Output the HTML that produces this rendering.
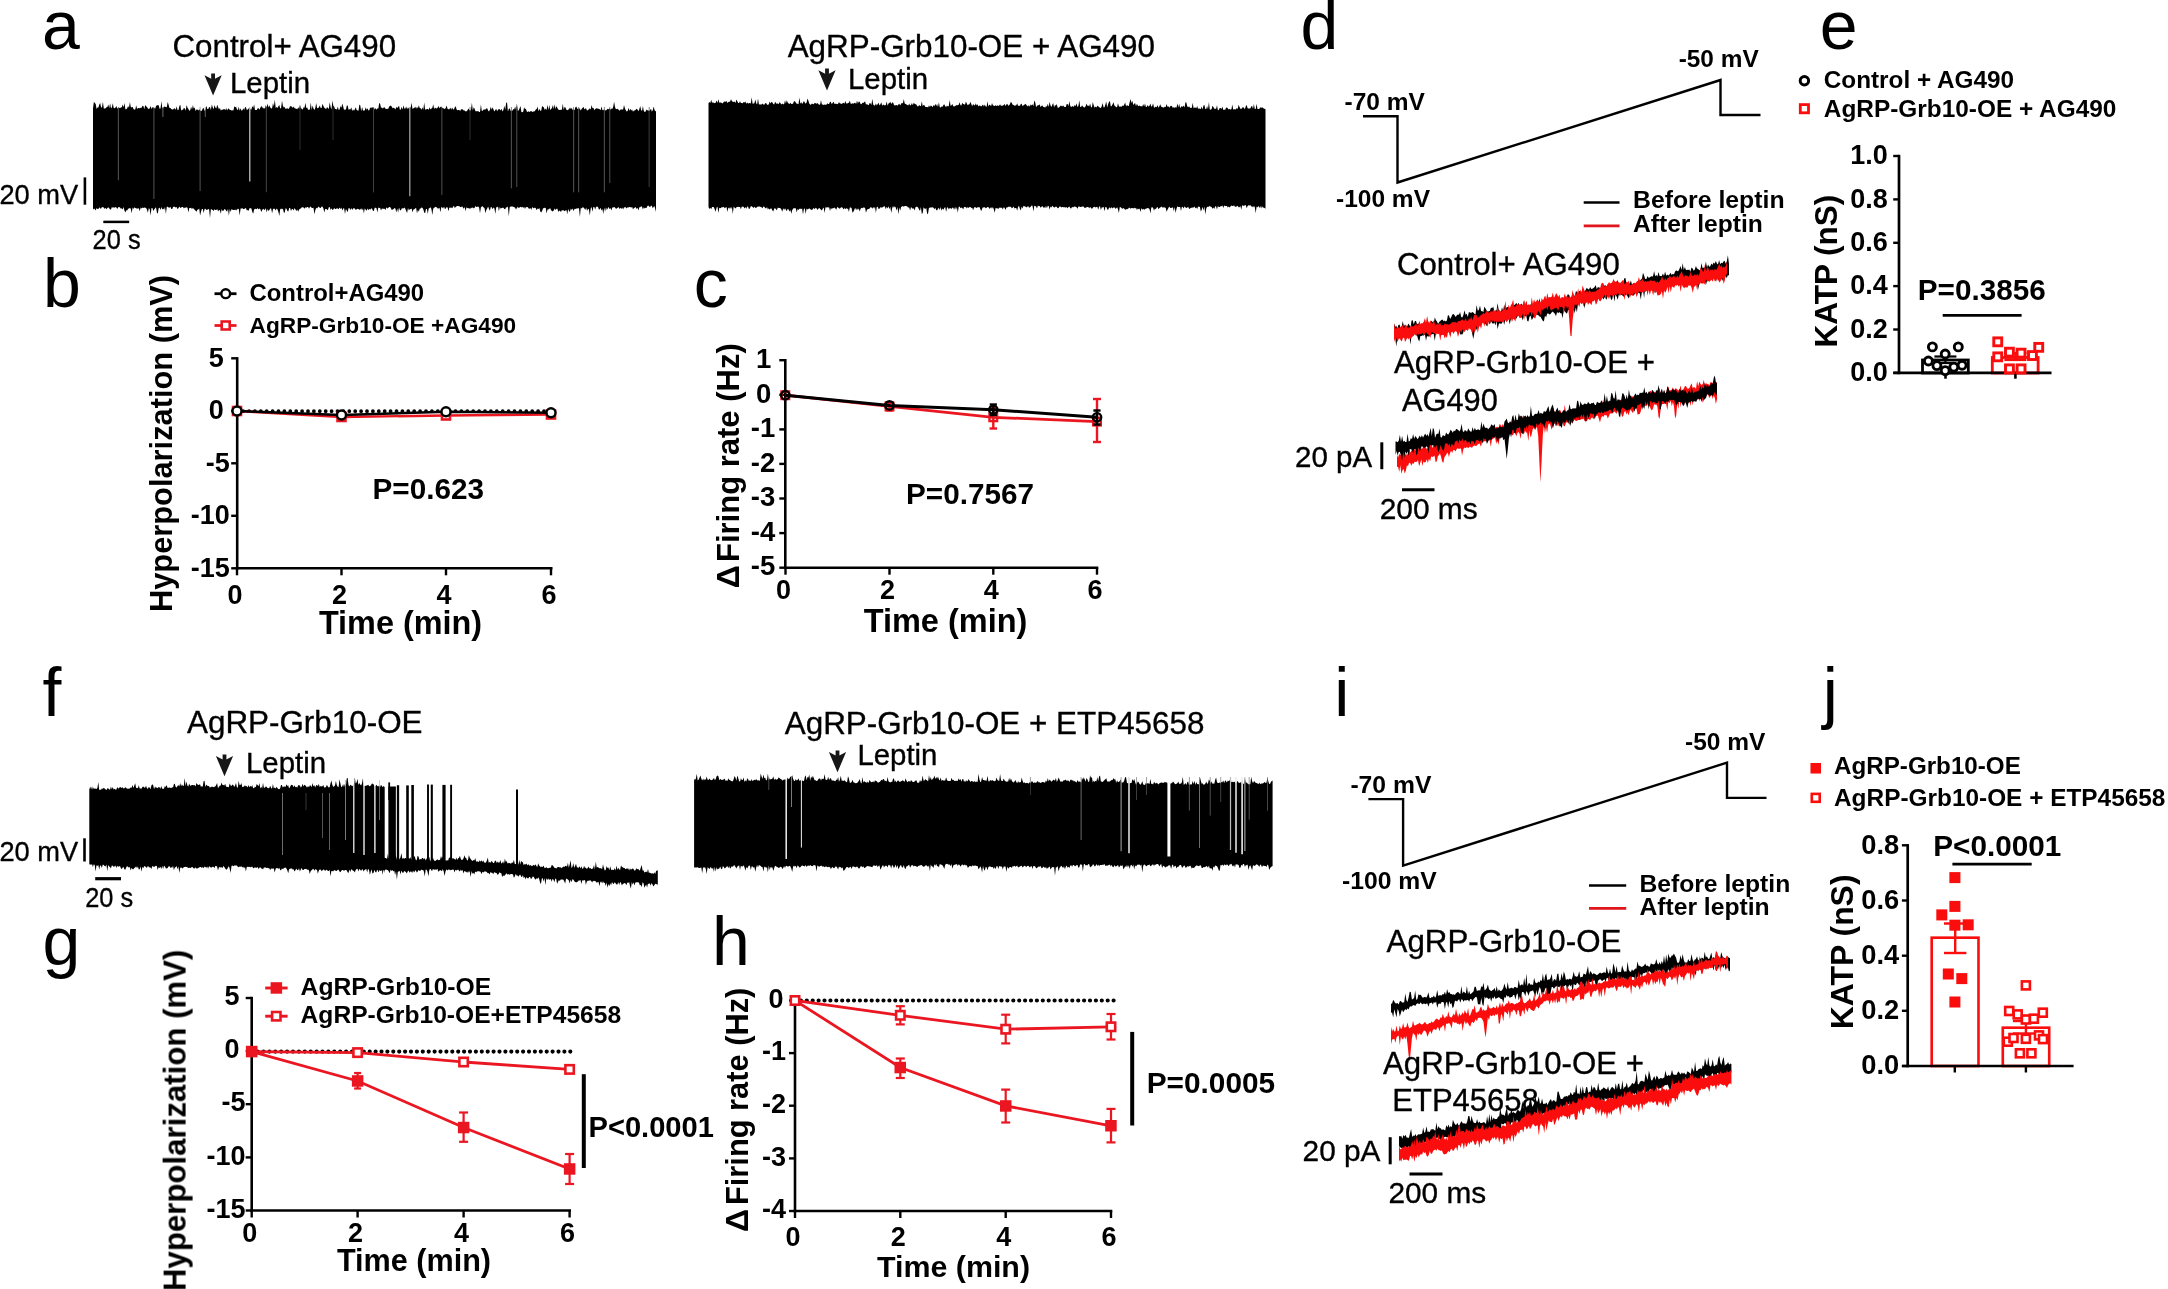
<!DOCTYPE html>
<html lang="en"><head><meta charset="utf-8"><title>Figure</title>
<style>
html,body{margin:0;padding:0;background:#fff;}
body{width:2168px;height:1289px;overflow:hidden;}
svg{display:block;font-family:"Liberation Sans",sans-serif;}
</style></head><body>
<svg width="2168" height="1289" viewBox="0 0 2168 1289">
<rect width="2168" height="1289" fill="#fff"/>
<g filter="url(#soft)">
<text x="42" y="48.7" font-size="68">a</text>
<text x="172.5" y="57" font-size="31.3" stroke="#000" stroke-width="0.35">Control+ AG490</text>
<polygon points="204.5,75.2 211.2,78.8 211.2,73.6 215,73.6 215,78.8 221.7,75.2 213.1,95.4" fill="#151515"/>
<text x="230" y="93" font-size="29.4" stroke="#000" stroke-width="0.35">Leptin</text>
<polygon points="93,108.3 93.9,101.8 94.8,102.9 95.7,104 96.6,109 97.5,107.5 98.4,107.6 99.3,104.5 100.2,103 101.1,107.5 102,107.2 102.9,101.7 103.8,108.6 104.7,108.6 105.6,108.3 106.5,107.3 107.4,106.9 108.3,104.6 109.2,108.2 110.1,103.2 111,108.5 111.9,107.3 112.8,103.3 113.7,107.9 114.6,108.2 115.5,107.6 116.4,105.9 117.3,108.8 118.2,107.6 119.1,107.7 120,107.9 120.9,107.5 121.8,107.3 122.7,104.4 123.6,107.3 124.5,102.9 125.4,109.3 126.3,109.2 127.2,108.3 128.1,105.9 129,107.7 129.9,102.1 130.8,107 131.7,107.6 132.6,106.7 133.5,108.9 134.4,109.7 135.3,109.3 136.2,105.2 137.1,108.9 138,108 138.9,107.9 139.8,108.3 140.7,107.8 141.6,107.7 142.5,105.8 143.4,106 144.3,109.3 145.2,105.1 146.1,106.2 147,107 147.9,108.4 148.8,108.9 149.7,108.3 150.6,106 151.5,108.9 152.4,107.2 153.3,107.5 154.2,108 155.1,108.7 156,106.2 156.9,105.3 157.8,105.3 158.7,105.3 159.6,108.8 160.5,108.4 161.4,101.3 162.3,108.3 163.2,107.7 164.1,106.6 165,106.7 165.9,106.9 166.8,107.3 167.7,101.9 168.6,104.7 169.5,108.1 170.4,108 171.3,109 172.2,109.6 173.1,109.4 174,108.6 174.9,108.4 175.8,109.7 176.7,106.2 177.6,110.3 178.5,110 179.4,106.1 180.3,104.8 181.2,110.8 182.1,109.6 183,110.1 183.9,107.8 184.8,108.5 185.7,110.5 186.6,104.9 187.5,107.7 188.4,109.1 189.3,110.8 190.2,110.3 191.1,106.8 192,109.5 192.9,105.1 193.8,108.4 194.7,107.5 195.6,111.1 196.5,109.6 197.4,109.4 198.3,110.4 199.2,109.2 200.1,110.2 201,111.2 201.9,110.5 202.8,108.6 203.7,107.9 204.6,111 205.5,109.6 206.4,105.8 207.3,109.1 208.2,109.1 209.1,107.2 210,107 210.9,109.9 211.8,104.6 212.7,107.2 213.6,109.3 214.5,104.9 215.4,107.4 216.3,108.5 217.2,104.8 218.1,106.9 219,109.4 219.9,107.8 220.8,110.5 221.7,109.8 222.6,109.8 223.5,109.3 224.4,109 225.3,110.2 226.2,107.9 227.1,110.5 228,108.7 228.9,108.6 229.8,110 230.7,110.1 231.6,110.4 232.5,110.3 233.4,110.6 234.3,106.3 235.2,107.2 236.1,106.7 237,109.6 237.9,109.9 238.8,106.8 239.7,110.8 240.6,108.2 241.5,110.8 242.4,110.2 243.3,108.2 244.2,110 245.1,107.1 246,107.6 246.9,110.3 247.8,109.3 248.7,108.4 249.6,107.2 250.5,109.5 251.4,109.6 252.3,106.1 253.2,108.1 254.1,104.3 255,109.9 255.9,109.9 256.8,110 257.7,108.2 258.6,108.3 259.5,109.7 260.4,107.6 261.3,106.2 262.2,106.7 263.1,108.7 264,107.4 264.9,109 265.8,104.9 266.7,107.5 267.6,103.4 268.5,107.6 269.4,105.3 270.3,107.6 271.2,108.5 272.1,108.3 273,103 273.9,106.6 274.8,99.5 275.7,107.9 276.6,106.9 277.5,107.9 278.4,106.2 279.3,104.9 280.2,108.5 281.1,108.1 282,100.8 282.9,105.7 283.8,107.5 284.7,107.1 285.6,108.9 286.5,108.6 287.4,108.3 288.3,108.9 289.2,108.2 290.1,105.9 291,106.6 291.9,106.5 292.8,108.1 293.7,106.5 294.6,108.2 295.5,108.6 296.4,108.8 297.3,109.3 298.2,107.2 299.1,108.9 300,104.4 300.9,108.7 301.8,108.4 302.7,109.8 303.6,107.2 304.5,107.7 305.4,102.8 306.3,108.1 307.2,107.4 308.1,109.8 309,109.8 309.9,109.4 310.8,102.6 311.7,109.9 312.6,105.4 313.5,108.4 314.4,109.9 315.3,107.9 316.2,102.9 317.1,108.1 318,108.2 318.9,107.2 319.8,105.4 320.7,108.1 321.6,108.1 322.5,103.8 323.4,105.9 324.3,107.8 325.2,108.3 326.1,109.3 327,107.1 327.9,107.9 328.8,109 329.7,102.3 330.6,106.9 331.5,109.6 332.4,100.5 333.3,105.8 334.2,106.7 335.1,109.3 336,108.8 336.9,109.7 337.8,106.4 338.7,109.9 339.6,109.6 340.5,106.1 341.4,107.7 342.3,103.6 343.2,106.6 344.1,110.3 345,108.9 345.9,109.9 346.8,105.4 347.7,105.6 348.6,109.7 349.5,109.3 350.4,109.5 351.3,107.2 352.2,111.1 353.1,109.2 354,110.7 354.9,109.3 355.8,107.2 356.7,110 357.6,110.4 358.5,110.8 359.4,104.4 360.3,105.5 361.2,111.2 362.1,107.1 363,110.3 363.9,110.7 364.8,110.3 365.7,107.3 366.6,109.7 367.5,108.3 368.4,110.6 369.3,110.2 370.2,107.2 371.1,108.5 372,106.7 372.9,107.9 373.8,107.5 374.7,109.6 375.6,108.1 376.5,109.8 377.4,108.3 378.3,108.8 379.2,103.1 380.1,103.7 381,107.7 381.9,107.4 382.8,108.6 383.7,107.6 384.6,107.3 385.5,108.8 386.4,108.9 387.3,108.7 388.2,108.9 389.1,106.6 390,106.1 390.9,105.4 391.8,106.7 392.7,108.3 393.6,107.8 394.5,108.2 395.4,109.4 396.3,107 397.2,107.7 398.1,107.3 399,105.6 399.9,109.7 400.8,109.5 401.7,106.7 402.6,109.5 403.5,105.3 404.4,108.8 405.3,108.5 406.2,106.6 407.1,109.3 408,107.3 408.9,108.7 409.8,107.7 410.7,107.5 411.6,102.8 412.5,109.1 413.4,108.3 414.3,108.1 415.2,106.6 416.1,108.7 417,106.7 417.9,108.5 418.8,105.3 419.7,108 420.6,108.2 421.5,109.8 422.4,107.3 423.3,109.8 424.2,102.6 425.1,109.5 426,109.6 426.9,109 427.8,108.9 428.7,109.7 429.6,107.2 430.5,109.4 431.4,108.4 432.3,108.1 433.2,104.2 434.1,109.1 435,107.6 435.9,108.2 436.8,108.5 437.7,107.4 438.6,106.1 439.5,108.2 440.4,107 441.3,106.5 442.2,108 443.1,108.1 444,108.7 444.9,109.1 445.8,107.7 446.7,105.4 447.6,108.9 448.5,109.2 449.4,109.3 450.3,107.6 451.2,109.7 452.1,107.6 453,109.3 453.9,109.6 454.8,107.2 455.7,106.3 456.6,109.4 457.5,110.3 458.4,110.1 459.3,110 460.2,110.9 461.1,109.2 462,109.2 462.9,109.4 463.8,110.5 464.7,110.5 465.6,111.5 466.5,111.3 467.4,110.6 468.3,108.6 469.2,109.6 470.1,111 471,109.4 471.9,102.8 472.8,110.4 473.7,107.3 474.6,108.7 475.5,111.3 476.4,111.2 477.3,111.3 478.2,110.9 479.1,112 480,111.9 480.9,104.4 481.8,110.9 482.7,110.8 483.6,109.6 484.5,109.6 485.4,109.5 486.3,108.4 487.2,108.3 488.1,110.4 489,111.4 489.9,109.8 490.8,106.8 491.7,109.8 492.6,107.3 493.5,109.6 494.4,111.4 495.3,109.9 496.2,108.8 497.1,111.3 498,109.8 498.9,109.1 499.8,109.3 500.7,110.4 501.6,108.7 502.5,111.4 503.4,110 504.3,105.8 505.2,109.8 506.1,103.2 507,102.1 507.9,111.4 508.8,108.9 509.7,108.2 510.6,110.7 511.5,110.8 512.4,110.8 513.3,109.1 514.2,109.5 515.1,106.6 516,109.7 516.9,103.6 517.8,110.8 518.7,110.4 519.6,108.3 520.5,105.9 521.4,112.1 522.3,112.3 523.2,111.8 524.1,107.3 525,109 525.9,108.8 526.8,111.6 527.7,111.9 528.6,111.3 529.5,111.9 530.4,111.3 531.3,110.9 532.2,112 533.1,111.5 534,111.6 534.9,110.9 535.8,109.5 536.7,108.9 537.6,106.5 538.5,111.2 539.4,108.8 540.3,110.7 541.2,110.7 542.1,106.1 543,106.7 543.9,107.5 544.8,109.9 545.7,108.6 546.6,110 547.5,104.8 548.4,109.9 549.3,104.9 550.2,109.9 551.1,109 552,107.9 552.9,105.1 553.8,109.1 554.7,104.3 555.6,108.9 556.5,106.1 557.4,108 558.3,109.6 559.2,110 560.1,109.8 561,109.9 561.9,109.4 562.8,103.8 563.7,109.7 564.6,107 565.5,107.6 566.4,109.7 567.3,110.2 568.2,109.8 569.1,109.1 570,107.6 570.9,109.1 571.8,107.9 572.7,109.9 573.6,109.4 574.5,110.3 575.4,107.3 576.3,106.6 577.2,108.6 578.1,109.3 579,108 579.9,109.1 580.8,110.5 581.7,108.7 582.6,107.9 583.5,106.7 584.4,109.5 585.3,108.3 586.2,108.8 587.1,110.7 588,109.8 588.9,109.5 589.8,108.2 590.7,109.5 591.6,105 592.5,108.2 593.4,107.8 594.3,110.2 595.2,109.1 596.1,108.6 597,108.3 597.9,108.8 598.8,108.8 599.7,109.2 600.6,110.3 601.5,106.5 602.4,109.9 603.3,110.2 604.2,109.3 605.1,110.3 606,110.5 606.9,109.5 607.8,108.8 608.7,109.2 609.6,108.3 610.5,109.8 611.4,108.4 612.3,109 613.2,106.8 614.1,101.8 615,106.9 615.9,109.2 616.8,109 617.7,108.8 618.6,109.7 619.5,110.7 620.4,109.6 621.3,109.6 622.2,109.4 623.1,109.6 624,105.1 624.9,108.2 625.8,110.3 626.7,111.4 627.6,111.1 628.5,107.8 629.4,110.7 630.3,108.8 631.2,110.5 632.1,109.6 633,111.8 633.9,110.4 634.8,110.4 635.7,109.7 636.6,108.7 637.5,109.4 638.4,111.3 639.3,109.2 640.2,106 641.1,109.9 642,111 642.9,106.1 643.8,111 644.7,111.9 645.6,111.4 646.5,109.5 647.4,110.3 648.3,110.6 649.2,111 650.1,110 651,108.8 651.9,111.7 652.8,110.1 653.7,106.6 654.6,110.3 656,111.4 656,211.9 654.6,206.3 653.7,206.8 652.8,208.2 651.9,205.9 651,205.4 650.1,207.2 649.2,206.6 648.3,205.5 647.4,206 646.5,207.9 645.6,207.8 644.7,208.6 643.8,207.3 642.9,209.5 642,206.8 641.1,206.2 640.2,207.3 639.3,207.2 638.4,210.4 637.5,207.8 636.6,208.9 635.7,207 634.8,207.7 633.9,207.9 633,209.6 632.1,206.7 631.2,207.7 630.3,206.9 629.4,206.9 628.5,207.5 627.6,207.2 626.7,208.6 625.8,207.2 624.9,207.3 624,207.4 623.1,209.6 622.2,207.4 621.3,209 620.4,207.7 619.5,209.1 618.6,207.1 617.7,207.8 616.8,208.5 615.9,208.8 615,207.4 614.1,207.1 613.2,207.5 612.3,207.6 611.4,210.5 610.5,208 609.6,209.2 608.7,206.9 607.8,208.3 606.9,210.1 606,207.3 605.1,211.6 604.2,207.7 603.3,214 602.4,208.9 601.5,210.5 600.6,207.7 599.7,209.4 598.8,209.3 597.9,206.7 597,206.8 596.1,206.7 595.2,209.4 594.3,207 593.4,207 592.5,211.8 591.6,207 590.7,208.6 589.8,215.5 588.9,209.3 588,208.7 587.1,211 586.2,207.6 585.3,209.9 584.4,208.6 583.5,207.4 582.6,207.3 581.7,208.6 580.8,207.8 579.9,216.9 579,208.2 578.1,208.2 577.2,208.6 576.3,208.4 575.4,209 574.5,208.7 573.6,211.3 572.7,208.6 571.8,209.9 570.9,208.5 570,211.5 569.1,211.6 568.2,208.7 567.3,214.2 566.4,210 565.5,210.6 564.6,211.3 563.7,210.2 562.8,210.5 561.9,209.9 561,211.9 560.1,210.9 559.2,210.4 558.3,211.9 557.4,208.7 556.5,208.7 555.6,209.9 554.7,208.4 553.8,210.2 552.9,211.4 552,211 551.1,210.3 550.2,208.3 549.3,208.7 548.4,209.5 547.5,209.6 546.6,213.5 545.7,208.1 544.8,207.8 543.9,207.9 543,208.5 542.1,211 541.2,212.4 540.3,211.5 539.4,208 538.5,209.1 537.6,208.5 536.7,210.3 535.8,208.3 534.9,207.6 534,208.2 533.1,208 532.2,207 531.3,209.9 530.4,208.1 529.5,208.7 528.6,208.4 527.7,207.1 526.8,207.2 525.9,206.9 525,209.1 524.1,206.8 523.2,208 522.3,206.8 521.4,207.5 520.5,206.7 519.6,207.6 518.7,208 517.8,206.7 516.9,208 516,209.6 515.1,207.5 514.2,207.2 513.3,206.8 512.4,206.4 511.5,206.6 510.6,206.5 509.7,207.3 508.8,216.3 507.9,206.4 507,207.4 506.1,207.3 505.2,209.2 504.3,208.9 503.4,207.7 502.5,207.8 501.6,208 500.7,208.7 499.8,206.9 498.9,211.2 498,206.6 497.1,207.3 496.2,207.3 495.3,214 494.4,208.2 493.5,207.5 492.6,209.2 491.7,207.3 490.8,207 489.9,210.7 489,209.1 488.1,206.5 487.2,208.6 486.3,210.1 485.4,213.2 484.5,208.1 483.6,207.4 482.7,206.3 481.8,206.4 480.9,207.4 480,213.2 479.1,207.4 478.2,206.6 477.3,206.7 476.4,206.9 475.5,205.9 474.6,207.8 473.7,208.6 472.8,207.2 471.9,208.2 471,207.6 470.1,209 469.2,208.2 468.3,208.2 467.4,207.9 466.5,207.2 465.6,211.2 464.7,207.1 463.8,208.7 462.9,207.5 462,206.3 461.1,207.2 460.2,206.9 459.3,206.2 458.4,205.9 457.5,206.1 456.6,206.3 455.7,206.9 454.8,207.9 453.9,205.7 453,206.9 452.1,208.2 451.2,207.6 450.3,207.8 449.4,207.5 448.5,211.2 447.6,207.4 446.7,207.1 445.8,208.5 444.9,209.1 444,206.6 443.1,208.6 442.2,207.6 441.3,206.9 440.4,212.3 439.5,207.8 438.6,208.5 437.7,208.4 436.8,207.5 435.9,206.7 435,207.2 434.1,207.8 433.2,208.7 432.3,214.9 431.4,208.9 430.5,207.2 429.6,208.1 428.7,208.4 427.8,213.9 426.9,208.9 426,209.1 425.1,213.2 424.2,212.4 423.3,209.3 422.4,207.7 421.5,207.6 420.6,208.4 419.7,208.7 418.8,211.8 417.9,209.7 417,213.6 416.1,207.7 415.2,208.6 414.3,209.3 413.4,209.6 412.5,212.2 411.6,208.5 410.7,209.3 409.8,209.1 408.9,210.5 408,207.9 407.1,212.9 406.2,211.1 405.3,208.7 404.4,207.6 403.5,208.5 402.6,208.2 401.7,208.6 400.8,210.6 399.9,210 399,207.4 398.1,212.6 397.2,208.4 396.3,212.4 395.4,208.4 394.5,208.1 393.6,209 392.7,209.5 391.8,209.9 390.9,208.2 390,207.1 389.1,207 388.2,208.1 387.3,208.5 386.4,207.2 385.5,210.1 384.6,208.7 383.7,208.7 382.8,208.7 381.9,208.4 381,210.4 380.1,207.7 379.2,207.9 378.3,207.6 377.4,212.4 376.5,208.2 375.6,207.8 374.7,207.8 373.8,211 372.9,210.7 372,208.6 371.1,208.4 370.2,209.7 369.3,208.8 368.4,210.3 367.5,208.6 366.6,210.8 365.7,209.7 364.8,208.2 363.9,213.4 363,208.5 362.1,210.2 361.2,208.2 360.3,209.5 359.4,209.7 358.5,209.1 357.6,208.8 356.7,209.3 355.8,209.9 354.9,208.5 354,208.3 353.1,208.6 352.2,210.1 351.3,208 350.4,210 349.5,208.2 348.6,208 347.7,212.3 346.8,210.4 345.9,208.9 345,213.9 344.1,208.2 343.2,208.4 342.3,210.6 341.4,207.8 340.5,209 339.6,207.4 338.7,209.3 337.8,208.4 336.9,208.2 336,209.1 335.1,209.1 334.2,207.9 333.3,209.6 332.4,210 331.5,208.2 330.6,209.9 329.7,207.1 328.8,207.3 327.9,210.3 327,209.6 326.1,209.1 325.2,209 324.3,212.6 323.4,208.5 322.5,206.8 321.6,206.4 320.7,207.9 319.8,208.1 318.9,206.6 318,207.2 317.1,208.5 316.2,207.8 315.3,210.3 314.4,214.3 313.5,207.7 312.6,208 311.7,207.9 310.8,206.5 309.9,206.9 309,208.8 308.1,207.1 307.2,207 306.3,207.7 305.4,207.3 304.5,208.7 303.6,207.5 302.7,207.3 301.8,207.2 300.9,208.4 300,208.8 299.1,209.6 298.2,211.8 297.3,209.5 296.4,210.9 295.5,209.6 294.6,208.1 293.7,210.4 292.8,209.1 291.9,209 291,211.1 290.1,208.1 289.2,207.9 288.3,211.6 287.4,211.1 286.5,208.7 285.6,208.3 284.7,212.7 283.8,212.6 282.9,208.4 282,209.4 281.1,208.6 280.2,209.3 279.3,216.1 278.4,211.9 277.5,209.4 276.6,208.6 275.7,210.5 274.8,209 273.9,208.4 273,209.3 272.1,213.2 271.2,208.8 270.3,208.3 269.4,209.9 268.5,211 267.6,208.9 266.7,212.6 265.8,208.1 264.9,210.1 264,209.5 263.1,208.8 262.2,210.1 261.3,211.9 260.4,209.3 259.5,208.4 258.6,209.6 257.7,208 256.8,209.3 255.9,208.8 255,209 254.1,209.6 253.2,213.8 252.3,212.1 251.4,208.5 250.5,208.2 249.6,208.1 248.7,210.8 247.8,210 246.9,210.4 246,208.3 245.1,208.2 244.2,208.9 243.3,209.1 242.4,208.3 241.5,208.5 240.6,208.6 239.7,215.6 238.8,208.9 237.9,208.8 237,209.4 236.1,210.6 235.2,209.4 234.3,209.9 233.4,210 232.5,209.7 231.6,209.1 230.7,212.1 229.8,208.9 228.9,215.7 228,208.8 227.1,211.8 226.2,210.8 225.3,209.4 224.4,209 223.5,210.8 222.6,211 221.7,209.1 220.8,213.7 219.9,210.3 219,210 218.1,211.4 217.2,209.1 216.3,209.9 215.4,209.9 214.5,209.3 213.6,211.1 212.7,210 211.8,209.6 210.9,209.1 210,218.1 209.1,208.9 208.2,209.3 207.3,209.7 206.4,210.1 205.5,208.8 204.6,209.1 203.7,213.1 202.8,209 201.9,208.9 201,211.7 200.1,215.6 199.2,208.5 198.3,209.4 197.4,209.8 196.5,211.7 195.6,210.7 194.7,209.7 193.8,209.1 192.9,207.7 192,209.3 191.1,207.7 190.2,207.9 189.3,208.1 188.4,212.5 187.5,207.8 186.6,207.3 185.7,207.8 184.8,207.4 183.9,208.5 183,206.9 182.1,206.9 181.2,207.5 180.3,208 179.4,206.6 178.5,207.9 177.6,209.3 176.7,207.1 175.8,207.5 174.9,207.1 174,206.6 173.1,207 172.2,209.1 171.3,209.1 170.4,206.7 169.5,207.8 168.6,207.6 167.7,206.7 166.8,206.8 165.9,213.9 165,207 164.1,209.7 163.2,208.5 162.3,209.4 161.4,207 160.5,210 159.6,207.7 158.7,208.1 157.8,213.7 156.9,212.4 156,207.3 155.1,208.2 154.2,209.6 153.3,211 152.4,208 151.5,208 150.6,215.6 149.7,209.1 148.8,208.2 147.9,212.8 147,209.7 146.1,207.9 145.2,207.7 144.3,207.5 143.4,207.9 142.5,207.4 141.6,208.6 140.7,207.6 139.8,211.2 138.9,208.6 138,208.3 137.1,208.8 136.2,208.3 135.3,208 134.4,207.3 133.5,208.9 132.6,207.4 131.7,213.3 130.8,208.8 129.9,208 129,208.5 128.1,208.8 127.2,210.4 126.3,210.3 125.4,212.4 124.5,210.8 123.6,207.1 122.7,209.6 121.8,208.2 120.9,208.7 120,207.4 119.1,207 118.2,207.3 117.3,209.1 116.4,207.5 115.5,206.9 114.6,207.7 113.7,207.3 112.8,207.7 111.9,207.1 111,209.6 110.1,209.6 109.2,208.3 108.3,207.2 107.4,207.9 106.5,209.3 105.6,207.8 104.7,209.1 103.8,207.6 102.9,207.2 102,207 101.1,208.5 100.2,208.6 99.3,207.3 98.4,208.9 97.5,209.1 96.6,207.9 95.7,210.4 94.8,208.9 93.9,208.6 93,209.7" fill="#000"/>
<line x1="118.4" y1="107" x2="118.4" y2="180.3" stroke="#777" stroke-width="0.7"/>
<line x1="153.9" y1="107" x2="153.9" y2="199" stroke="#777" stroke-width="0.7"/>
<line x1="162.9" y1="107" x2="162.9" y2="117" stroke="#888" stroke-width="0.8"/>
<line x1="200.1" y1="107" x2="200.1" y2="191" stroke="#777" stroke-width="0.7"/>
<line x1="205.3" y1="107" x2="205.3" y2="117" stroke="#888" stroke-width="0.7"/>
<line x1="249.8" y1="107" x2="249.8" y2="181.6" stroke="#ccc" stroke-width="1.2"/>
<line x1="266.3" y1="107" x2="266.3" y2="192.3" stroke="#666" stroke-width="0.7"/>
<line x1="373.6" y1="107" x2="373.6" y2="192.3" stroke="#666" stroke-width="0.7"/>
<line x1="409.8" y1="107" x2="409.8" y2="196.3" stroke="#aaa" stroke-width="1.2"/>
<line x1="441.9" y1="107" x2="441.9" y2="195" stroke="#666" stroke-width="0.8"/>
<line x1="511.4" y1="107" x2="511.4" y2="188.3" stroke="#666" stroke-width="0.8"/>
<line x1="516.8" y1="107" x2="516.8" y2="187" stroke="#666" stroke-width="0.8"/>
<line x1="573.6" y1="107" x2="573.6" y2="192.3" stroke="#666" stroke-width="0.8"/>
<line x1="578.6" y1="107" x2="578.6" y2="192.3" stroke="#666" stroke-width="0.8"/>
<line x1="604.4" y1="107" x2="604.4" y2="192.3" stroke="#666" stroke-width="0.8"/>
<line x1="609.8" y1="107" x2="609.8" y2="183" stroke="#666" stroke-width="0.8"/>
<line x1="649.2" y1="107" x2="649.2" y2="187" stroke="#555" stroke-width="0.7"/>
<line x1="300" y1="107" x2="300" y2="150" stroke="#444" stroke-width="0.6"/>
<line x1="333" y1="107" x2="333" y2="140" stroke="#444" stroke-width="0.6"/>
<line x1="470" y1="107" x2="470" y2="140" stroke="#444" stroke-width="0.6"/>
<text x="-0.6" y="203.5" font-size="28.3" stroke="#000" stroke-width="0.35" textLength="78.8" lengthAdjust="spacingAndGlyphs">20 mV</text>
<line x1="84.9" y1="177.4" x2="84.9" y2="204.7" stroke="#000" stroke-width="2.6"/>
<line x1="103.3" y1="221.9" x2="129.2" y2="221.9" stroke="#000" stroke-width="2.5"/>
<text x="92.6" y="248.6" font-size="27.6" stroke="#000" stroke-width="0.35" textLength="48" lengthAdjust="spacingAndGlyphs">20 s</text>
<text x="787.7" y="56.8" font-size="31.4" stroke="#000" stroke-width="0.35">AgRP-Grb10-OE + AG490</text>
<polygon points="818.4,70.2 825.1,73.8 825.1,68.6 828.9,68.6 828.9,73.8 835.6,70.2 827,90.4" fill="#151515"/>
<text x="848" y="89.2" font-size="29.4" stroke="#000" stroke-width="0.35">Leptin</text>
<polygon points="708.5,103 709.4,101.9 710.3,103 711.2,99.8 712.1,103 713,102 713.9,103.2 714.8,102.9 715.7,102.8 716.6,100.5 717.5,103.1 718.4,99.2 719.3,102.8 720.2,102.6 721.1,102.4 722,103.3 722.9,103.2 723.8,101.8 724.7,101.4 725.6,101.8 726.5,101.1 727.4,103.1 728.3,102.1 729.2,101.8 730.1,101.5 731,99.3 731.9,101 732.8,101.8 733.7,102.1 734.6,101.4 735.5,103 736.4,99.6 737.3,101.2 738.2,103 739.1,103.1 740,101.2 740.9,103.1 741.8,103 742.7,103.3 743.6,102.1 744.5,102.6 745.4,101.6 746.3,103.7 747.2,102.6 748.1,103.6 749,103.2 749.9,102.9 750.8,103.5 751.7,97.3 752.6,103.8 753.5,103.5 754.4,103.3 755.3,99.4 756.2,103.2 757.1,104.5 758,98.6 758.9,104.3 759.8,104.4 760.7,104.5 761.6,104.4 762.5,103.6 763.4,104.5 764.3,104.8 765.2,103.3 766.1,103 767,104.6 767.9,105 768.8,104.3 769.7,101.4 770.6,103.5 771.5,101.8 772.4,102.5 773.3,104.1 774.2,104.6 775.1,101.7 776,103.1 776.9,104.1 777.8,103.2 778.7,104.3 779.6,102 780.5,103.3 781.4,104.5 782.3,103.6 783.2,104.3 784.1,104.2 785,100.2 785.9,103.6 786.8,100.3 787.7,102.4 788.6,103.6 789.5,103.9 790.4,102.7 791.3,103.9 792.2,104.1 793.1,103.5 794,101.3 794.9,101.3 795.8,102.6 796.7,103.8 797.6,103.8 798.5,104.2 799.4,97.6 800.3,103.8 801.2,102.1 802.1,104.1 803,102.7 803.9,101 804.8,102.4 805.7,103.7 806.6,102.5 807.5,98.5 808.4,100.8 809.3,103.4 810.2,104.8 811.1,104.6 812,103.4 812.9,103.9 813.8,104.3 814.7,102.8 815.6,103.3 816.5,103.7 817.4,103.1 818.3,104.1 819.2,104.8 820.1,104.5 821,100.3 821.9,104.5 822.8,104.6 823.7,104.9 824.6,104.5 825.5,104.7 826.4,104.7 827.3,103.3 828.2,104 829.1,104 830,101.8 830.9,101.9 831.8,104.2 832.7,102.8 833.6,101.8 834.5,104.1 835.4,103.7 836.3,103.8 837.2,104.3 838.1,103.8 839,102.1 839.9,103.6 840.8,103.4 841.7,104 842.6,103.3 843.5,102.8 844.4,103.8 845.3,101 846.2,103.2 847.1,103.7 848,102.7 848.9,103 849.8,100.4 850.7,103.8 851.6,103.7 852.5,103.3 853.4,103.8 854.3,103 855.2,102.7 856.1,104 857,100.4 857.9,103.4 858.8,101.4 859.7,101.7 860.6,104.1 861.5,104.3 862.4,102.8 863.3,103.1 864.2,102.3 865.1,101.3 866,104.7 866.9,103.9 867.8,104.7 868.7,105.2 869.6,103.1 870.5,103.2 871.4,105.1 872.3,98.8 873.2,104.6 874.1,105.5 875,105.5 875.9,103.5 876.8,105.6 877.7,103.9 878.6,102.8 879.5,105.4 880.4,104.2 881.3,102.2 882.2,105.7 883.1,104.6 884,105.1 884.9,105.6 885.8,105.1 886.7,101.4 887.6,105.8 888.5,103.4 889.4,103.1 890.3,101.8 891.2,104 892.1,102.8 893,102.2 893.9,104.7 894.8,105.4 895.7,105.2 896.6,104.9 897.5,105.7 898.4,104.5 899.3,103.7 900.2,105.4 901.1,103.7 902,102.8 902.9,103.5 903.8,99.1 904.7,103.6 905.6,104 906.5,104.5 907.4,104.9 908.3,105.5 909.2,103.4 910.1,105.4 911,105.1 911.9,103.1 912.8,105.2 913.7,102.8 914.6,103.7 915.5,104.3 916.4,104.6 917.3,106.2 918.2,106.4 919.1,104.9 920,105.7 920.9,106.3 921.8,101.2 922.7,106.2 923.6,105.1 924.5,105.2 925.4,107 926.3,107.1 927.2,107.1 928.1,107.4 929,105.2 929.9,107.1 930.8,105.5 931.7,106.1 932.6,107.2 933.5,105 934.4,106.2 935.3,103.8 936.2,106 937.1,104.1 938,107 938.9,102.3 939.8,107.2 940.7,107.4 941.6,106.5 942.5,106.7 943.4,105.1 944.3,104.2 945.2,106.2 946.1,107.1 947,105.6 947.9,106.4 948.8,106 949.7,99.9 950.6,106.1 951.5,105.3 952.4,104 953.3,106.2 954.2,106.5 955.1,106.1 956,105.6 956.9,104.9 957.8,105.3 958.7,104.8 959.6,102.2 960.5,105.3 961.4,105.6 962.3,102.7 963.2,104 964.1,104.2 965,104.8 965.9,101.4 966.8,103.5 967.7,105.2 968.6,104.6 969.5,104.2 970.4,101.7 971.3,104 972.2,106.2 973.1,104 974,104.9 974.9,105.4 975.8,103.3 976.7,105.4 977.6,104.2 978.5,106.6 979.4,105.4 980.3,105.7 981.2,106.6 982.1,105.6 983,104.5 983.9,106.4 984.8,104.5 985.7,106.5 986.6,106.7 987.5,101.3 988.4,106.6 989.3,104.7 990.2,105 991.1,106.2 992,102.9 992.9,105.3 993.8,105.7 994.7,106.1 995.6,105.3 996.5,106 997.4,105.2 998.3,106.1 999.2,105.6 1000.1,104.3 1001,105.9 1001.9,105.5 1002.8,105.7 1003.7,105 1004.6,104.1 1005.5,106.1 1006.4,104.5 1007.3,103.7 1008.2,105.7 1009.1,105.2 1010,103.9 1010.9,101.7 1011.8,103 1012.7,104.8 1013.6,105 1014.5,105.8 1015.4,105.4 1016.3,105.3 1017.2,103.3 1018.1,105.9 1019,105.5 1019.9,106 1020.8,103.9 1021.7,103.7 1022.6,106.3 1023.5,105.3 1024.4,104.7 1025.3,103.7 1026.2,104.8 1027.1,105.7 1028,106.6 1028.9,105.1 1029.8,106.8 1030.7,104.2 1031.6,105.6 1032.5,104.3 1033.4,106.2 1034.3,100.5 1035.2,102.2 1036.1,107.2 1037,105.7 1037.9,105.2 1038.8,105.3 1039.7,104.2 1040.6,107.3 1041.5,105.7 1042.4,105.5 1043.3,106.9 1044.2,107.1 1045.1,107.8 1046,106.1 1046.9,106.7 1047.8,103.8 1048.7,107.1 1049.6,101.8 1050.5,105.6 1051.4,107.1 1052.3,104.8 1053.2,102.9 1054.1,107.5 1055,104.8 1055.9,105.7 1056.8,104 1057.7,107.7 1058.6,107.8 1059.5,106.9 1060.4,105.7 1061.3,105.8 1062.2,106.4 1063.1,105.2 1064,106.7 1064.9,106.9 1065.8,107.1 1066.7,104.1 1067.6,104.1 1068.5,106 1069.4,101.3 1070.3,106.1 1071.2,107.2 1072.1,106.1 1073,106.6 1073.9,106.7 1074.8,104.7 1075.7,106.3 1076.6,103.3 1077.5,106.9 1078.4,105.9 1079.3,100.2 1080.2,107 1081.1,107.1 1082,105.3 1082.9,106.5 1083.8,107.3 1084.7,107.4 1085.6,106.2 1086.5,103.4 1087.4,105.7 1088.3,105.6 1089.2,106.4 1090.1,103.6 1091,106.9 1091.9,107.6 1092.8,102.1 1093.7,105.3 1094.6,107.7 1095.5,106.5 1096.4,107.5 1097.3,105.8 1098.2,106.3 1099.1,107.1 1100,107.8 1100.9,108 1101.8,105.9 1102.7,102.9 1103.6,107.4 1104.5,107.3 1105.4,104.6 1106.3,101.5 1107.2,107.6 1108.1,104.2 1109,102.1 1109.9,100.9 1110.8,106.4 1111.7,105.9 1112.6,104.2 1113.5,102.2 1114.4,105.4 1115.3,106.3 1116.2,107.2 1117.1,107.1 1118,103.2 1118.9,106.3 1119.8,106.8 1120.7,106.5 1121.6,106.7 1122.5,105.5 1123.4,105.9 1124.3,104.6 1125.2,102.6 1126.1,106.6 1127,104.8 1127.9,106.1 1128.8,106 1129.7,102 1130.6,98.9 1131.5,103 1132.4,100.8 1133.3,104.9 1134.2,103.8 1135.1,102.9 1136,106.3 1136.9,103.8 1137.8,105.4 1138.7,106.3 1139.6,105.4 1140.5,106.2 1141.4,106.2 1142.3,106.6 1143.2,104.1 1144.1,106.6 1145,103.5 1145.9,106.9 1146.8,106.7 1147.7,104.9 1148.6,106.8 1149.5,105.8 1150.4,103.4 1151.3,106.8 1152.2,106.1 1153.1,103.2 1154,107.5 1154.9,107.5 1155.8,106.4 1156.7,107.3 1157.6,105 1158.5,107.8 1159.4,106.2 1160.3,104.3 1161.2,106.8 1162.1,107.1 1163,107.5 1163.9,107.6 1164.8,106.8 1165.7,107.1 1166.6,104.1 1167.5,106.7 1168.4,106.2 1169.3,107.7 1170.2,106.2 1171.1,105.8 1172,106.3 1172.9,108.1 1173.8,106.9 1174.7,107.9 1175.6,106.9 1176.5,107.8 1177.4,103.2 1178.3,107.6 1179.2,103.8 1180.1,108.1 1181,106.9 1181.9,105.9 1182.8,107 1183.7,105.4 1184.6,107.6 1185.5,101.9 1186.4,102.8 1187.3,106.6 1188.2,107.2 1189.1,106.2 1190,107.8 1190.9,107.9 1191.8,107.8 1192.7,102.8 1193.6,108.3 1194.5,107.5 1195.4,107.5 1196.3,108.3 1197.2,106.1 1198.1,108.9 1199,108.3 1199.9,108.7 1200.8,109.1 1201.7,106.5 1202.6,109.4 1203.5,105.5 1204.4,105.1 1205.3,108.9 1206.2,108.9 1207.1,106 1208,109.2 1208.9,102 1209.8,109.4 1210.7,109.8 1211.6,108.9 1212.5,105.8 1213.4,106.9 1214.3,108.8 1215.2,108.7 1216.1,108.7 1217,105.3 1217.9,110.2 1218.8,109.9 1219.7,108 1220.6,108 1221.5,109.1 1222.4,106.5 1223.3,109.9 1224.2,109.4 1225.1,110.1 1226,107.8 1226.9,107.6 1227.8,108.3 1228.7,109.6 1229.6,109.1 1230.5,109.6 1231.4,109.3 1232.3,104.4 1233.2,109.6 1234.1,109.2 1235,109.3 1235.9,109.4 1236.8,108 1237.7,108.9 1238.6,104.8 1239.5,106.9 1240.4,108.8 1241.3,109.1 1242.2,107.7 1243.1,107.1 1244,108.3 1244.9,109.1 1245.8,106.3 1246.7,104.9 1247.6,108.2 1248.5,108.5 1249.4,108.5 1250.3,108.4 1251.2,106.4 1252.1,106 1253,108.8 1253.9,104 1254.8,109 1255.7,109.1 1256.6,103.8 1257.5,109.1 1258.4,108.9 1259.3,108.9 1260.2,106.9 1261.1,108.3 1262,107.1 1262.9,108.1 1263.8,108.5 1265.5,109.2 1265.5,208.8 1263.8,207.6 1262.9,207.8 1262,206.1 1261.1,208.4 1260.2,206 1259.3,207.9 1258.4,205.8 1257.5,207.6 1256.6,206.5 1255.7,213.3 1254.8,206.9 1253.9,206 1253,207.5 1252.1,206.3 1251.2,206.4 1250.3,205 1249.4,205.4 1248.5,205.3 1247.6,205.9 1246.7,208.2 1245.8,205 1244.9,205.4 1244,205.6 1243.1,206.1 1242.2,204.9 1241.3,209.7 1240.4,206.1 1239.5,207.3 1238.6,207.3 1237.7,205.8 1236.8,206.5 1235.9,206.4 1235,207 1234.1,205.2 1233.2,206 1232.3,206.1 1231.4,205.5 1230.5,206.4 1229.6,207.6 1228.7,206.4 1227.8,207.4 1226.9,205.9 1226,206 1225.1,206 1224.2,205.4 1223.3,208 1222.4,205.6 1221.5,206.2 1220.6,206.2 1219.7,207 1218.8,207.1 1217.9,206 1217,209.5 1216.1,206.4 1215.2,206.2 1214.3,208.9 1213.4,207.6 1212.5,208.7 1211.6,207.1 1210.7,206.7 1209.8,206.1 1208.9,206.6 1208,206.9 1207.1,206.7 1206.2,208.8 1205.3,214.4 1204.4,206.4 1203.5,210.5 1202.6,206.7 1201.7,209.7 1200.8,211.4 1199.9,206.8 1199,207 1198.1,206.3 1197.2,208.9 1196.3,207.5 1195.4,208.3 1194.5,206.5 1193.6,207.6 1192.7,207.5 1191.8,207.8 1190.9,207.7 1190,208.6 1189.1,209.1 1188.2,206.8 1187.3,207.6 1186.4,208 1185.5,207.5 1184.6,206.3 1183.7,208.4 1182.8,207.1 1181.9,206.7 1181,211 1180.1,206.7 1179.2,207 1178.3,206.9 1177.4,206.3 1176.5,208.7 1175.6,213 1174.7,206.9 1173.8,211.2 1172.9,206.9 1172,208.1 1171.1,207.8 1170.2,208 1169.3,206.6 1168.4,208 1167.5,209.7 1166.6,211.7 1165.7,207.7 1164.8,207.7 1163.9,206.7 1163,208.2 1162.1,206.7 1161.2,206.7 1160.3,207.6 1159.4,207.9 1158.5,209.3 1157.6,207 1156.7,207.4 1155.8,209.2 1154.9,208.5 1154,210.8 1153.1,207.7 1152.2,207.3 1151.3,207.6 1150.4,213.4 1149.5,208.9 1148.6,208.3 1147.7,207.9 1146.8,208.4 1145.9,208.5 1145,209.2 1144.1,209.8 1143.2,208.7 1142.3,209.7 1141.4,208.1 1140.5,212 1139.6,208.5 1138.7,209.2 1137.8,208.5 1136.9,209.9 1136,207.8 1135.1,208.5 1134.2,207.8 1133.3,208.6 1132.4,207.9 1131.5,208.1 1130.6,208.8 1129.7,207.8 1128.8,207.7 1127.9,209.3 1127,208.7 1126.1,209.6 1125.2,209.8 1124.3,208.7 1123.4,208 1122.5,208.7 1121.6,208.2 1120.7,207.2 1119.8,207.1 1118.9,213 1118,209.3 1117.1,207.3 1116.2,208.3 1115.3,208.8 1114.4,207.2 1113.5,207.6 1112.6,208.6 1111.7,206.9 1110.8,208.8 1109.9,207.6 1109,207.7 1108.1,210 1107.2,209.2 1106.3,207.1 1105.4,207 1104.5,211.2 1103.6,206.7 1102.7,207.6 1101.8,207.2 1100.9,210.1 1100,206.6 1099.1,206.4 1098.2,209.7 1097.3,206.7 1096.4,207.1 1095.5,207.4 1094.6,206.8 1093.7,207.1 1092.8,207.8 1091.9,208.9 1091,207.8 1090.1,207.1 1089.2,208.2 1088.3,207.1 1087.4,207 1086.5,207.2 1085.6,207.8 1084.7,208.1 1083.8,206.8 1082.9,206.5 1082,206.4 1081.1,206.9 1080.2,207.1 1079.3,206.6 1078.4,206.5 1077.5,208.7 1076.6,207.2 1075.7,206.8 1074.8,206.5 1073.9,206.7 1073,207.4 1072.1,206.8 1071.2,208.6 1070.3,208.3 1069.4,206.5 1068.5,207 1067.6,208.3 1066.7,206.9 1065.8,207.8 1064.9,207 1064,207.6 1063.1,207 1062.2,207.1 1061.3,207.4 1060.4,206.5 1059.5,206.5 1058.6,207.9 1057.7,208.3 1056.8,207.1 1055.9,206.6 1055,207.2 1054.1,207.5 1053.2,206.8 1052.3,205.8 1051.4,207.4 1050.5,206.6 1049.6,209.4 1048.7,205.9 1047.8,205.7 1046.9,208.3 1046,205.8 1045.1,208.2 1044.2,207 1043.3,207.7 1042.4,206 1041.5,206.8 1040.6,207.8 1039.7,206 1038.8,206.2 1037.9,205.6 1037,208.4 1036.1,206.5 1035.2,206.1 1034.3,205.7 1033.4,211.6 1032.5,205.7 1031.6,205.4 1030.7,206.7 1029.8,207.6 1028.9,207.5 1028,205.7 1027.1,207.3 1026.2,207.2 1025.3,206.4 1024.4,206.3 1023.5,205.8 1022.6,208.6 1021.7,206.4 1020.8,210.6 1019.9,208.7 1019,206.1 1018.1,206.7 1017.2,210.7 1016.3,208.1 1015.4,208 1014.5,208.4 1013.6,206.4 1012.7,207.7 1011.8,208.3 1010.9,206.7 1010,206.7 1009.1,206.8 1008.2,206.7 1007.3,207.5 1006.4,207.6 1005.5,210 1004.6,207.7 1003.7,207.2 1002.8,209.6 1001.9,207.6 1001,207.9 1000.1,207.6 999.2,207.7 998.3,209 997.4,208.2 996.5,208.2 995.6,207.9 994.7,212.8 993.8,209.2 992.9,207 992,208.8 991.1,207.1 990.2,208.3 989.3,208.7 988.4,207 987.5,207 986.6,207.8 985.7,208.2 984.8,207.1 983.9,207.7 983,206.9 982.1,208.7 981.2,211.3 980.3,209 979.4,207 978.5,207.3 977.6,207.3 976.7,208.1 975.8,207.5 974.9,206.9 974,207.8 973.1,210.2 972.2,207.8 971.3,207.9 970.4,207 969.5,206.9 968.6,208 967.7,207.1 966.8,208.6 965.9,206.9 965,207.3 964.1,206.8 963.2,209.4 962.3,208.1 961.4,207.4 960.5,208.2 959.6,206.6 958.7,207 957.8,212.7 956.9,207.2 956,209.7 955.1,206.8 954.2,209.8 953.3,208.1 952.4,207.5 951.5,209.1 950.6,208.3 949.7,208.1 948.8,209.5 947.9,207.3 947,207.8 946.1,211.9 945.2,206.9 944.3,208 943.4,209.7 942.5,208.6 941.6,210.7 940.7,207 939.8,209.9 938.9,208.1 938,208.6 937.1,210.6 936.2,209.9 935.3,207.7 934.4,209.2 933.5,207.7 932.6,207.2 931.7,207.4 930.8,207.3 929.9,208 929,207.6 928.1,213.2 927.2,214.2 926.3,208.1 925.4,208.9 924.5,208.5 923.6,207.2 922.7,212.9 921.8,214 920.9,207 920,211.1 919.1,209.5 918.2,207.8 917.3,206.8 916.4,206.8 915.5,207.3 914.6,210.4 913.7,208.2 912.8,208.7 911.9,208.1 911,206.9 910.1,210.4 909.2,207.4 908.3,207.5 907.4,206.7 906.5,206 905.6,206 904.7,206 903.8,206.8 902.9,206 902,206.5 901.1,207 900.2,210.7 899.3,207.4 898.4,214.4 897.5,206.9 896.6,210.5 895.7,207.4 894.8,206.2 893.9,207.8 893,206 892.1,208.4 891.2,212.9 890.3,206.8 889.4,209.2 888.5,206.3 887.6,208.6 886.7,206.8 885.8,209.3 884.9,206.4 884,206.2 883.1,207.1 882.2,207.4 881.3,207.6 880.4,207.3 879.5,208.7 878.6,208.9 877.7,206.8 876.8,207.1 875.9,213 875,206.8 874.1,208.5 873.2,207 872.3,208.8 871.4,207.2 870.5,207.3 869.6,208.5 868.7,208.9 867.8,209 866.9,209.9 866,212.7 865.1,208 864.2,207.4 863.3,207.6 862.4,208.2 861.5,207.8 860.6,208.8 859.7,211.6 858.8,208.4 857.9,210 857,208.2 856.1,210.2 855.2,207.7 854.3,209.8 853.4,211.8 852.5,212.8 851.6,208.1 850.7,207.6 849.8,207.6 848.9,212 848,208.5 847.1,208.9 846.2,208.1 845.3,209.2 844.4,207.9 843.5,209.5 842.6,207.8 841.7,207.2 840.8,207.6 839.9,208.8 839,208.3 838.1,207.4 837.2,207.1 836.3,209.7 835.4,208.6 834.5,207.4 833.6,208.2 832.7,208 831.8,209.3 830.9,207.7 830,211.1 829.1,207.3 828.2,207.4 827.3,207.3 826.4,207.4 825.5,207.3 824.6,213 823.7,207.5 822.8,208.4 821.9,210.4 821,209.8 820.1,208.7 819.2,208 818.3,208.7 817.4,209.9 816.5,208.2 815.6,207.8 814.7,209.3 813.8,208.1 812.9,208.8 812,210.3 811.1,209.5 810.2,209.2 809.3,208.2 808.4,208.9 807.5,209.5 806.6,208.6 805.7,214.1 804.8,208.6 803.9,208.7 803,214.5 802.1,208.4 801.2,209 800.3,208.8 799.4,208.8 798.5,209.9 797.6,208.9 796.7,212.6 795.8,208.3 794.9,208.3 794,208.3 793.1,208.5 792.2,210.3 791.3,213.7 790.4,209.9 789.5,211.4 788.6,209.4 787.7,208.8 786.8,211.3 785.9,209.8 785,208.2 784.1,209.9 783.2,208.2 782.3,211.8 781.4,209.5 780.5,208.3 779.6,207.9 778.7,208 777.8,207.5 776.9,210.3 776,209.2 775.1,208.3 774.2,208.6 773.3,211.6 772.4,210.5 771.5,208.6 770.6,208.6 769.7,209.8 768.8,208.3 767.9,209.6 767,207 766.1,208.4 765.2,207.9 764.3,206.8 763.4,206.6 762.5,208.2 761.6,207.3 760.7,207.1 759.8,206.6 758.9,206.6 758,206.7 757.1,206.8 756.2,208.1 755.3,207.8 754.4,206.7 753.5,208 752.6,207 751.7,206.3 750.8,206.3 749.9,208.2 749,209.2 748.1,206.8 747.2,206.5 746.3,208.8 745.4,206.9 744.5,208.4 743.6,206.7 742.7,206.7 741.8,206.5 740.9,209.3 740,206.9 739.1,207 738.2,206.7 737.3,207.1 736.4,207.3 735.5,208.6 734.6,207.8 733.7,206.6 732.8,214 731.9,206.9 731,209 730.1,207 729.2,208.7 728.3,207.5 727.4,211.9 726.5,207 725.6,207.4 724.7,208.2 723.8,206.7 722.9,207.4 722,206.9 721.1,207.7 720.2,208.2 719.3,207.7 718.4,212.9 717.5,206.7 716.6,207.6 715.7,211.8 714.8,209.6 713.9,207.2 713,207 712.1,206.9 711.2,209.3 710.3,207.8 709.4,209 708.5,207" fill="#000"/>
<text x="42.9" y="306.8" font-size="68">b</text>
<text x="171.8" y="612" font-size="30.8" font-weight="bold" transform="rotate(-90 171.8 612)">Hyperpolarization (mV)</text>
<line x1="214.5" y1="293.7" x2="236.5" y2="293.7" stroke="#000" stroke-width="2.8"/>
<circle cx="225.7" cy="293.7" r="4.4" fill="#fff" stroke="#000" stroke-width="2.4"/>
<text x="249.5" y="301.3" font-size="23.9" font-weight="bold">Control+AG490</text>
<line x1="214.5" y1="325.5" x2="236.5" y2="325.5" stroke="#ea1620" stroke-width="2.8"/>
<rect x="221.7" y="321.5" width="8" height="8" fill="#fff" stroke="#ea1620" stroke-width="2.6"/>
<text x="249.5" y="333.3" font-size="22.7" font-weight="bold">AgRP-Grb10-OE +AG490</text>
<line x1="237.2" y1="357.1" x2="237.2" y2="569.5" stroke="#000" stroke-width="2.6"/>
<line x1="235.9" y1="568.3" x2="552.5" y2="568.3" stroke="#000" stroke-width="2.6"/>
<line x1="231.2" y1="358.3" x2="237.2" y2="358.3" stroke="#000" stroke-width="2.4"/>
<text x="223.7" y="366.6" font-size="27" font-weight="bold" text-anchor="end">5</text>
<line x1="231.2" y1="410.8" x2="237.2" y2="410.8" stroke="#000" stroke-width="2.4"/>
<text x="223.7" y="419.1" font-size="27" font-weight="bold" text-anchor="end">0</text>
<line x1="231.2" y1="463.3" x2="237.2" y2="463.3" stroke="#000" stroke-width="2.4"/>
<text x="229.7" y="471.6" font-size="27" font-weight="bold" text-anchor="end">-5</text>
<line x1="231.2" y1="515.8" x2="237.2" y2="515.8" stroke="#000" stroke-width="2.4"/>
<text x="229.7" y="524.1" font-size="27" font-weight="bold" text-anchor="end">-10</text>
<line x1="231.2" y1="568.3" x2="237.2" y2="568.3" stroke="#000" stroke-width="2.4"/>
<text x="229.7" y="576.6" font-size="27" font-weight="bold" text-anchor="end">-15</text>
<line x1="237" y1="568.3" x2="237" y2="575.3" stroke="#000" stroke-width="2.4"/>
<text x="235" y="603.5" font-size="27" font-weight="bold" text-anchor="middle">0</text>
<line x1="341.5" y1="568.3" x2="341.5" y2="575.3" stroke="#000" stroke-width="2.4"/>
<text x="339.5" y="603.5" font-size="27" font-weight="bold" text-anchor="middle">2</text>
<line x1="446" y1="568.3" x2="446" y2="575.3" stroke="#000" stroke-width="2.4"/>
<text x="444" y="603.5" font-size="27" font-weight="bold" text-anchor="middle">4</text>
<line x1="551" y1="568.3" x2="551" y2="575.3" stroke="#000" stroke-width="2.4"/>
<text x="549" y="603.5" font-size="27" font-weight="bold" text-anchor="middle">6</text>
<text x="400.5" y="634" font-size="32.4" font-weight="bold" text-anchor="middle">Time (min)</text>
<line x1="237.2" y1="411.2" x2="552" y2="411.2" stroke="#000" stroke-width="3.8" stroke-linecap="round" stroke-dasharray="0 5.9"/>
<polyline points="237,411 341.5,417 446,415.5 551,414.5" fill="none" stroke="#ea1620" stroke-width="2.4" stroke-linejoin="miter"/>
<rect x="233" y="407" width="8" height="8" fill="#fff" stroke="#ea1620" stroke-width="2.6"/>
<rect x="337.5" y="413" width="8" height="8" fill="#fff" stroke="#ea1620" stroke-width="2.6"/>
<rect x="442" y="411.5" width="8" height="8" fill="#fff" stroke="#ea1620" stroke-width="2.6"/>
<rect x="547" y="410.5" width="8" height="8" fill="#fff" stroke="#ea1620" stroke-width="2.6"/>
<polyline points="237,411 341.5,415 446,411.8 551,412.8" fill="none" stroke="#000" stroke-width="2.6" stroke-linejoin="miter"/>
<circle cx="237" cy="411" r="4.5" fill="#fff" stroke="#000" stroke-width="2.4"/>
<circle cx="341.5" cy="415" r="4.5" fill="#fff" stroke="#000" stroke-width="2.4"/>
<circle cx="446" cy="411.8" r="4.5" fill="#fff" stroke="#000" stroke-width="2.4"/>
<circle cx="551" cy="412.8" r="4.5" fill="#fff" stroke="#000" stroke-width="2.4"/>
<text x="372.5" y="499" font-size="29.7" font-weight="bold">P=0.623</text>
<text x="693.7" y="306.9" font-size="68">c</text>
<text x="738.7" y="588.3" font-size="32" font-weight="bold" transform="rotate(-90 738.7 588.3)">Δ</text>
<text x="738.7" y="562" font-size="31" font-weight="bold" transform="rotate(-90 738.7 562)">Firing rate (Hz)</text>
<line x1="785.3" y1="359" x2="785.3" y2="568.9" stroke="#000" stroke-width="2.6"/>
<line x1="784" y1="567.7" x2="1098.3" y2="567.7" stroke="#000" stroke-width="2.6"/>
<line x1="779.3" y1="360.2" x2="785.3" y2="360.2" stroke="#000" stroke-width="2.4"/>
<text x="771.3" y="367.9" font-size="27.5" font-weight="bold" text-anchor="end">1</text>
<line x1="779.3" y1="394.8" x2="785.3" y2="394.8" stroke="#000" stroke-width="2.4"/>
<text x="771.3" y="402.5" font-size="27.5" font-weight="bold" text-anchor="end">0</text>
<line x1="779.3" y1="429.4" x2="785.3" y2="429.4" stroke="#000" stroke-width="2.4"/>
<text x="775.3" y="437.1" font-size="27.5" font-weight="bold" text-anchor="end">-1</text>
<line x1="779.3" y1="463.9" x2="785.3" y2="463.9" stroke="#000" stroke-width="2.4"/>
<text x="775.3" y="471.6" font-size="27.5" font-weight="bold" text-anchor="end">-2</text>
<line x1="779.3" y1="498.5" x2="785.3" y2="498.5" stroke="#000" stroke-width="2.4"/>
<text x="775.3" y="506.2" font-size="27.5" font-weight="bold" text-anchor="end">-3</text>
<line x1="779.3" y1="533.1" x2="785.3" y2="533.1" stroke="#000" stroke-width="2.4"/>
<text x="775.3" y="540.8" font-size="27.5" font-weight="bold" text-anchor="end">-4</text>
<line x1="779.3" y1="567.7" x2="785.3" y2="567.7" stroke="#000" stroke-width="2.4"/>
<text x="775.3" y="575.4" font-size="27.5" font-weight="bold" text-anchor="end">-5</text>
<line x1="785.5" y1="567.7" x2="785.5" y2="574.7" stroke="#000" stroke-width="2.4"/>
<text x="783.5" y="599" font-size="27" font-weight="bold" text-anchor="middle">0</text>
<line x1="889.5" y1="567.7" x2="889.5" y2="574.7" stroke="#000" stroke-width="2.4"/>
<text x="887.5" y="599" font-size="27" font-weight="bold" text-anchor="middle">2</text>
<line x1="993.3" y1="567.7" x2="993.3" y2="574.7" stroke="#000" stroke-width="2.4"/>
<text x="991.3" y="599" font-size="27" font-weight="bold" text-anchor="middle">4</text>
<line x1="1097" y1="567.7" x2="1097" y2="574.7" stroke="#000" stroke-width="2.4"/>
<text x="1095" y="599" font-size="27" font-weight="bold" text-anchor="middle">6</text>
<text x="945.5" y="632.3" font-size="32.5" font-weight="bold" text-anchor="middle">Time (min)</text>
<line x1="889.5" y1="402.5" x2="889.5" y2="410.5" stroke="#ea1620" stroke-width="2.4"/>
<line x1="885.7" y1="402.5" x2="893.3" y2="402.5" stroke="#ea1620" stroke-width="2.4"/>
<line x1="885.7" y1="410.5" x2="893.3" y2="410.5" stroke="#ea1620" stroke-width="2.4"/>
<line x1="993.3" y1="407.8" x2="993.3" y2="428.5" stroke="#ea1620" stroke-width="2.4"/>
<line x1="989.5" y1="407.8" x2="997.1" y2="407.8" stroke="#ea1620" stroke-width="2.4"/>
<line x1="989.5" y1="428.5" x2="997.1" y2="428.5" stroke="#ea1620" stroke-width="2.4"/>
<line x1="1097" y1="399" x2="1097" y2="442" stroke="#ea1620" stroke-width="2.4"/>
<line x1="1093" y1="399" x2="1101" y2="399" stroke="#ea1620" stroke-width="2.4"/>
<line x1="1093" y1="442" x2="1101" y2="442" stroke="#ea1620" stroke-width="2.4"/>
<polyline points="785.3,395.2 889.5,406.4 993.3,417.3 1097,421.6" fill="none" stroke="#ea1620" stroke-width="2.8" stroke-linejoin="miter"/>
<rect x="781.5" y="391.4" width="7.6" height="7.6" fill="none" stroke="#ea1620" stroke-width="2.4"/>
<rect x="885.7" y="402.6" width="7.6" height="7.6" fill="none" stroke="#ea1620" stroke-width="2.4"/>
<rect x="989.5" y="413.5" width="7.6" height="7.6" fill="none" stroke="#ea1620" stroke-width="2.4"/>
<rect x="1093.2" y="417.8" width="7.6" height="7.6" fill="none" stroke="#ea1620" stroke-width="2.4"/>
<line x1="993.3" y1="404.5" x2="993.3" y2="415" stroke="#000" stroke-width="2.4"/>
<line x1="989.7" y1="404.5" x2="996.9" y2="404.5" stroke="#000" stroke-width="2.4"/>
<line x1="989.7" y1="415" x2="996.9" y2="415" stroke="#000" stroke-width="2.4"/>
<line x1="1097" y1="410.5" x2="1097" y2="424.5" stroke="#000" stroke-width="2.4"/>
<line x1="1093.4" y1="410.5" x2="1100.6" y2="410.5" stroke="#000" stroke-width="2.4"/>
<line x1="1093.4" y1="424.5" x2="1100.6" y2="424.5" stroke="#000" stroke-width="2.4"/>
<polyline points="785.3,395.2 889.5,405.4 993.3,409.8 1097,417.3" fill="none" stroke="#000" stroke-width="3" stroke-linejoin="miter"/>
<circle cx="785.3" cy="395.2" r="4.2" fill="none" stroke="#000" stroke-width="2.4"/>
<circle cx="889.5" cy="405.4" r="4.2" fill="none" stroke="#000" stroke-width="2.4"/>
<circle cx="993.3" cy="409.8" r="4.2" fill="none" stroke="#000" stroke-width="2.4"/>
<circle cx="1097" cy="417.3" r="4.2" fill="none" stroke="#000" stroke-width="2.4"/>
<text x="906" y="504" font-size="29.7" font-weight="bold">P=0.7567</text>
<text x="1300.4" y="48.7" font-size="68">d</text>
<polyline points="1363,116.2 1397.5,116.2 1397.5,182.5 1720.5,80 1720.5,115 1760.5,115" fill="none" stroke="#000" stroke-width="2.4" stroke-linejoin="miter"/>
<text x="1344.5" y="110" font-size="24.5" font-weight="bold">-70 mV</text>
<text x="1678.7" y="67" font-size="24.4" font-weight="bold">-50 mV</text>
<text x="1336" y="207" font-size="24.5" font-weight="bold">-100 mV</text>
<line x1="1583.7" y1="202.5" x2="1619.5" y2="202.5" stroke="#000" stroke-width="2.7"/>
<text x="1633" y="208.3" font-size="24.8" font-weight="bold">Before leptin</text>
<line x1="1583.7" y1="225.8" x2="1619.5" y2="225.8" stroke="#e0151d" stroke-width="2.7"/>
<text x="1633" y="232" font-size="24.6" font-weight="bold">After leptin</text>
<text x="1397" y="274.5" font-size="31.2" stroke="#000" stroke-width="0.35">Control+ AG490</text>
<polygon points="1394,323.2 1395.1,327 1396.2,325.6 1397.3,328.8 1398.4,325.1 1399.5,324.4 1400.6,328.2 1401.7,326.6 1402.8,320.9 1403.9,326.5 1405,324.2 1406.1,326.4 1407.2,326.5 1408.3,323.6 1409.4,325 1410.5,327.4 1411.6,320.5 1412.7,320.2 1413.8,324.4 1414.9,321 1416,321.1 1417.1,324.4 1418.2,323.2 1419.3,324.5 1420.4,324.8 1421.5,324.3 1422.7,324.5 1423.8,324.6 1424.9,325.4 1426,323.4 1427.1,324.7 1428.2,323.9 1429.3,323.8 1430.4,322.9 1431.5,320.7 1432.6,322.1 1433.7,323.7 1434.8,317.2 1435.9,320.2 1437,321.4 1438.1,324 1439.2,322 1440.3,320.9 1441.4,319.9 1442.5,319.5 1443.6,321.3 1444.7,320.4 1445.8,321.4 1446.9,320.4 1448,314.7 1449.1,316.1 1450.2,318.9 1451.3,317 1452.4,314.4 1453.5,313.9 1454.6,315.2 1455.7,317 1456.8,315.2 1457.9,314.5 1459,314.7 1460.1,311.9 1461.2,317 1462.3,317.6 1463.4,315 1464.5,310.2 1465.6,314.7 1466.7,313.7 1467.8,316.9 1468.9,311.9 1470,312.5 1471.1,313 1472.2,311.9 1473.3,312.4 1474.4,313.8 1475.5,314.5 1476.6,304.9 1477.8,310.7 1478.9,309.7 1480,305.5 1481.1,311.2 1482.2,311 1483.3,312.2 1484.4,306.6 1485.5,308.5 1486.6,310.4 1487.7,311.7 1488.8,311.2 1489.9,310.8 1491,307.6 1492.1,308.3 1493.2,306.5 1494.3,311 1495.4,310.8 1496.5,310.4 1497.6,302.9 1498.7,309.9 1499.8,310.7 1500.9,312.3 1502,307.2 1503.1,311 1504.2,304.5 1505.3,309.8 1506.4,307.6 1507.5,306.8 1508.6,308.1 1509.7,309.6 1510.8,307.7 1511.9,307.3 1513,305 1514.1,305 1515.2,304.5 1516.3,302.7 1517.4,304.9 1518.5,302.7 1519.6,304.9 1520.7,304.7 1521.8,303.6 1522.9,306.4 1524,300.2 1525.1,306.2 1526.2,301 1527.3,305.8 1528.4,304.7 1529.5,305.1 1530.6,304.6 1531.7,304.9 1532.8,305.2 1534,304.4 1535.1,307 1536.2,302.4 1537.3,305 1538.4,305.4 1539.5,298.1 1540.6,303.8 1541.7,303.7 1542.8,304.3 1543.9,304.5 1545,295.6 1546.1,303.8 1547.2,296 1548.3,298.7 1549.4,303.3 1550.5,302 1551.6,298.3 1552.7,301.7 1553.8,300.7 1554.9,302.1 1556,301.7 1557.1,295 1558.2,301.1 1559.3,300.8 1560.4,300.5 1561.5,297.6 1562.6,299.4 1563.7,300.9 1564.8,294.9 1565.9,298.5 1567,296.1 1568.1,293.8 1569.2,295.9 1570.3,297.9 1571.4,297.6 1572.5,292.2 1573.6,295 1574.7,296.1 1575.8,292.4 1576.9,290.9 1578,294.4 1579.1,291 1580.2,291.3 1581.3,293.3 1582.4,289.3 1583.5,288.9 1584.6,291.8 1585.7,289.7 1586.8,287.7 1587.9,289.1 1589,289.4 1590.2,286.9 1591.3,288.9 1592.4,288.8 1593.5,288.1 1594.6,287.1 1595.7,284.9 1596.8,289.2 1597.9,287 1599,287.6 1600.1,287.7 1601.2,288.1 1602.3,288.5 1603.4,287 1604.5,285.5 1605.6,285.2 1606.7,287.4 1607.8,284.1 1608.9,285.6 1610,284.7 1611.1,284.7 1612.2,283.8 1613.3,282.8 1614.4,283.3 1615.5,285.6 1616.6,283.8 1617.7,279.8 1618.8,284.5 1619.9,282.4 1621,282.9 1622.1,281.6 1623.2,282.7 1624.3,278.3 1625.4,278.1 1626.5,283.6 1627.6,283.5 1628.7,283.6 1629.8,283.7 1630.9,280.5 1632,284.8 1633.1,283.2 1634.2,283.5 1635.3,283.6 1636.4,283.8 1637.5,281.1 1638.6,282 1639.7,281.5 1640.8,279.5 1641.9,278.7 1643,272.7 1644.1,275.5 1645.2,279.1 1646.4,279.1 1647.5,275.9 1648.6,277.8 1649.7,277.6 1650.8,276.5 1651.9,276.2 1653,276.6 1654.1,271 1655.2,276.3 1656.3,275 1657.4,276.4 1658.5,271.9 1659.6,276 1660.7,276 1661.8,276 1662.9,273.5 1664,276.1 1665.1,271.5 1666.2,275.8 1667.3,274.5 1668.4,275.6 1669.5,274.6 1670.6,272.8 1671.7,275.1 1672.8,273.8 1673.9,274.4 1675,271.8 1676.1,270.2 1677.2,271.1 1678.3,271.2 1679.4,269 1680.5,266.1 1681.6,269.9 1682.7,263 1683.8,270 1684.9,267 1686,270.2 1687.1,269.8 1688.2,270 1689.3,269.4 1690.4,271.8 1691.5,267.4 1692.6,268.5 1693.7,270.7 1694.8,269.4 1695.9,266.1 1697,268.5 1698.1,269 1699.2,269.9 1700.3,270.6 1701.5,263 1702.6,268.3 1703.7,267.5 1704.8,267.7 1705.9,261.5 1707,267.5 1708.1,264.4 1709.2,266.7 1710.3,266.2 1711.4,263.6 1712.5,265 1713.6,262.6 1714.7,263.8 1715.8,260.9 1716.9,263.4 1718,264.5 1719.1,260 1720.2,264.2 1721.3,262.7 1722.4,263.3 1723.5,261.5 1724.6,260.8 1725.7,263.8 1726.8,261.6 1727.9,255.2 1729,263.9 1729,275.4 1727.9,274.9 1726.8,278 1725.7,276.5 1724.6,274.9 1723.5,281 1722.4,280.2 1721.3,274 1720.2,273.3 1719.1,275.3 1718,276.7 1716.9,281.7 1715.8,273.6 1714.7,275.6 1713.6,277.5 1712.5,273.5 1711.4,274.6 1710.3,277.6 1709.2,282.4 1708.1,277.9 1707,280.8 1705.9,285.3 1704.8,280.2 1703.7,276.5 1702.6,280.5 1701.5,284 1700.3,279.3 1699.2,283.9 1698.1,289.5 1697,278.5 1695.9,285.4 1694.8,282 1693.7,279.8 1692.6,282.6 1691.5,285.6 1690.4,284 1689.3,279.8 1688.2,281.6 1687.1,281.5 1686,281.2 1684.9,288.8 1683.8,281.4 1682.7,280.9 1681.6,281.9 1680.5,284.9 1679.4,281.1 1678.3,286.9 1677.2,281 1676.1,283.8 1675,283.5 1673.9,285.5 1672.8,284.8 1671.7,284.3 1670.6,285.2 1669.5,284.2 1668.4,284.5 1667.3,285.7 1666.2,285.9 1665.1,293 1664,286.2 1662.9,285.6 1661.8,287.2 1660.7,288.7 1659.6,288.7 1658.5,287 1657.4,294.4 1656.3,287.4 1655.2,288 1654.1,293.7 1653,287.8 1651.9,289 1650.8,290.3 1649.7,287.3 1648.6,287.8 1647.5,288.8 1646.4,291.2 1645.2,287.9 1644.1,298.2 1643,290.1 1641.9,291.9 1640.8,299.7 1639.7,293.2 1638.6,292.5 1637.5,293.9 1636.4,294.3 1635.3,292.9 1634.2,295.1 1633.1,295.7 1632,294.8 1630.9,295.3 1629.8,295.1 1628.7,298.6 1627.6,296.4 1626.5,293.7 1625.4,295.2 1624.3,296.2 1623.2,296.6 1622.1,294.9 1621,294.9 1619.9,293.8 1618.8,294.8 1617.7,299.8 1616.6,296.4 1615.5,294.5 1614.4,301.5 1613.3,294.2 1612.2,299.2 1611.1,299.9 1610,295.5 1608.9,295.9 1607.8,295.4 1606.7,299.9 1605.6,297.3 1604.5,297.6 1603.4,299.5 1602.3,296.8 1601.2,297.2 1600.1,300.4 1599,299.2 1597.9,298 1596.8,303.4 1595.7,297.4 1594.6,298.9 1593.5,300 1592.4,300.2 1591.3,301.3 1590.2,300.2 1589,299.7 1587.9,301.5 1586.8,302.4 1585.7,301.5 1584.6,308.4 1583.5,302.3 1582.4,302.3 1581.3,303 1580.2,301.5 1579.1,305.4 1578,303.1 1576.9,312.6 1575.8,307.2 1574.7,313.4 1573.6,308 1572.5,314 1571.4,307.1 1570.3,308.3 1569.2,309.9 1568.1,309.9 1567,313.8 1565.9,312.7 1564.8,311.6 1563.7,309.7 1562.6,318.4 1561.5,313.2 1560.4,313.3 1559.3,312 1558.2,313.2 1557.1,312.1 1556,316.2 1554.9,313.8 1553.8,312.8 1552.7,311.4 1551.6,312.5 1550.5,314.1 1549.4,314.4 1548.3,313.5 1547.2,313.6 1546.1,317.6 1545,315.5 1543.9,321.6 1542.8,320.8 1541.7,319.1 1540.6,316.7 1539.5,316.6 1538.4,315.2 1537.3,314.8 1536.2,314.4 1535.1,316.7 1534,316.6 1532.8,318.5 1531.7,319.9 1530.6,315.5 1529.5,316.8 1528.4,321.6 1527.3,321.1 1526.2,315.5 1525.1,316.7 1524,314.7 1522.9,320.4 1521.8,317.5 1520.7,317.1 1519.6,317.7 1518.5,315.4 1517.4,316.6 1516.3,318.7 1515.2,317.3 1514.1,319 1513,317.8 1511.9,318.2 1510.8,319.6 1509.7,324.4 1508.6,318.6 1507.5,318.7 1506.4,320.9 1505.3,319.7 1504.2,325.1 1503.1,320.1 1502,323.3 1500.9,324.1 1499.8,323 1498.7,324.6 1497.6,329.2 1496.5,321.1 1495.4,325.6 1494.3,322.2 1493.2,324 1492.1,322.9 1491,321.1 1489.9,324.6 1488.8,322.6 1487.7,321.1 1486.6,326.3 1485.5,323.8 1484.4,323.7 1483.3,321.6 1482.2,323.1 1481.1,324.6 1480,324.4 1478.9,324.6 1477.8,322.7 1476.6,330.6 1475.5,326.4 1474.4,332.7 1473.3,338.9 1472.2,333.7 1471.1,328 1470,327.2 1468.9,326.2 1467.8,325.7 1466.7,325.5 1465.6,327 1464.5,326.6 1463.4,332.3 1462.3,334.5 1461.2,334.2 1460.1,334.4 1459,329 1457.9,327.1 1456.8,327.9 1455.7,327 1454.6,326.9 1453.5,333.5 1452.4,326.7 1451.3,328.5 1450.2,336.3 1449.1,330.8 1448,329.6 1446.9,330.9 1445.8,329.8 1444.7,329.5 1443.6,332.2 1442.5,333.2 1441.4,335.3 1440.3,334.7 1439.2,333.2 1438.1,334 1437,332.7 1435.9,333.1 1434.8,341 1433.7,334 1432.6,334.1 1431.5,334.5 1430.4,334.9 1429.3,334.9 1428.2,336.9 1427.1,335.8 1426,340.8 1424.9,334.2 1423.8,335.6 1422.7,335.3 1421.5,335.9 1420.4,335.9 1419.3,341.6 1418.2,339.6 1417.1,335.8 1416,335 1414.9,333.7 1413.8,335 1412.7,336.4 1411.6,334.7 1410.5,344.8 1409.4,335.9 1408.3,337.3 1407.2,337.4 1406.1,339.1 1405,338 1403.9,337.5 1402.8,337.5 1401.7,338.1 1400.6,337.4 1399.5,338.7 1398.4,336.9 1397.3,338.4 1396.2,346.7 1395.1,336 1394,338.3" fill="#000"/>
<polygon points="1394,323 1395.1,328.3 1396.2,328.5 1397.3,327.8 1398.4,327.3 1399.5,327.9 1400.6,326.7 1401.7,326.1 1402.8,325.1 1403.9,328.8 1405,325.6 1406.1,324.7 1407.2,327.6 1408.3,327.6 1409.4,327.5 1410.5,326.4 1411.6,325.2 1412.7,326.7 1413.8,326 1415,325 1416.1,323.3 1417.2,326 1418.3,325 1419.4,320.7 1420.5,324.2 1421.6,323.1 1422.7,323.2 1423.8,321.5 1424.9,318.3 1426,322.6 1427.1,316 1428.2,321.3 1429.3,323 1430.4,320.3 1431.5,322.9 1432.6,323.5 1433.7,320.3 1434.8,323 1435.9,325.4 1437,323.5 1438.1,324.7 1439.2,323.4 1440.3,322.9 1441.4,325.7 1442.5,324.9 1443.6,325.6 1444.7,323.4 1445.8,324.4 1446.9,323.9 1448,324.5 1449.1,324.6 1450.2,323.9 1451.3,323.1 1452.4,322.2 1453.5,322.1 1454.6,322.4 1455.7,321.7 1456.9,322.9 1458,321.2 1459.1,321.1 1460.2,320.9 1461.3,320 1462.4,319.3 1463.5,320.7 1464.6,320.5 1465.7,317.9 1466.8,321 1467.9,321 1469,318 1470.1,319.8 1471.2,316.2 1472.3,320.4 1473.4,316.9 1474.5,314.6 1475.6,314.7 1476.7,315.2 1477.8,318.1 1478.9,317 1480,316 1481.1,314.5 1482.2,314.6 1483.3,312.7 1484.4,314.1 1485.5,312.6 1486.6,311 1487.7,311.6 1488.8,312.8 1489.9,312.5 1491,310.2 1492.1,312.2 1493.2,309.5 1494.3,311.1 1495.4,310.3 1496.5,311.9 1497.6,306.7 1498.8,310.9 1499.9,310.6 1501,311.9 1502.1,311 1503.2,308.8 1504.3,309.8 1505.4,300.7 1506.5,310.6 1507.6,309.1 1508.7,304.8 1509.8,308.2 1510.9,304.9 1512,303.6 1513.1,299.4 1514.2,306.5 1515.3,306.8 1516.4,304.4 1517.5,305.8 1518.6,304 1519.7,305.3 1520.8,304.1 1521.9,305.6 1523,304.6 1524.1,300.1 1525.2,305.6 1526.3,300.8 1527.4,305.3 1528.5,304.4 1529.6,304.8 1530.7,305.6 1531.8,297.2 1532.9,304.1 1534,299.5 1535.1,301.9 1536.2,301.4 1537.3,299.2 1538.4,301 1539.5,301.6 1540.7,302.6 1541.8,298.1 1542.9,300.4 1544,298.4 1545.1,295.6 1546.2,299.4 1547.3,293 1548.4,297.8 1549.5,297.1 1550.6,297.2 1551.7,296.8 1552.8,292.6 1553.9,297.8 1555,296.1 1556.1,293.1 1557.2,294.8 1558.3,296.9 1559.4,294.5 1560.5,298.8 1561.6,297.6 1562.7,296.9 1563.8,297.8 1564.9,293.3 1566,297.9 1567.1,295.3 1568.2,297.9 1569.3,294.7 1570.4,297.2 1571.5,298.3 1572.6,290 1573.7,295 1574.8,296.6 1575.9,291 1577,295.3 1578.1,288.3 1579.2,294.8 1580.3,289.4 1581.5,292.9 1582.6,285.5 1583.7,288.5 1584.8,291.5 1585.9,292.4 1587,289.8 1588.1,292.7 1589.2,290.1 1590.3,291.3 1591.4,292.6 1592.5,291.7 1593.6,291.7 1594.7,291.5 1595.8,291.5 1596.9,290 1598,289.8 1599.1,288.5 1600.2,287.9 1601.3,283.7 1602.4,282.8 1603.5,283.4 1604.6,286.8 1605.7,285.8 1606.8,285.9 1607.9,284.1 1609,282 1610.1,283.5 1611.2,282.9 1612.3,282.3 1613.4,279.1 1614.5,281 1615.6,282 1616.7,280.9 1617.8,282.7 1618.9,282 1620,283.5 1621.1,282.5 1622.2,280.4 1623.4,280.2 1624.5,284.1 1625.6,283.4 1626.7,281.5 1627.8,282.5 1628.9,280.5 1630,285.3 1631.1,285 1632.2,284 1633.3,284 1634.4,282.4 1635.5,283.4 1636.6,281.6 1637.7,282.1 1638.8,276.9 1639.9,280.4 1641,281.6 1642.1,278.2 1643.2,280.6 1644.3,281.7 1645.4,280.8 1646.5,282 1647.6,280.9 1648.7,281.6 1649.8,280.6 1650.9,280.2 1652,280.7 1653.1,281.1 1654.2,280.3 1655.3,281.8 1656.4,282.4 1657.5,281.2 1658.6,282.7 1659.7,281 1660.8,279.8 1661.9,275.8 1663,278.9 1664.1,280.4 1665.3,278.1 1666.4,280.3 1667.5,277.8 1668.6,278 1669.7,275.5 1670.8,277.2 1671.9,277.8 1673,276.6 1674.1,275.6 1675.2,277.7 1676.3,277.4 1677.4,275.3 1678.5,277.7 1679.6,274.5 1680.7,273.3 1681.8,271 1682.9,275.1 1684,277.3 1685.1,274.9 1686.2,275.8 1687.3,275.6 1688.4,276.7 1689.5,275.4 1690.6,271.8 1691.7,275.3 1692.8,276 1693.9,275.2 1695,273.9 1696.1,275.8 1697.2,273.4 1698.3,275.8 1699.4,273.9 1700.5,267.8 1701.6,269 1702.7,271.3 1703.8,271.9 1704.9,264.5 1706,271.6 1707.2,267.3 1708.3,268.1 1709.4,271.6 1710.5,269.5 1711.6,270 1712.7,269.4 1713.8,270.9 1714.9,268.6 1716,269.9 1717.1,268.4 1718.2,265.9 1719.3,263.5 1720.4,267.1 1721.5,264.7 1722.6,267.9 1723.7,266.4 1724.8,267.4 1725.9,265.2 1727,261.8 1727,274.7 1725.9,274.5 1724.8,280.5 1723.7,283.9 1722.6,277.8 1721.5,279.6 1720.4,281.2 1719.3,282.6 1718.2,280.1 1717.1,278.6 1716,280.7 1714.9,281.5 1713.8,278.6 1712.7,281.8 1711.6,279.8 1710.5,280.7 1709.4,280.9 1708.3,281.3 1707.2,281.6 1706,279.2 1704.9,284.5 1703.8,283.1 1702.7,283.9 1701.6,282.3 1700.5,283 1699.4,284.8 1698.3,284.4 1697.2,290.4 1696.1,284.9 1695,286 1693.9,287.2 1692.8,293.1 1691.7,288.1 1690.6,285.4 1689.5,285.4 1688.4,285.6 1687.3,287.8 1686.2,287.3 1685.1,287.2 1684,287.8 1682.9,287 1681.8,284.6 1680.7,292 1679.6,285.6 1678.5,286 1677.4,284.8 1676.3,285.7 1675.2,285.2 1674.1,288 1673,286.7 1671.9,286.7 1670.8,292.6 1669.7,286.2 1668.6,293.4 1667.5,286.8 1666.4,290.6 1665.3,292.4 1664.1,290.6 1663,298.9 1661.9,291.3 1660.8,293.9 1659.7,295 1658.6,295.3 1657.5,295.4 1656.4,291.4 1655.3,293.2 1654.2,290 1653.1,295.8 1652,290.6 1650.9,290.7 1649.8,294.9 1648.7,289.9 1647.6,295.6 1646.5,289.9 1645.4,292 1644.3,291.3 1643.2,292.9 1642.1,292.1 1641,292.2 1639.9,291.8 1638.8,291.5 1637.7,294 1636.6,297.3 1635.5,292.8 1634.4,293.4 1633.3,294 1632.2,296.2 1631.1,293.7 1630,297.9 1628.9,294.7 1627.8,293.3 1626.7,295.8 1625.6,292.6 1624.5,300.2 1623.4,293.9 1622.2,294.8 1621.1,293.6 1620,296.3 1618.9,294.4 1617.8,292.9 1616.7,295 1615.6,294 1614.5,295.5 1613.4,294.2 1612.3,296.8 1611.2,294.7 1610.1,296.1 1609,299.2 1607.9,296.5 1606.8,294.7 1605.7,299.4 1604.6,294.8 1603.5,297.1 1602.4,298 1601.3,300 1600.2,301.4 1599.1,300.2 1598,298 1596.9,303.1 1595.8,304.7 1594.7,299.8 1593.6,301.4 1592.5,301 1591.4,305.3 1590.3,303.4 1589.2,302.7 1588.1,305.1 1587,301.7 1585.9,303.4 1584.8,302.8 1583.7,306.4 1582.6,303.1 1581.5,304.3 1580.3,302.4 1579.2,307.2 1578.1,304 1577,304.4 1575.9,305.4 1574.8,304.1 1573.7,311.2 1572.6,320.2 1571.5,336.2 1570.4,335.8 1569.3,320.4 1568.2,305.9 1567.1,309.1 1566,305.7 1564.9,306.4 1563.8,314.3 1562.7,307.5 1561.6,306.9 1560.5,307.1 1559.4,306.5 1558.3,310.7 1557.2,309.1 1556.1,307.4 1555,307.9 1553.9,308.8 1552.8,309.3 1551.7,310.6 1550.6,309.9 1549.5,305.8 1548.4,306.5 1547.3,309.9 1546.2,307 1545.1,309.1 1544,308.2 1542.9,310.7 1541.8,309 1540.7,315.4 1539.5,312.5 1538.4,310.9 1537.3,313.5 1536.2,315.5 1535.1,318.8 1534,317.5 1532.9,311.8 1531.8,316.8 1530.7,312.3 1529.6,312.2 1528.5,314.9 1527.4,313.9 1526.3,316.4 1525.2,313.8 1524.1,320.1 1523,313.6 1521.9,316.2 1520.8,317.9 1519.7,317.8 1518.6,315.7 1517.5,315.7 1516.4,316.7 1515.3,321.6 1514.2,319.6 1513.1,318.7 1512,322 1510.9,317.9 1509.8,320.9 1508.7,319.3 1507.6,321 1506.5,322.3 1505.4,320.1 1504.3,320.5 1503.2,321.5 1502.1,322.3 1501,321.4 1499.9,321.5 1498.8,321.9 1497.6,321.2 1496.5,322.6 1495.4,321 1494.3,321.9 1493.2,320.3 1492.1,321.9 1491,319.7 1489.9,324 1488.8,320.9 1487.7,326.7 1486.6,324.4 1485.5,321.1 1484.4,326.7 1483.3,323.1 1482.2,323.3 1481.1,329.1 1480,325.4 1478.9,327.5 1477.8,332.9 1476.7,325.7 1475.6,330.4 1474.5,332.1 1473.4,329.3 1472.3,334.1 1471.2,328.8 1470.1,329.8 1469,328 1467.9,330.9 1466.8,330 1465.7,329.8 1464.6,332.2 1463.5,330 1462.4,329.6 1461.3,332.9 1460.2,330.2 1459.1,333.2 1458,336.9 1456.9,332.2 1455.7,331.1 1454.6,331.8 1453.5,333.9 1452.4,331.7 1451.3,332.2 1450.2,337.8 1449.1,332.6 1448,332.3 1446.9,337.9 1445.8,335.9 1444.7,338.4 1443.6,334.9 1442.5,335 1441.4,333.6 1440.3,340.7 1439.2,334.2 1438.1,333.9 1437,332.9 1435.9,335.5 1434.8,333.2 1433.7,333.8 1432.6,332.6 1431.5,331.8 1430.4,337.8 1429.3,336.3 1428.2,334.3 1427.1,333.4 1426,332.3 1424.9,333.4 1423.8,335.9 1422.7,332.7 1421.6,333.9 1420.5,333.9 1419.4,333.8 1418.3,334.7 1417.2,333.3 1416.1,336.3 1415,333.8 1413.8,335.5 1412.7,336.5 1411.6,337.3 1410.5,339.1 1409.4,337.8 1408.3,339.4 1407.2,337.6 1406.1,340.3 1405,342 1403.9,336.5 1402.8,338.6 1401.7,341.5 1400.6,340.2 1399.5,337.3 1398.4,339.7 1397.3,341.9 1396.2,337.7 1395.1,338.6 1394,342.3" fill="#fb0a0a"/>
<text x="1394" y="373" font-size="31.2" stroke="#000" stroke-width="0.35">AgRP-Grb10-OE +</text>
<text x="1402" y="410.5" font-size="30.8" stroke="#000" stroke-width="0.35">AG490</text>
<polygon points="1397,454.9 1398.1,457.5 1399.2,453.8 1400.3,455.3 1401.4,453.8 1402.5,450 1403.6,449.3 1404.7,455.9 1405.8,453 1406.9,455.4 1408,452.8 1409.1,449.4 1410.2,452.5 1411.3,451.1 1412.4,448 1413.6,451.5 1414.7,448.8 1415.8,451.1 1416.9,452.1 1418,445.3 1419.1,450.2 1420.2,448.5 1421.3,448.6 1422.4,448.4 1423.5,445.4 1424.6,445.4 1425.7,447.8 1426.8,449.1 1427.9,448.1 1429,445.3 1430.1,442.3 1431.2,443.3 1432.3,448.2 1433.4,444.8 1434.5,445 1435.6,445.1 1436.7,444.8 1437.8,446.1 1438.9,440.5 1440,446.3 1441.1,445 1442.2,443.9 1443.3,442 1444.4,440.8 1445.6,443.5 1446.7,441.3 1447.8,440.7 1448.9,438.5 1450,439.7 1451.1,437.5 1452.2,440.8 1453.3,438 1454.4,438.9 1455.5,436.2 1456.6,440.3 1457.7,439.2 1458.8,438 1459.9,436.6 1461,438.5 1462.1,437.7 1463.2,438.5 1464.3,432 1465.4,435.6 1466.5,438.2 1467.6,437.3 1468.7,438.3 1469.8,434.9 1470.9,436.2 1472,433.8 1473.1,435.2 1474.2,435.3 1475.3,435.6 1476.4,434.9 1477.6,429.8 1478.7,434 1479.8,434.5 1480.9,431.9 1482,427.9 1483.1,430.9 1484.2,432.3 1485.3,430.6 1486.4,431 1487.5,427.6 1488.6,429.9 1489.7,430.3 1490.8,426.5 1491.9,426.6 1493,426.5 1494.1,424.4 1495.2,428 1496.3,426.9 1497.4,426.7 1498.5,428 1499.6,424.1 1500.7,425.1 1501.8,426.6 1502.9,423.7 1504,427.2 1505.1,426.4 1506.2,425 1507.3,423.8 1508.4,426.6 1509.6,423 1510.7,421.2 1511.8,423.1 1512.9,424.5 1514,422.8 1515.1,419.9 1516.2,423 1517.3,419.8 1518.4,420.6 1519.5,421.7 1520.6,422 1521.7,422.6 1522.8,415.9 1523.9,415.6 1525,420.1 1526.1,420 1527.2,419 1528.3,419.4 1529.4,417.2 1530.5,419.2 1531.6,420.6 1532.7,418.4 1533.8,417.9 1534.9,417.3 1536,417.8 1537.1,417.4 1538.2,413.8 1539.3,417.1 1540.4,413.7 1541.6,416.9 1542.7,418.2 1543.8,410.8 1544.9,414.7 1546,414.5 1547.1,415 1548.2,410.5 1549.3,415.6 1550.4,414 1551.5,415.5 1552.6,408.3 1553.7,407.9 1554.8,413.9 1555.9,413.5 1557,412.7 1558.1,412.7 1559.2,410 1560.3,410.3 1561.4,412.6 1562.5,412.7 1563.6,413.4 1564.7,405 1565.8,411.6 1566.9,413.4 1568,409.2 1569.1,412.1 1570.2,408.9 1571.3,412.6 1572.4,410.6 1573.6,411.9 1574.7,409.2 1575.8,410.1 1576.9,409 1578,409.7 1579.1,409.3 1580.2,410.6 1581.3,409.5 1582.4,409.3 1583.5,406.4 1584.6,408.8 1585.7,405.8 1586.8,408.7 1587.9,409.8 1589,408.4 1590.1,405.8 1591.2,408.2 1592.3,407.4 1593.4,409.5 1594.5,404 1595.6,407.2 1596.7,406.7 1597.8,406.8 1598.9,406.9 1600,407.3 1601.1,403.3 1602.2,400.5 1603.3,406.3 1604.4,403.5 1605.6,404.1 1606.7,405 1607.8,402.9 1608.9,403.3 1610,401.9 1611.1,404.2 1612.2,403 1613.3,400.8 1614.4,399.8 1615.5,400.7 1616.6,403.7 1617.7,398.5 1618.8,401.3 1619.9,399.4 1621,400.2 1622.1,399.2 1623.2,401.1 1624.3,401.1 1625.4,400.8 1626.5,397.6 1627.6,402.2 1628.7,398.4 1629.8,401 1630.9,401.7 1632,396.8 1633.1,396.2 1634.2,398.8 1635.3,397.5 1636.4,400.3 1637.6,397.3 1638.7,397 1639.8,396.6 1640.9,397.3 1642,394.7 1643.1,394.6 1644.2,395.6 1645.3,393.6 1646.4,396.5 1647.5,394.2 1648.6,394.5 1649.7,390.9 1650.8,391 1651.9,394.6 1653,393.8 1654.1,392.6 1655.2,391.4 1656.3,393.9 1657.4,393.5 1658.5,390.7 1659.6,387.8 1660.7,394.2 1661.8,393.5 1662.9,393.4 1664,389.5 1665.1,393.4 1666.2,393.4 1667.3,387.3 1668.4,386.7 1669.6,391 1670.7,389.9 1671.8,389.7 1672.9,387.2 1674,391.1 1675.1,388.4 1676.2,388.5 1677.3,389.5 1678.4,390.5 1679.5,389.5 1680.6,385.6 1681.7,391.1 1682.8,390.1 1683.9,388.3 1685,386 1686.1,386.3 1687.2,388.6 1688.3,388.7 1689.4,388 1690.5,385.4 1691.6,383.2 1692.7,388.2 1693.8,387.1 1694.9,387.4 1696,389 1697.1,381.1 1698.2,386.6 1699.3,381.5 1700.4,383.8 1701.6,384.9 1702.7,384 1703.8,380 1704.9,385.2 1706,382.8 1707.1,384.5 1708.2,383.8 1709.3,385.7 1710.4,381.5 1711.5,385.1 1712.6,382.2 1713.7,385.2 1714.8,386.7 1715.9,382.9 1717,381.8 1717,398.9 1715.9,403.9 1714.8,397.7 1713.7,395.5 1712.6,399 1711.5,393.8 1710.4,396.5 1709.3,398 1708.2,395.3 1707.1,393.9 1706,396.7 1704.9,395.2 1703.8,400.3 1702.7,402.7 1701.6,395.6 1700.4,396.1 1699.3,401.4 1698.2,397.7 1697.1,396 1696,399.2 1694.9,396.4 1693.8,399.2 1692.7,405.2 1691.6,399.2 1690.5,405.9 1689.4,400.9 1688.3,401.3 1687.2,402.1 1686.1,398.1 1685,400.6 1683.9,406.3 1682.8,399.2 1681.7,401.1 1680.6,407.2 1679.5,399 1678.4,408.9 1677.3,403.4 1676.2,415.6 1675.1,418.4 1674,406.4 1672.9,402.1 1671.8,406.3 1670.7,400.6 1669.6,403.2 1668.4,401.8 1667.3,410.2 1666.2,404.1 1665.1,403.2 1664,404.1 1662.9,404.1 1661.8,404.3 1660.7,408.4 1659.6,419.1 1658.5,416.8 1657.4,406.5 1656.3,404.4 1655.2,404.8 1654.1,404.3 1653,408.6 1651.9,410.5 1650.8,408.9 1649.7,406.6 1648.6,405.6 1647.5,404.4 1646.4,406.2 1645.3,405.5 1644.2,406.3 1643.1,408.4 1642,405.7 1640.9,410.7 1639.8,414 1638.7,414.2 1637.6,414.6 1636.4,408.2 1635.3,409.3 1634.2,409.5 1633.1,412.7 1632,412.2 1630.9,409.6 1629.8,410.9 1628.7,415.5 1627.6,412.3 1626.5,414.5 1625.4,411 1624.3,412.1 1623.2,416 1622.1,417 1621,412.7 1619.9,412.3 1618.8,411.5 1617.7,411.3 1616.6,413.8 1615.5,412.4 1614.4,411.5 1613.3,412.7 1612.2,413.4 1611.1,413.5 1610,413.6 1608.9,416.3 1607.8,418.4 1606.7,415.3 1605.6,415.3 1604.4,415.1 1603.3,417 1602.2,415.9 1601.1,417.8 1600,422.5 1598.9,419 1597.8,415.2 1596.7,416 1595.6,416.2 1594.5,418 1593.4,419 1592.3,417.5 1591.2,418.1 1590.1,420.2 1589,419.1 1587.9,419.3 1586.8,421.2 1585.7,420.5 1584.6,421 1583.5,418.4 1582.4,419.2 1581.3,419.1 1580.2,420.1 1579.1,420.1 1578,420 1576.9,420.8 1575.8,421 1574.7,419.8 1573.6,420.7 1572.4,423.5 1571.3,422.1 1570.2,424.1 1569.1,424.7 1568,421.1 1566.9,421.9 1565.8,423.2 1564.7,426.5 1563.6,425.7 1562.5,423.1 1561.4,423.4 1560.3,423.7 1559.2,422.9 1558.1,426.4 1557,424.1 1555.9,426.6 1554.8,423.2 1553.7,424.6 1552.6,426.4 1551.5,429.8 1550.4,424.9 1549.3,423.2 1548.2,424.7 1547.1,432.9 1546,427.3 1544.9,433.2 1543.8,424.5 1542.7,436.5 1541.6,460.7 1540.4,482.6 1539.3,459.3 1538.2,435.9 1537.1,428 1536,427 1534.9,429.6 1533.8,427.8 1532.7,429.2 1531.6,434.7 1530.5,437.6 1529.4,430.6 1528.3,441 1527.2,432.8 1526.1,432.6 1525,430.7 1523.9,434.2 1522.8,432.6 1521.7,430.6 1520.6,438.9 1519.5,433.6 1518.4,432.1 1517.3,433.2 1516.2,436.5 1515.1,432.8 1514,432.9 1512.9,435.3 1511.8,434.9 1510.7,432.5 1509.6,433.9 1508.4,435.6 1507.3,437.1 1506.2,443.2 1505.1,434.6 1504,440.2 1502.9,435.1 1501.8,438.1 1500.7,437.9 1499.6,438.5 1498.5,445 1497.4,439.2 1496.3,444.1 1495.2,437.9 1494.1,437.8 1493,439 1491.9,439.4 1490.8,446.7 1489.7,440.4 1488.6,440 1487.5,441.9 1486.4,441.2 1485.3,441.2 1484.2,441.2 1483.1,442.3 1482,442.6 1480.9,446.7 1479.8,443.7 1478.7,443.7 1477.6,444.4 1476.4,446 1475.3,445.7 1474.2,445.6 1473.1,446.3 1472,447.8 1470.9,447.3 1469.8,446.4 1468.7,448 1467.6,447.5 1466.5,447.2 1465.4,448.2 1464.3,447.5 1463.2,449.7 1462.1,455.5 1461,448.6 1459.9,448.4 1458.8,449.1 1457.7,448 1456.6,449.3 1455.5,451.6 1454.4,450 1453.3,450 1452.2,452.9 1451.1,450.7 1450,453 1448.9,456.9 1447.8,452.4 1446.7,453.7 1445.6,455.6 1444.4,457.2 1443.3,463.1 1442.2,461.4 1441.1,456.9 1440,453.6 1438.9,455.1 1437.8,456.6 1436.7,461.4 1435.6,462.1 1434.5,455.6 1433.4,456.5 1432.3,457.1 1431.2,456.3 1430.1,461.3 1429,458.4 1427.9,463.1 1426.8,459.2 1425.7,462 1424.6,462.4 1423.5,461.2 1422.4,466 1421.3,459.3 1420.2,462.9 1419.1,466.2 1418,460.1 1416.9,461.8 1415.8,462.1 1414.7,461.8 1413.6,463.7 1412.4,463.3 1411.3,465.7 1410.2,462.9 1409.1,462.7 1408,465.9 1406.9,465.6 1405.8,470.8 1404.7,473.5 1403.6,468.8 1402.5,470.3 1401.4,473.8 1400.3,465.3 1399.2,472 1398.1,466.8 1397,467.1" fill="#fb0a0a"/>
<polygon points="1395.5,441.5 1396.6,441.6 1397.7,442.3 1398.8,440.6 1399.9,434.7 1401,441.9 1402.1,435.9 1403.2,441.8 1404.3,440.8 1405.4,442.1 1406.5,441.9 1407.6,433.4 1408.7,441.4 1409.8,441 1410.9,438.1 1412,439.3 1413.1,433.9 1414.2,438.7 1415.3,435.9 1416.4,437.3 1417.5,439.3 1418.6,437.7 1419.7,435.6 1420.8,437.7 1421.9,434.9 1423,437.7 1424.1,435.6 1425.2,433.5 1426.3,436.1 1427.4,434.1 1428.5,436.7 1429.6,432.4 1430.7,427.8 1431.8,436.3 1432.9,427.7 1434,429.5 1435.1,437.9 1436.2,434.5 1437.3,433.4 1438.4,433.9 1439.5,428.4 1440.6,437.3 1441.7,437.4 1442.8,435.2 1443.9,435.4 1445,436.3 1446.1,432.5 1447.2,434 1448.3,434.6 1449.5,432.4 1450.6,429.8 1451.7,431.1 1452.8,432.7 1453.9,430.5 1455,431.2 1456.1,428.9 1457.2,429.3 1458.3,430 1459.4,431.4 1460.5,429.5 1461.6,423.8 1462.7,430.9 1463.8,432.2 1464.9,430 1466,430.8 1467.1,431.7 1468.2,428.3 1469.3,430.2 1470.4,431.4 1471.5,431.8 1472.6,427.1 1473.7,430.9 1474.8,427.7 1475.9,429.9 1477,430 1478.1,429.1 1479.2,430.2 1480.3,429.6 1481.4,421.4 1482.5,428 1483.6,423.6 1484.7,427.2 1485.8,427.9 1486.9,427.8 1488,429.8 1489.1,428 1490.2,427.3 1491.3,424.3 1492.4,425.2 1493.5,426.1 1494.6,424 1495.7,429.5 1496.8,427.9 1497.9,428.3 1499,426.9 1500.1,426.6 1501.2,427.6 1502.3,427.1 1503.4,427.6 1504.5,421.6 1505.6,420.3 1506.7,418.5 1507.8,422.5 1508.9,423.2 1510,421.2 1511.1,423 1512.2,416.8 1513.3,414.9 1514.4,421.2 1515.5,414.4 1516.6,420.1 1517.7,420.1 1518.8,413.2 1519.9,416.7 1521,415.5 1522.1,416.8 1523.2,418.4 1524.3,416.3 1525.4,415.6 1526.5,417.2 1527.6,415.1 1528.7,417.1 1529.8,416.3 1530.9,406 1532,415.6 1533.1,416.3 1534.2,414.8 1535.3,413.8 1536.4,414 1537.5,413.6 1538.6,409.9 1539.7,414.1 1540.8,412.7 1541.9,413.5 1543,413.8 1544.1,411.1 1545.2,411.9 1546.3,410.9 1547.4,408.3 1548.5,405.9 1549.6,412.3 1550.7,409 1551.8,406 1552.9,404.6 1554,410.8 1555.1,412.3 1556.2,410.1 1557.4,407.4 1558.5,410.7 1559.6,411.8 1560.7,412.7 1561.8,413.2 1562.9,410.8 1564,409.9 1565.1,410.9 1566.2,411.7 1567.3,410.4 1568.4,410.3 1569.5,403.9 1570.6,409.1 1571.7,409.3 1572.8,408.2 1573.9,408.4 1575,408.3 1576.1,408.4 1577.2,400.6 1578.3,401.2 1579.4,407.4 1580.5,401.2 1581.6,404.3 1582.7,405.1 1583.8,404.3 1584.9,403.3 1586,404.3 1587.1,403.9 1588.2,401.8 1589.3,403.6 1590.4,404.3 1591.5,403.1 1592.6,403.3 1593.7,402.5 1594.8,405.1 1595.9,404.9 1597,401.7 1598.1,402.5 1599.2,403 1600.3,402.7 1601.4,400.2 1602.5,403 1603.6,401.5 1604.7,392.9 1605.8,402.3 1606.9,395.7 1608,401.9 1609.1,400.6 1610.2,401.2 1611.3,392.8 1612.4,393.7 1613.5,398.3 1614.6,398.4 1615.7,390.3 1616.8,400.9 1617.9,400.1 1619,399.2 1620.1,400.7 1621.2,400.1 1622.3,393.3 1623.4,393.5 1624.5,395.7 1625.6,399.5 1626.7,394.5 1627.8,399.3 1628.9,389.4 1630,395.8 1631.1,395.5 1632.2,398.6 1633.3,397.1 1634.4,395.3 1635.5,393.3 1636.6,395.5 1637.7,394.5 1638.8,395.3 1639.9,392.6 1641,393.3 1642.1,392.6 1643.2,392.7 1644.3,387.3 1645.4,393.3 1646.5,391.7 1647.6,394.1 1648.7,391.4 1649.8,392 1650.9,393.4 1652,389.9 1653.1,390.5 1654.2,392.6 1655.3,393.3 1656.4,390 1657.5,390.7 1658.6,384.7 1659.7,393.5 1660.8,391.5 1661.9,388.5 1663,393.2 1664.2,390.3 1665.3,393.4 1666.4,391.7 1667.5,386.1 1668.6,389 1669.7,391.4 1670.8,391.7 1671.9,390.5 1673,388.5 1674.1,390.8 1675.2,389.3 1676.3,391 1677.4,392.8 1678.5,392.8 1679.6,389.1 1680.7,390.4 1681.8,390.8 1682.9,389.6 1684,391.7 1685.1,389.6 1686.2,392.2 1687.3,394.1 1688.4,392 1689.5,389.6 1690.6,393.4 1691.7,386.8 1692.8,392 1693.9,393.3 1695,391.4 1696.1,391.9 1697.2,391.1 1698.3,391.2 1699.4,389.1 1700.5,386 1701.6,389.9 1702.7,386.7 1703.8,388.7 1704.9,382.7 1706,387.5 1707.1,384.5 1708.2,386.6 1709.3,385.9 1710.4,384.9 1711.5,381.9 1712.6,384.6 1713.7,377.9 1714.8,375.4 1715.9,382.3 1717,383.4 1717,394.3 1715.9,395.1 1714.8,392 1713.7,393.9 1712.6,395.9 1711.5,395.3 1710.4,395.7 1709.3,395.4 1708.2,394.2 1707.1,394.2 1706,397.9 1704.9,398.9 1703.8,400.2 1702.7,396.5 1701.6,401.9 1700.5,398.8 1699.4,399.6 1698.3,398.6 1697.2,399.8 1696.1,402.1 1695,401.2 1693.9,401.2 1692.8,402 1691.7,401 1690.6,401.9 1689.5,402.3 1688.4,402.9 1687.3,408 1686.2,404.2 1685.1,402 1684,405.6 1682.9,405.8 1681.8,403 1680.7,402.1 1679.6,402.1 1678.5,401.7 1677.4,403.5 1676.3,405.6 1675.2,403 1674.1,399.7 1673,400 1671.9,400.3 1670.8,399.7 1669.7,399.9 1668.6,401.2 1667.5,402 1666.4,401.3 1665.3,404.3 1664.2,402.2 1663,400.9 1661.9,400.9 1660.8,409.3 1659.7,409.3 1658.6,400.6 1657.5,403.4 1656.4,402.9 1655.3,403.3 1654.2,401.8 1653.1,402.1 1652,403.1 1650.9,400.5 1649.8,402.5 1648.7,409.5 1647.6,401.4 1646.5,405 1645.4,400.8 1644.3,409.3 1643.2,405.1 1642.1,409.9 1641,403.3 1639.9,404.1 1638.8,405 1637.7,404.4 1636.6,408.4 1635.5,407.7 1634.4,412 1633.3,407.2 1632.2,406.4 1631.1,408 1630,409.4 1628.9,409.2 1627.8,410.6 1626.7,410.3 1625.6,409.4 1624.5,408.7 1623.4,408 1622.3,407.6 1621.2,409.6 1620.1,417.4 1619,416.1 1617.9,409.5 1616.8,411 1615.7,409.8 1614.6,407.4 1613.5,408.8 1612.4,413.2 1611.3,411 1610.2,409.4 1609.1,410 1608,411.3 1606.9,411.1 1605.8,412.6 1604.7,411.3 1603.6,413 1602.5,412.9 1601.4,411.4 1600.3,413.5 1599.2,412 1598.1,412.7 1597,414.1 1595.9,414.6 1594.8,419.8 1593.7,413.3 1592.6,414.2 1591.5,414.1 1590.4,412.9 1589.3,416.6 1588.2,417.7 1587.1,413.8 1586,422.4 1584.9,419.4 1583.8,413.7 1582.7,417.5 1581.6,414.5 1580.5,416 1579.4,420 1578.3,416.2 1577.2,418.2 1576.1,416.7 1575,419.2 1573.9,417.3 1572.8,423.8 1571.7,419.7 1570.6,426.6 1569.5,419.3 1568.4,423.4 1567.3,421.9 1566.2,419.4 1565.1,422.7 1564,422.5 1562.9,421.2 1561.8,428.2 1560.7,425.9 1559.6,426.4 1558.5,422.5 1557.4,420.9 1556.2,426.2 1555.1,420.7 1554,424.4 1552.9,428.5 1551.8,422.4 1550.7,421.5 1549.6,423 1548.5,420.3 1547.4,421.7 1546.3,420.9 1545.2,423.9 1544.1,428.3 1543,423.5 1541.9,424.9 1540.8,422.3 1539.7,424.1 1538.6,424.7 1537.5,426.1 1536.4,423.1 1535.3,430.2 1534.2,426.4 1533.1,426.2 1532,424.9 1530.9,426.1 1529.8,424.6 1528.7,424.8 1527.6,429.1 1526.5,425.4 1525.4,429.5 1524.3,426.9 1523.2,434.4 1522.1,433.3 1521,432.4 1519.9,426.5 1518.8,428 1517.7,428 1516.6,428.4 1515.5,433.4 1514.4,432.9 1513.3,429.3 1512.2,430.5 1511.1,437.4 1510,433.4 1508.9,438.3 1507.8,449.5 1506.7,458.9 1505.6,448.8 1504.5,438.8 1503.4,440.2 1502.3,437.1 1501.2,436.8 1500.1,438.8 1499,437.4 1497.9,442.6 1496.8,439.6 1495.7,436.1 1494.6,437.2 1493.5,437.4 1492.4,437.3 1491.3,439.9 1490.2,439.5 1489.1,439.5 1488,441.8 1486.9,444.1 1485.8,439.1 1484.7,439.5 1483.6,438.1 1482.5,443.8 1481.4,439.5 1480.3,441.3 1479.2,441.6 1478.1,439.8 1477,440.2 1475.9,440.2 1474.8,444.3 1473.7,441.6 1472.6,441.3 1471.5,440.8 1470.4,444.4 1469.3,441.1 1468.2,442.6 1467.1,442.3 1466,440.3 1464.9,439.9 1463.8,442.1 1462.7,438.8 1461.6,440.4 1460.5,440.9 1459.4,439.5 1458.3,443.7 1457.2,439.7 1456.1,441.5 1455,441.2 1453.9,446.3 1452.8,444.9 1451.7,443.5 1450.6,447.5 1449.5,443.4 1448.3,445.4 1447.2,443 1446.1,443.4 1445,443.8 1443.9,450.8 1442.8,450.2 1441.7,448.2 1440.6,445.2 1439.5,449.3 1438.4,452.6 1437.3,447.9 1436.2,444.8 1435.1,448 1434,445.4 1432.9,445.1 1431.8,445.8 1430.7,444.7 1429.6,445.5 1428.5,453.6 1427.4,447.1 1426.3,446.2 1425.2,447.7 1424.1,447.4 1423,447.2 1421.9,446.1 1420.8,448.5 1419.7,451.7 1418.6,447.2 1417.5,453.2 1416.4,455.4 1415.3,448.8 1414.2,449.2 1413.1,453.6 1412,449.8 1410.9,449.2 1409.8,449.1 1408.7,455.7 1407.6,451.6 1406.5,454.1 1405.4,451.4 1404.3,457.8 1403.2,451.5 1402.1,460.5 1401,455.8 1399.9,451.9 1398.8,451.7 1397.7,455.4 1396.6,451.1 1395.5,455.1" fill="#000"/>
<text x="1295" y="466.6" font-size="29.5" stroke="#000" stroke-width="0.35">20 pA</text>
<line x1="1381.8" y1="442.3" x2="1381.8" y2="469.2" stroke="#000" stroke-width="3"/>
<line x1="1402" y1="489.8" x2="1434.5" y2="489.8" stroke="#000" stroke-width="3"/>
<text x="1379.7" y="519.3" font-size="29.9" stroke="#000" stroke-width="0.35">200 ms</text>
<text x="1819.7" y="48.7" font-size="68">e</text>
<circle cx="1804.4" cy="80.7" r="4.2" fill="#fff" stroke="#000" stroke-width="3"/>
<text x="1823.8" y="88" font-size="24.3" font-weight="bold">Control + AG490</text>
<rect x="1800.3" y="104.6" width="8.2" height="8.2" fill="#fff" stroke="#fa0a0a" stroke-width="2.8"/>
<text x="1823.8" y="116.6" font-size="24.4" font-weight="bold">AgRP-Grb10-OE + AG490</text>
<text x="1837.3" y="347.5" font-size="31.5" font-weight="bold" transform="rotate(-90 1837.3 347.5)">KATP (nS)</text>
<rect x="1922.5" y="360" width="45.8" height="13" fill="#fff" stroke="#000" stroke-width="2.8"/>
<rect x="1992.3" y="357.5" width="45.8" height="15.5" fill="#fff" stroke="#fa0a0a" stroke-width="2.8"/>
<line x1="1899" y1="154.8" x2="1899" y2="374.2" stroke="#000" stroke-width="2.7"/>
<line x1="1893.3" y1="372.9" x2="2051.5" y2="372.9" stroke="#000" stroke-width="2.7"/>
<line x1="1893.2" y1="156" x2="1899" y2="156" stroke="#000" stroke-width="2.4"/>
<text x="1887.7" y="164.2" font-size="27" font-weight="bold" text-anchor="end">1.0</text>
<line x1="1893.2" y1="199.4" x2="1899" y2="199.4" stroke="#000" stroke-width="2.4"/>
<text x="1887.7" y="207.6" font-size="27" font-weight="bold" text-anchor="end">0.8</text>
<line x1="1893.2" y1="242.8" x2="1899" y2="242.8" stroke="#000" stroke-width="2.4"/>
<text x="1887.7" y="251" font-size="27" font-weight="bold" text-anchor="end">0.6</text>
<line x1="1893.2" y1="286.1" x2="1899" y2="286.1" stroke="#000" stroke-width="2.4"/>
<text x="1887.7" y="294.3" font-size="27" font-weight="bold" text-anchor="end">0.4</text>
<line x1="1893.2" y1="329.5" x2="1899" y2="329.5" stroke="#000" stroke-width="2.4"/>
<text x="1887.7" y="337.7" font-size="27" font-weight="bold" text-anchor="end">0.2</text>
<line x1="1893.2" y1="372.9" x2="1899" y2="372.9" stroke="#000" stroke-width="2.4"/>
<text x="1887.7" y="381.1" font-size="27" font-weight="bold" text-anchor="end">0.0</text>
<line x1="1945.5" y1="372.9" x2="1945.5" y2="378.7" stroke="#000" stroke-width="2.6"/>
<line x1="2015.4" y1="372.9" x2="2015.4" y2="378.7" stroke="#000" stroke-width="2.6"/>
<text x="1917.8" y="299.5" font-size="29.7" font-weight="bold">P=0.3856</text>
<line x1="1942.7" y1="315.4" x2="2021.6" y2="315.4" stroke="#000" stroke-width="2.9"/>
<line x1="1945.4" y1="356.5" x2="1945.4" y2="363" stroke="#000" stroke-width="2.2"/>
<line x1="1934.4" y1="356.5" x2="1956.4" y2="356.5" stroke="#000" stroke-width="2.2"/>
<line x1="1934.4" y1="363" x2="1956.4" y2="363" stroke="#000" stroke-width="2.2"/>
<circle cx="1932.4" cy="346.9" r="4" fill="#fff" stroke="#000" stroke-width="2.9"/>
<circle cx="1958.3" cy="346.9" r="4" fill="#fff" stroke="#000" stroke-width="2.9"/>
<circle cx="1945.2" cy="354" r="4" fill="#fff" stroke="#000" stroke-width="2.9"/>
<circle cx="1928.4" cy="361" r="4" fill="#fff" stroke="#000" stroke-width="2.9"/>
<circle cx="1936.9" cy="365.6" r="4" fill="#fff" stroke="#000" stroke-width="2.9"/>
<circle cx="1953.8" cy="367.1" r="4" fill="#fff" stroke="#000" stroke-width="2.9"/>
<circle cx="1962.1" cy="365.2" r="4" fill="#fff" stroke="#000" stroke-width="2.9"/>
<circle cx="1945.2" cy="370.6" r="4" fill="#fff" stroke="#000" stroke-width="2.9"/>
<line x1="2015.4" y1="353" x2="2015.4" y2="360" stroke="#fa0a0a" stroke-width="2.2"/>
<line x1="2004.4" y1="353" x2="2026.4" y2="353" stroke="#fa0a0a" stroke-width="2.2"/>
<line x1="2004.4" y1="360" x2="2026.4" y2="360" stroke="#fa0a0a" stroke-width="2.2"/>
<rect x="1993.8" y="337.9" width="7.9" height="7.9" fill="#fff" stroke="#fa0a0a" stroke-width="2.9"/>
<rect x="2034.8" y="343.4" width="7.9" height="7.9" fill="#fff" stroke="#fa0a0a" stroke-width="2.9"/>
<rect x="2005.5" y="348.2" width="7.9" height="7.9" fill="#fff" stroke="#fa0a0a" stroke-width="2.9"/>
<rect x="2017.1" y="349.2" width="7.9" height="7.9" fill="#fff" stroke="#fa0a0a" stroke-width="2.9"/>
<rect x="2028.5" y="351.6" width="7.9" height="7.9" fill="#fff" stroke="#fa0a0a" stroke-width="2.9"/>
<rect x="1993.8" y="352.9" width="7.9" height="7.9" fill="#fff" stroke="#fa0a0a" stroke-width="2.9"/>
<rect x="2005.5" y="364.9" width="7.9" height="7.9" fill="#fff" stroke="#fa0a0a" stroke-width="2.9"/>
<rect x="2017.1" y="364.9" width="7.9" height="7.9" fill="#fff" stroke="#fa0a0a" stroke-width="2.9"/>
<text x="42.5" y="716.4" font-size="68">f</text>
<text x="187" y="732.5" font-size="31.4" stroke="#000" stroke-width="0.35">AgRP-Grb10-OE</text>
<polygon points="215.9,756 222.6,759.6 222.6,754.4 226.4,754.4 226.4,759.6 233.1,756 224.5,776.2" fill="#151515"/>
<text x="246" y="772.5" font-size="29.4" stroke="#000" stroke-width="0.35">Leptin</text>
<polygon points="360,856.5 360.9,855.8 361.8,855.8 362.7,854.9 363.6,854.5 364.5,856.5 365.4,856.4 366.3,855.9 367.2,857 368.1,857.1 369,857.8 369.9,858.4 370.8,858 371.7,856.9 372.6,858.5 373.5,857.3 374.4,854 375.3,857.6 376.2,858 377.1,857.7 378,859 378.9,858 379.8,857.5 380.7,858.4 381.6,857.1 382.5,859.3 383.4,856.6 384.3,857.7 385.2,857.9 386.1,858 387,858.9 387.9,853.8 388.8,858.9 389.7,853.7 390.6,856.6 391.5,859.3 392.4,858.1 393.3,858.8 394.2,859.5 395.1,855.3 396,856.3 396.9,859.5 397.8,859.3 398.7,857.1 399.6,859.4 400.5,857.2 401.4,852.9 402.3,859 403.2,857.7 404.1,858.9 405,858.1 405.9,858.1 406.8,858.4 407.7,858.6 408.6,858.1 409.5,858.7 410.4,857 411.3,860 412.2,858.6 413.1,857.7 414,855.8 414.9,857.1 415.8,860 416.7,860.3 417.6,855.7 418.5,856.6 419.4,859.7 420.3,859.1 421.2,859.5 422.1,857.9 423,857.9 423.9,859.5 424.8,858.1 425.7,860.6 426.6,858.8 427.5,856.3 428.4,860.4 429.3,856.8 430.2,861.4 431.1,859.3 432,859.4 432.9,857.6 433.8,860.1 434.7,860.9 435.6,860.8 436.5,860 437.4,859.2 438.3,860.3 439.2,860.1 440.1,859.8 441,856.1 441.9,858.6 442.8,856.2 443.7,860.6 444.6,859 445.5,860.7 446.4,860.5 447.3,860.3 448.2,860.6 449.1,857.2 450,858.3 450.9,856.3 451.8,859.5 452.7,858 453.6,858.6 454.5,859 455.4,860 456.3,857.4 457.2,860 458.1,858.3 459,858 459.9,855.8 460.8,859.1 461.7,860 462.6,859.8 463.5,858.5 464.4,855.2 465.3,857.7 466.2,857.9 467.1,860.5 468,860 468.9,855.1 469.8,857.8 470.7,858.9 471.6,860.3 472.5,861 473.4,860.1 474.3,860.5 475.2,858 476.1,861.4 477,861.5 477.9,861.4 478.8,862 479.7,860.3 480.6,861.7 481.5,860.3 482.4,862 483.3,860.4 484.2,862.6 485.1,862.8 486,862.5 486.9,860.5 487.8,857.6 488.7,862.7 489.6,862 490.5,862.8 491.4,860.9 492.3,861.7 493.2,862.9 494.1,863 495,860.4 495.9,860.9 496.8,862.9 497.7,861.6 498.6,862.7 499.5,862.5 500.4,859.9 501.3,863.6 502.2,863.1 503.1,861.2 504,863.8 504.9,858.6 505.8,862.1 506.7,861 507.6,863.6 508.5,863.1 509.4,862.9 510.3,863.6 511.2,863.6 512.1,862.3 513,862.9 513.9,859.8 514.8,864 515.7,864.1 516.6,864.2 517.5,863.9 518.4,864.4 519.3,859.8 520.2,864.6 521.1,861 522,861.8 522.9,862.6 523.8,865.2 524.7,864.1 525.6,864.6 526.5,863.6 527.4,865.6 528.3,864 529.2,865.8 530.1,865 531,865.5 531.9,866.3 532.8,865.6 533.7,864.8 534.6,865.8 535.5,864.2 536.4,866.1 537.3,867.1 538.2,863.3 539.1,865.5 540,866.2 540.9,867.3 541.8,866.5 542.7,866.9 543.6,865.5 544.5,867.9 545.4,868 546.3,867 547.2,868.3 548.1,867.9 549,868.2 549.9,867.5 550.8,867.8 551.7,865 552.6,865.3 553.5,866.4 554.4,867.8 555.3,868 556.2,868.5 557.1,867.6 558,867 558.9,867.1 559.8,867.5 560.7,867.2 561.6,868.3 562.5,867.3 563.4,866.5 564.3,867 565.2,866.1 566.1,865.8 567,866.7 567.9,862.8 568.8,867.8 569.7,864.6 570.6,860.2 571.5,868.1 572.4,866.9 573.3,863.1 574.2,867.7 575.1,866 576,863.7 576.9,867.2 577.8,867.5 578.7,867.8 579.6,866.3 580.5,868.4 581.4,866.2 582.3,868.7 583.2,868.6 584.1,865.7 585,868 585.9,867.6 586.8,869 587.7,867.9 588.6,866.4 589.5,868.6 590.4,868 591.3,868.9 592.2,869 593.1,867.9 594,865.1 594.9,869.6 595.8,861.4 596.7,867.6 597.6,867.1 598.5,867.6 599.4,868.2 600.3,868.2 601.2,868.2 602.1,869.3 603,864.3 603.9,868.1 604.8,870.5 605.7,870.1 606.6,866.1 607.5,867.9 608.4,867.5 609.3,870.2 610.2,866.2 611.1,869.5 612,870.2 612.9,869.6 613.8,870.3 614.7,868.1 615.6,870.4 616.5,865.6 617.4,869.7 618.3,867.7 619.2,869.2 620.1,869.9 621,865.2 621.9,867.1 622.8,867.2 623.7,868 624.6,868.1 625.5,869.2 626.4,868.6 627.3,868.8 628.2,868.3 629.1,870.6 630,868.2 630.9,869.7 631.8,869.1 632.7,868.6 633.6,868.9 634.5,870.8 635.4,870.2 636.3,868.3 637.2,869.2 638.1,868.8 639,870.1 639.9,870.5 640.8,867.4 641.7,865.1 642.6,870.4 643.5,870.2 644.4,872.4 645.3,872.1 646.2,871.4 647.1,872.5 648,869.1 648.9,872.9 649.8,872.4 650.7,873.3 651.6,873.5 652.5,873.3 653.4,873.9 654.3,872.3 655.2,874 656.1,870.9 657.8,870.2 657.8,884.7 656.1,884 655.2,883.7 654.3,885.3 653.4,886.6 652.5,884.5 651.6,883 650.7,885.7 649.8,883.2 648.9,884.1 648,883.5 647.1,887.4 646.2,884.6 645.3,886.1 644.4,887.7 643.5,883.3 642.6,882.2 641.7,887.2 640.8,884.8 639.9,885.5 639,882.8 638.1,882.2 637.2,882.2 636.3,882.2 635.4,882.4 634.5,885.5 633.6,882.3 632.7,884.7 631.8,882 630.9,888.7 630,885.7 629.1,882.1 628.2,883.1 627.3,882.4 626.4,885.3 625.5,883.6 624.6,882.9 623.7,883.5 622.8,884.1 621.9,885.6 621,882.8 620.1,882 619.2,885.1 618.3,882 617.4,884.5 616.5,884.6 615.6,883.2 614.7,882.3 613.8,883.9 612.9,883.4 612,882.1 611.1,885.3 610.2,883.3 609.3,886.3 608.4,884 607.5,887.8 606.6,882.4 605.7,886.1 604.8,882.7 603.9,883.1 603,881.3 602.1,883.4 601.2,881.4 600.3,882 599.4,886.3 598.5,881.8 597.6,882.3 596.7,882.8 595.8,881.4 594.9,880.7 594,881.3 593.1,880.8 592.2,882.6 591.3,881.2 590.4,880.2 589.5,880.5 588.6,880.7 587.7,880.7 586.8,881.6 585.9,884.9 585,880 584.1,880.3 583.2,880.4 582.3,880.3 581.4,884.1 580.5,880.1 579.6,880.4 578.7,880.5 577.8,881.4 576.9,882.2 576,882.2 575.1,882 574.2,881.1 573.3,879.5 572.4,879.2 571.5,882.2 570.6,879.6 569.7,883.4 568.8,880.5 567.9,879.4 567,879 566.1,878.6 565.2,883.6 564.3,881.4 563.4,879.8 562.5,879.4 561.6,879.5 560.7,879.6 559.8,881 558.9,879.9 558,881.9 557.1,883.8 556.2,878.9 555.3,878.6 554.4,882.3 553.5,879.8 552.6,878.7 551.7,881.8 550.8,878.9 549.9,879.4 549,879.7 548.1,878.2 547.2,880.2 546.3,878.1 545.4,885.3 544.5,878 543.6,881.5 542.7,877.9 541.8,878.8 540.9,884.3 540,882.2 539.1,878.7 538.2,877.2 537.3,878.9 536.4,878.2 535.5,879.7 534.6,878.4 533.7,876.7 532.8,876.4 531.9,877.9 531,879.3 530.1,876.9 529.2,876.9 528.3,878.4 527.4,878.3 526.5,877.1 525.6,879.5 524.7,876.7 523.8,878.2 522.9,875 522,877.2 521.1,876.5 520.2,874.5 519.3,875.3 518.4,876.7 517.5,875.4 516.6,875.5 515.7,873.8 514.8,876.5 513.9,877.8 513,874.4 512.1,874 511.2,874 510.3,874.2 509.4,874.8 508.5,874 507.6,874.8 506.7,873.2 505.8,874.1 504.9,875.5 504,875.8 503.1,875.6 502.2,877 501.3,873.2 500.4,873 499.5,872.2 498.6,873.9 497.7,875.1 496.8,873.2 495.9,872.9 495,872.4 494.1,872.2 493.2,874.3 492.3,872.8 491.4,872.8 490.5,871.9 489.6,874.4 488.7,873 487.8,873.3 486.9,872.2 486,871.6 485.1,871.4 484.2,871.5 483.3,872.5 482.4,871.8 481.5,874.2 480.6,871.7 479.7,871.4 478.8,871.2 477.9,871.3 477,871.6 476.1,872.2 475.2,871.6 474.3,874.4 473.4,872.8 472.5,873.8 471.6,870.9 470.7,877.1 469.8,872.1 468.9,870.9 468,873 467.1,871.5 466.2,872.4 465.3,871.2 464.4,871 463.5,873.5 462.6,870 461.7,871.1 460.8,869.5 459.9,871.5 459,870.7 458.1,869.4 457.2,870 456.3,870.5 455.4,869.7 454.5,872.4 453.6,869.5 452.7,869.6 451.8,870 450.9,869.7 450,870.5 449.1,869.2 448.2,869.7 447.3,870.4 446.4,869.2 445.5,871.5 444.6,876 443.7,871.4 442.8,868.9 441.9,871.2 441,870.6 440.1,870 439.2,871.1 438.3,871.8 437.4,868.8 436.5,869.8 435.6,869.4 434.7,869.7 433.8,869.4 432.9,869 432,871.2 431.1,869.8 430.2,868.8 429.3,870 428.4,876.4 427.5,871.5 426.6,869.7 425.7,869.5 424.8,876.5 423.9,871.5 423,869.8 422.1,870.3 421.2,869.6 420.3,870.9 419.4,870.8 418.5,869.9 417.6,871.8 416.7,872.6 415.8,869.9 414.9,871.2 414,872.4 413.1,870.5 412.2,872.9 411.3,871.6 410.4,871.5 409.5,872.7 408.6,870.5 407.7,871.4 406.8,873.6 405.9,872.1 405,871.6 404.1,871.1 403.2,873 402.3,872.4 401.4,870.4 400.5,874.4 399.6,870.7 398.7,871.6 397.8,871.7 396.9,879.7 396,871.2 395.1,875.1 394.2,870.6 393.3,871.6 392.4,870.1 391.5,871.1 390.6,869.6 389.7,873.2 388.8,871.5 387.9,870 387,870.2 386.1,869.3 385.2,869.9 384.3,870.2 383.4,870.3 382.5,869.7 381.6,870.6 380.7,871.1 379.8,870.5 378.9,869.3 378,869.9 377.1,869.9 376.2,872.5 375.3,871.9 374.4,869.8 373.5,872.9 372.6,873.1 371.7,869.5 370.8,871.6 369.9,875.1 369,869.8 368.1,868.6 367.2,872.6 366.3,869 365.4,869.2 364.5,869.9 363.6,871.5 362.7,869.3 361.8,869.2 360.9,870.1 360,868.4" fill="#000"/>
<polygon points="89.3,789.4 90.2,786.5 91.1,789.6 92,786.3 92.9,789.5 93.8,787.6 94.7,788.9 95.6,788.6 96.5,788.9 97.4,788.1 98.3,782.1 99.2,790.1 100.1,789.5 101,790.1 101.9,788.3 102.8,789.1 103.7,787.8 104.6,788.4 105.5,789.2 106.4,790.2 107.3,788.3 108.2,788.6 109.1,788.9 110,790.1 110.9,786.6 111.8,789.2 112.7,787.1 113.6,789.5 114.5,788.8 115.4,789.4 116.3,789.7 117.2,787.1 118.1,788.4 119,788.2 119.9,786.9 120.8,787.2 121.7,788 122.6,787.2 123.5,788.6 124.4,788.2 125.3,787.3 126.2,787.8 127.1,789.1 128,788.2 128.9,789 129.8,788.3 130.7,787.5 131.6,787.8 132.5,785.1 133.4,787.9 134.3,785.5 135.2,783.3 136.1,788.1 137,787.7 137.9,788.3 138.8,785.3 139.7,788.4 140.6,788.5 141.5,788.7 142.4,787.1 143.3,786.4 144.2,787.6 145.1,787.7 146,785.7 146.9,788 147.8,789.1 148.7,786.9 149.6,787.5 150.5,789.2 151.4,785.5 152.3,784.3 153.2,785.3 154.1,789.3 155,786.5 155.9,787.8 156.8,787.5 157.7,788.3 158.6,787 159.5,787.3 160.4,788.8 161.3,786.1 162.2,788.7 163.1,788.8 164,788.8 164.9,786.1 165.8,786.9 166.7,785.1 167.6,788.1 168.5,787.7 169.4,787.6 170.3,787.7 171.2,788.3 172.1,787.1 173,787.7 173.9,784 174.8,783.8 175.7,787 176.6,787.5 177.5,786 178.4,784.9 179.3,786.5 180.2,783.1 181.1,786.2 182,784.2 182.9,785.9 183.8,785.8 184.7,777.9 185.6,786 186.5,781.5 187.4,785.6 188.3,786.6 189.2,783.4 190.1,785.8 191,785.5 191.9,785.1 192.8,785 193.7,785.3 194.6,784.9 195.5,786.5 196.4,782.9 197.3,784.2 198.2,785.1 199.1,784.7 200,784.2 200.9,786.8 201.8,786.3 202.7,786.8 203.6,781.2 204.5,780.7 205.4,787 206.3,784.5 207.2,785.7 208.1,786.1 209,786.1 209.9,787.7 210.8,787.1 211.7,786.7 212.6,786.7 213.5,787.3 214.4,786.8 215.3,786.5 216.2,784.9 217.1,782.9 218,788.2 218.9,786.7 219.8,785.7 220.7,785.6 221.6,782.5 222.5,785.1 223.4,785.1 224.3,785.6 225.2,783.7 226.1,786.7 227,786.7 227.9,786.9 228.8,787.2 229.7,783.3 230.6,785.6 231.5,785.9 232.4,784.5 233.3,785.1 234.2,787 235.1,785.6 236,783.1 236.9,787.3 237.8,787.8 238.7,780.8 239.6,785.3 240.5,785.1 241.4,782.9 242.3,786.9 243.2,787 244.1,786.3 245,785.3 245.9,786.6 246.8,786.1 247.7,787.6 248.6,785 249.5,787.3 250.4,785.8 251.3,786.9 252.2,785.1 253.1,787.9 254,788.2 254.9,786.7 255.8,787.2 256.7,784.1 257.6,785.1 258.5,786.3 259.4,783.1 260.3,788.4 261.2,786.6 262.1,788.4 263,782.7 263.9,787.7 264.8,787.8 265.7,786.6 266.6,786.8 267.5,787.9 268.4,788.2 269.3,787.9 270.2,785.8 271.1,788 272,788.8 272.9,784 273.8,788.2 274.7,787.4 275.6,788.6 276.5,786.8 277.4,788 278.3,789.1 279.2,789.2 280.1,788.6 281,785.1 281.9,785 282.8,787.4 283.7,786.5 284.6,786.6 285.5,787 286.4,784.2 287.3,785.9 288.2,785.2 289.1,788.5 290,787 290.9,785.3 291.8,784.8 292.7,785.3 293.6,787.3 294.5,785.2 295.4,787.2 296.3,786.8 297.2,787.7 298.1,785.3 299,785.2 299.9,785.6 300.8,787.6 301.7,786.4 302.6,783.8 303.5,786.4 304.4,784.7 305.3,785.3 306.2,786.4 307.1,787.5 308,786 308.9,787.3 309.8,785.4 310.7,785.6 311.6,787.3 312.5,783 313.4,786.2 314.3,785.3 315.2,787.6 316.1,785.3 317,784.9 317.9,786.2 318.8,783.8 319.7,787.1 320.6,786.1 321.5,786.6 322.4,786.2 323.3,784.9 324.2,787.4 325.1,787.4 326,786.9 326.9,784.8 327.8,786.4 328.7,787.4 329.6,787.2 330.5,783.6 331.4,780.6 332.3,784.7 333.2,787 334.1,786.3 335,785.5 335.9,781.1 336.8,785 337.7,786.7 338.6,786.9 339.5,779.3 340.4,783.4 341.3,787.2 342.2,786.4 343.1,784 344,787 344.9,783.7 345.8,786.5 346.7,778.5 347.6,777.8 348.5,785.1 349.4,786.4 350.3,784.7 351.2,785.3 352.1,786.2 353,785.6 353.9,783.9 354.8,777.6 355.7,783.5 356.6,782.4 357.5,778.7 358.4,784.9 359.3,783.1 360.2,784.6 361.1,785.5 362,783.2 362.9,778.2 363.8,786.4 364.7,785.5 365.6,786 366.5,785.6 367.4,785.2 368.3,784.8 369.2,786.2 370.1,786.1 371,785.3 371.9,783.6 372.8,783.8 373.7,784.4 374.6,786.5 375.5,785.8 376.4,784.8 377.3,785.9 378.2,786.4 379.1,785.6 380,787.3 380.9,785.1 381.8,785.8 382.7,787.3 383.6,785.9 384.7,787.2 384.7,872.9 383.6,868.2 382.7,875 381.8,868.5 380.9,868.9 380,868.5 379.1,871.2 378.2,872.2 377.3,868.5 376.4,868.8 375.5,871.2 374.6,868.8 373.7,868.4 372.8,874.4 371.9,868.5 371,868.2 370.1,868.4 369.2,869.9 368.3,868.7 367.4,868.2 366.5,868.5 365.6,868.9 364.7,869.8 363.8,869.1 362.9,869 362,869.2 361.1,870.9 360.2,869.5 359.3,869 358.4,871.6 357.5,868.8 356.6,869.1 355.7,870.1 354.8,872.4 353.9,871 353,870.8 352.1,869.7 351.2,869.3 350.3,872.1 349.4,869.5 348.5,873 347.6,872.2 346.7,870.2 345.8,869.9 344.9,870 344,871.1 343.1,870 342.2,869.9 341.3,870.8 340.4,872.3 339.5,871.4 338.6,869.7 337.7,869.8 336.8,871.1 335.9,870.7 335,870.4 334.1,870.1 333.2,871.5 332.3,871.1 331.4,871 330.5,876.3 329.6,869.8 328.7,870.9 327.8,870.9 326.9,869.8 326,870 325.1,870.9 324.2,869.8 323.3,869.5 322.4,870.5 321.5,871.1 320.6,869.4 319.7,869.6 318.8,870.6 317.9,873.7 317,870.1 316.1,869.5 315.2,869.3 314.3,870.7 313.4,868.7 312.5,869.3 311.6,870.2 310.7,870.9 309.8,874 308.9,870.2 308,869.4 307.1,869.8 306.2,868.8 305.3,869 304.4,869 303.5,870.1 302.6,870.1 301.7,868 300.8,869.4 299.9,871.6 299,868.2 298.1,870.3 297.2,870 296.3,868.5 295.4,870.3 294.5,871.4 293.6,869.2 292.7,869.6 291.8,868.5 290.9,868.4 290,868.8 289.1,869.2 288.2,873.3 287.3,870.3 286.4,868.4 285.5,867.6 284.6,867.7 283.7,868.5 282.8,869.1 281.9,868.4 281,870.4 280.1,869.7 279.2,867.8 278.3,868.9 277.4,867.9 276.5,867.9 275.6,869.1 274.7,872.4 273.8,868.5 272.9,868.3 272,869.2 271.1,868 270.2,870.3 269.3,868.2 268.4,868.3 267.5,867.7 266.6,867.9 265.7,867.4 264.8,867.6 263.9,867.5 263,869.6 262.1,868.4 261.2,868.5 260.3,867.2 259.4,867.8 258.5,868.9 257.6,867.1 256.7,867.7 255.8,867.7 254.9,867.3 254,868.1 253.1,868.2 252.2,866.5 251.3,866.9 250.4,867.2 249.5,866.7 248.6,866.9 247.7,866.7 246.8,866.9 245.9,871.5 245,867.1 244.1,868.2 243.2,866.7 242.3,867.5 241.4,866.3 240.5,866.8 239.6,866.4 238.7,867.2 237.8,866.8 236.9,865.5 236,865.6 235.1,865.6 234.2,865.4 233.3,866.3 232.4,865.4 231.5,865.9 230.6,872.9 229.7,868.6 228.8,866.3 227.9,867.6 227,869.4 226.1,869.5 225.2,868.5 224.3,866.9 223.4,866.1 222.5,868.1 221.6,867.2 220.7,867.5 219.8,866.9 218.9,867.5 218,870.6 217.1,866.6 216.2,866.1 215.3,866.1 214.4,868.3 213.5,866.7 212.6,866.7 211.7,867.6 210.8,867.4 209.9,866.7 209,866.3 208.1,868.7 207.2,866.5 206.3,867.7 205.4,866.9 204.5,866.6 203.6,868.3 202.7,867 201.8,868.1 200.9,867 200,867.1 199.1,867.5 198.2,867.9 197.3,868.5 196.4,868.5 195.5,867.3 194.6,868.5 193.7,868.4 192.8,867.2 191.9,867.1 191,867.7 190.1,868.1 189.2,867.7 188.3,867.9 187.4,867.2 186.5,866.9 185.6,866.7 184.7,867.1 183.8,867 182.9,868.5 182,868 181.1,867.5 180.2,867.7 179.3,872.9 178.4,866.5 177.5,869.3 176.6,866 175.7,867.2 174.8,867.6 173.9,870.2 173,865.8 172.1,867.9 171.2,866.9 170.3,868 169.4,865.9 168.5,866.5 167.6,868 166.7,868.5 165.8,868.3 164.9,866.5 164,865.8 163.1,868.9 162.2,865.7 161.3,869.3 160.4,866.7 159.5,868 158.6,867.3 157.7,870 156.8,865.9 155.9,865.7 155,866.3 154.1,867.1 153.2,866.5 152.3,866.1 151.4,869 150.5,867.6 149.6,867.5 148.7,866.8 147.8,865.9 146.9,867.9 146,867 145.1,866.4 144.2,866.1 143.3,868.2 142.4,866.7 141.5,871.7 140.6,866.4 139.7,869.2 138.8,869.5 137.9,866.4 137,868.3 136.1,866.3 135.2,867.5 134.3,867.9 133.4,869.2 132.5,869.2 131.6,867.8 130.7,870.4 129.8,867.1 128.9,867.6 128,866.9 127.1,866.1 126.2,867.6 125.3,869.7 124.4,869.2 123.5,866.9 122.6,867.5 121.7,869.3 120.8,867.9 119.9,866 119,866.6 118.1,866.8 117.2,865.7 116.3,867.9 115.4,865.5 114.5,866.4 113.6,866.8 112.7,865.8 111.8,865.6 110.9,868.6 110,866.9 109.1,866.5 108.2,864.9 107.3,871.2 106.4,864.6 105.5,866.6 104.6,865.9 103.7,865.1 102.8,864.6 101.9,868 101,865.7 100.1,865.6 99.2,869.4 98.3,864.9 97.4,866 96.5,865.3 95.6,871.6 94.7,865 93.8,864.3 92.9,866.9 92,864 91.1,865 90.2,864.2 89.3,864.4" fill="#000"/>
<line x1="353.8" y1="780" x2="353.8" y2="853" stroke="#fff" stroke-width="1.2"/>
<line x1="364" y1="780" x2="364" y2="855" stroke="#fff" stroke-width="1.3"/>
<line x1="374.9" y1="780" x2="374.9" y2="853" stroke="#fff" stroke-width="1.3"/>
<line x1="345.5" y1="780" x2="345.5" y2="840" stroke="#aaa" stroke-width="0.7"/>
<line x1="379.5" y1="780" x2="379.5" y2="820" stroke="#aaa" stroke-width="0.6"/>
<rect x="388.4" y="786.5" width="7.5" height="77.7" fill="#000"/>
<line x1="389.2" y1="782.4" x2="389.2" y2="800" stroke="#000" stroke-width="1.8"/>
<line x1="396.4" y1="790" x2="396.4" y2="852" stroke="#fff" stroke-width="0.6"/>
<line x1="398" y1="785.2" x2="398" y2="864.3" stroke="#000" stroke-width="2.3"/>
<line x1="407.5" y1="785.4" x2="407.5" y2="864.5" stroke="#000" stroke-width="2.6"/>
<line x1="412.6" y1="785" x2="412.6" y2="864.7" stroke="#000" stroke-width="2.6"/>
<line x1="428" y1="784.6" x2="428" y2="865" stroke="#000" stroke-width="1.9"/>
<line x1="431.8" y1="784.6" x2="431.8" y2="865.1" stroke="#000" stroke-width="2.1"/>
<line x1="444" y1="784.9" x2="444" y2="865.4" stroke="#000" stroke-width="3.2"/>
<line x1="451.1" y1="784.8" x2="451.1" y2="865.6" stroke="#000" stroke-width="1.9"/>
<line x1="517" y1="789.4" x2="517" y2="869.7" stroke="#000" stroke-width="2"/>
<line x1="282.5" y1="793" x2="282.5" y2="855" stroke="#888" stroke-width="0.8"/>
<line x1="322.5" y1="793" x2="322.5" y2="838" stroke="#777" stroke-width="0.7"/>
<line x1="329.5" y1="793" x2="329.5" y2="850" stroke="#888" stroke-width="0.7"/>
<line x1="306" y1="793" x2="306" y2="810" stroke="#666" stroke-width="0.6"/>
<text x="-0.6" y="861.2" font-size="28.3" stroke="#000" stroke-width="0.35" textLength="78.8" lengthAdjust="spacingAndGlyphs">20 mV</text>
<line x1="84.5" y1="838.3" x2="84.5" y2="861.5" stroke="#000" stroke-width="2.6"/>
<line x1="95.2" y1="878.7" x2="121" y2="878.7" stroke="#000" stroke-width="3.2"/>
<text x="85.2" y="906.5" font-size="27.6" stroke="#000" stroke-width="0.35" textLength="48" lengthAdjust="spacingAndGlyphs">20 s</text>
<text x="784.8" y="734.3" font-size="31.4" stroke="#000" stroke-width="0.35">AgRP-Grb10-OE + ETP45658</text>
<polygon points="828.9,752 835.6,755.6 835.6,750.4 839.4,750.4 839.4,755.6 846.1,752 837.5,772.2" fill="#151515"/>
<text x="857.4" y="764.8" font-size="29.4" stroke="#000" stroke-width="0.35">Leptin</text>
<polygon points="694.1,778.8 695,780 695.9,778.5 696.8,773.8 697.7,780.6 698.6,779.7 699.5,777.7 700.4,775.5 701.3,778.4 702.2,780.4 703.1,778.5 704,780.5 704.9,779.1 705.8,779.7 706.7,776.4 707.6,779.7 708.5,779.9 709.4,778.4 710.3,779.8 711.2,780.3 712.1,779.7 713,779.4 713.9,777.8 714.8,780 715.7,779.3 716.6,776.2 717.5,775.4 718.4,776.2 719.3,780.3 720.2,779.1 721.1,779.4 722,780.3 722.9,779.6 723.8,779.6 724.7,778.5 725.6,780.9 726.5,780.3 727.4,781.1 728.3,778.2 729.2,780.1 730.1,779.8 731,781.3 731.9,781.1 732.8,781.4 733.7,779.1 734.6,775.9 735.5,777.8 736.4,780.7 737.3,775.5 738.2,778.1 739.1,781 740,781.7 740.9,778.2 741.8,779.9 742.7,779.9 743.6,777.6 744.5,781.9 745.4,780.2 746.3,781.6 747.2,778.3 748.1,779.2 749,781.2 749.9,780.1 750.8,781.3 751.7,779.1 752.6,781.2 753.5,780.2 754.4,779.8 755.3,780.2 756.2,779.1 757.1,780.3 758,780.4 758.9,780.3 759.8,780.9 760.7,773.5 761.6,776.5 762.5,779 763.4,774.4 764.3,778.1 765.2,777.8 766.1,780.5 767,779.5 767.9,773.5 768.8,780.2 769.7,778.3 770.6,779.6 771.5,779 772.4,778.7 773.3,776.2 774.2,779.9 775.1,778.4 776,779.7 776.9,779.4 777.8,779 778.7,777.3 779.6,778.3 780.5,778.9 781.4,779.3 782.3,780.6 783.2,780.3 784.1,778.9 785,780.3 785.9,778.6 786.8,780.5 787.7,777.6 788.6,779.3 789.5,778.5 790.4,776.6 791.3,777.1 792.2,775.3 793.1,778.8 794,780.7 794.9,781.1 795.8,779.1 796.7,780.4 797.6,780 798.5,778.3 799.4,780.9 800.3,779.9 801.2,781.1 802.1,780.6 803,780.7 803.9,781.3 804.8,777 805.7,775.2 806.6,780.2 807.5,776.9 808.4,777.6 809.3,774.4 810.2,780.7 811.1,776.5 812,778.2 812.9,775.8 813.8,778.2 814.7,780.3 815.6,780.3 816.5,780.9 817.4,780.8 818.3,779.2 819.2,778.6 820.1,778.4 821,780.4 821.9,778.5 822.8,778.9 823.7,778.9 824.6,774 825.5,779.4 826.4,780.1 827.3,779.7 828.2,776.8 829.1,779.9 830,778.4 830.9,778.2 831.8,780.5 832.7,780.5 833.6,780.5 834.5,781 835.4,781.3 836.3,779.6 837.2,779.9 838.1,777.1 839,781.7 839.9,779.7 840.8,775.8 841.7,780.7 842.6,780.6 843.5,781 844.4,780.3 845.3,781 846.2,782.2 847.1,782.1 848,776.2 848.9,778.5 849.8,782.7 850.7,782.8 851.6,782 852.5,779.8 853.4,782.2 854.3,782.6 855.2,783.2 856.1,783.1 857,783.2 857.9,782.1 858.8,780.9 859.7,779.1 860.6,782.5 861.5,783.4 862.4,777 863.3,782.4 864.2,781 865.1,782.3 866,782.1 866.9,783 867.8,781.4 868.7,783 869.6,779.8 870.5,781.6 871.4,782.3 872.3,782.1 873.2,781.2 874.1,782.6 875,780.2 875.9,781.1 876.8,781.3 877.7,782.4 878.6,782.4 879.5,781.9 880.4,781.2 881.3,779.8 882.2,780.5 883.1,779.1 884,779.3 884.9,781.3 885.8,780.7 886.7,781.4 887.6,776.9 888.5,781.2 889.4,781.9 890.3,782.5 891.2,781.7 892.1,781.9 893,779 893.9,778.2 894.8,782.1 895.7,780.6 896.6,782.4 897.5,780.7 898.4,780.4 899.3,781.8 900.2,781.7 901.1,781.2 902,780.7 902.9,780.3 903.8,781.3 904.7,781.7 905.6,778.2 906.5,780.8 907.4,782.2 908.3,781.3 909.2,781.1 910.1,781.9 911,780.1 911.9,781.1 912.8,782.1 913.7,781.9 914.6,781.4 915.5,780.4 916.4,780.3 917.3,782.7 918.2,782.7 919.1,782.7 920,779.9 920.9,781.8 921.8,780.5 922.7,775.6 923.6,780.7 924.5,780.4 925.4,778.9 926.3,780 927.2,780.5 928.1,781.4 929,774.9 929.9,779.9 930.8,777.1 931.7,780.2 932.6,779.1 933.5,778.2 934.4,775.5 935.3,779 936.2,776.9 937.1,778.8 938,776.6 938.9,779.2 939.8,780.6 940.7,777.4 941.6,781 942.5,779.9 943.4,780.4 944.3,780.4 945.2,780.6 946.1,777.3 947,780.1 947.9,781.1 948.8,780.9 949.7,780.9 950.6,781 951.5,777.7 952.4,779.9 953.3,779.7 954.2,780.7 955.1,781.2 956,780.6 956.9,781 957.8,780.7 958.7,778.2 959.6,780.2 960.5,779 961.4,781.8 962.3,779.2 963.2,778.9 964.1,782.1 965,780.6 965.9,782.1 966.8,780.1 967.7,781.6 968.6,779 969.5,780.6 970.4,781.9 971.3,781.1 972.2,781 973.1,782.1 974,781.6 974.9,781.2 975.8,782.3 976.7,781.5 977.6,782.1 978.5,773.7 979.4,779.3 980.3,782.3 981.2,781.2 982.1,776.9 983,779.9 983.9,780 984.8,780.4 985.7,780.4 986.6,780.7 987.5,775.7 988.4,781.2 989.3,781.6 990.2,779.8 991.1,781 992,780.1 992.9,780.6 993.8,781.1 994.7,781.2 995.6,780.7 996.5,777.4 997.4,780.1 998.3,780.4 999.2,780.9 1000.1,773.9 1001,780.3 1001.9,781.1 1002.8,781 1003.7,778.4 1004.6,780.6 1005.5,781.2 1006.4,781.8 1007.3,781.5 1008.2,781.4 1009.1,777.8 1010,781 1010.9,778.3 1011.8,780.8 1012.7,782 1013.6,782.5 1014.5,781.5 1015.4,780.1 1016.3,782 1017.2,783.2 1018.1,781.1 1019,782.8 1019.9,782 1020.8,782.3 1021.7,777.4 1022.6,780.9 1023.5,783.1 1024.4,782.2 1025.3,783.2 1026.2,783 1027.1,782.7 1028,783.3 1028.9,783.5 1029.8,782.1 1030.7,783.3 1031.6,781.3 1032.5,781.4 1033.4,782.9 1034.3,782.6 1035.2,782.6 1036.1,783 1037,781.4 1037.9,781.3 1038.8,782.4 1039.7,782.3 1040.6,782.9 1041.5,782.5 1042.4,781.9 1043.3,782 1044.2,782.5 1045.1,782.5 1046,780.3 1046.9,782 1047.8,778 1048.7,781.5 1049.6,779.6 1050.5,780.4 1051.4,781.7 1052.3,781 1053.2,779.8 1054.1,779.9 1055,780.8 1055.9,777.7 1056.8,782 1057.7,780.3 1058.6,777.5 1059.5,779.5 1060.4,781.7 1061.3,781.2 1062.2,782.1 1063.1,780.8 1064,780.2 1064.9,780.2 1065.8,779.5 1066.7,781.1 1067.6,780.4 1068.5,780.6 1069.4,782 1070.3,780.1 1071.2,779.5 1072.1,780.8 1073,779.9 1073.9,781.4 1074.8,781 1075.7,782.1 1076.6,782.6 1077.5,780 1078.4,781.8 1079.3,781.6 1080.2,781.8 1081.1,782.4 1082,777.9 1082.9,779.8 1083.8,777.3 1084.7,779.4 1085.6,781.7 1086.5,778 1087.4,779.2 1088.3,781.9 1089.2,781.6 1090.1,775.3 1091,778.1 1091.9,777 1092.8,782.6 1093.7,780.6 1094.6,782 1095.5,780.7 1096.4,781.5 1097.3,777.1 1098.2,781.2 1099.1,776.4 1100,775.4 1100.9,781.8 1101.8,781.4 1102.7,781.9 1103.6,781 1104.5,780 1105.4,779.2 1106.3,778.3 1107.2,781.5 1108.1,781.4 1109,781.5 1109.9,781.4 1110.8,780.5 1111.7,780 1112.6,780 1113.5,778.1 1114.4,779.4 1115.3,779.3 1116.2,782.7 1117.1,780.3 1118,782.3 1118.9,781.7 1119.8,780.9 1120.7,779.2 1121.6,782.8 1122.5,782.5 1123.4,782.3 1124.3,780.3 1125.2,776.9 1126.1,777.4 1127,783.1 1127.9,783.2 1128.8,783.3 1129.7,783.6 1130.6,783 1131.5,783.1 1132.4,779.1 1133.3,781 1134.2,779 1135.1,782 1136,784.7 1136.9,783.2 1137.8,781.4 1138.7,782.3 1139.6,784 1140.5,784.7 1141.4,783.5 1142.3,781 1143.2,784.6 1144.1,784.8 1145,784.9 1145.9,782.7 1146.8,784 1147.7,783.1 1148.6,783.4 1149.5,783.9 1150.4,778.7 1151.3,784 1152.2,783.8 1153.1,784.4 1154,781.9 1154.9,782.8 1155.8,783.7 1156.7,782.8 1157.6,783.6 1158.5,784.6 1159.4,783.2 1160.3,782.9 1161.2,782.3 1162.1,783.1 1163,782.5 1163.9,783.1 1164.8,781.7 1165.7,782.5 1166.6,782.3 1167.5,783.4 1168.4,780.3 1169.3,784.4 1170.2,783.9 1171.1,782.7 1172,783.4 1172.9,781.5 1173.8,782.2 1174.7,783.7 1175.6,784.2 1176.5,783.8 1177.4,783.3 1178.3,781.4 1179.2,784.1 1180.1,783.5 1181,783.8 1181.9,782.3 1182.8,776.7 1183.7,784.7 1184.6,784.3 1185.5,783 1186.4,784.9 1187.3,782.3 1188.2,781.5 1189.1,785.2 1190,783.9 1190.9,784.8 1191.8,784.2 1192.7,780.9 1193.6,784 1194.5,780.8 1195.4,785.1 1196.3,782.1 1197.2,783.9 1198.1,784.3 1199,784.3 1199.9,777.1 1200.8,780.7 1201.7,783.7 1202.6,783.3 1203.5,784.8 1204.4,784.5 1205.3,783.7 1206.2,781.6 1207.1,783.8 1208,783.2 1208.9,779.5 1209.8,780.8 1210.7,784 1211.6,781.2 1212.5,783.7 1213.4,783.6 1214.3,783.8 1215.2,779.7 1216.1,777.6 1217,782.3 1217.9,782.9 1218.8,783 1219.7,782.4 1220.6,783.2 1221.5,781.7 1222.4,782.3 1223.3,780.6 1224.2,783.3 1225.1,780.3 1226,781.3 1226.9,782.4 1227.8,780.6 1228.7,781.3 1229.6,780.1 1230.5,782.8 1231.4,781.8 1232.3,781.7 1233.2,782.3 1234.1,781.6 1235,782.3 1235.9,783.3 1236.8,781.8 1237.7,780.9 1238.6,782.7 1239.5,783 1240.4,781.9 1241.3,783.4 1242.2,779.7 1243.1,784 1244,783.6 1244.9,778.1 1245.8,782.4 1246.7,782.6 1247.6,783.4 1248.5,784.3 1249.4,784.3 1250.3,784.3 1251.2,776.7 1252.1,781.1 1253,783.2 1253.9,781.3 1254.8,781.5 1255.7,783 1256.6,783 1257.5,783.5 1258.4,784.2 1259.3,782.6 1260.2,784.3 1261.1,783.4 1262,783.5 1262.9,783.6 1263.8,782.7 1264.7,782.1 1265.6,782.9 1266.5,782.6 1267.4,777.5 1268.3,781.2 1269.2,783.9 1270.1,783.7 1271,781.7 1272.6,780.5 1272.6,866 1271,867.1 1270.1,868 1269.2,869.9 1268.3,865.4 1267.4,864.4 1266.5,867 1265.6,866.1 1264.7,866.1 1263.8,865.7 1262.9,865.5 1262,867.3 1261.1,865.1 1260.2,864.6 1259.3,867.1 1258.4,865.6 1257.5,864.8 1256.6,864.3 1255.7,864.9 1254.8,866 1253.9,865.4 1253,865.2 1252.1,870.5 1251.2,867.5 1250.3,865.2 1249.4,866.3 1248.5,869.9 1247.6,864.6 1246.7,865.2 1245.8,865 1244.9,867 1244,864.1 1243.1,864 1242.2,865.7 1241.3,864.7 1240.4,867.7 1239.5,867.9 1238.6,865 1237.7,864.6 1236.8,864.8 1235.9,863.8 1235,867.4 1234.1,864.7 1233.2,866.5 1232.3,865.7 1231.4,863.7 1230.5,864.3 1229.6,864.6 1228.7,866.2 1227.8,865.1 1226.9,864.2 1226,865.6 1225.1,864.8 1224.2,864.6 1223.3,865.9 1222.4,864.5 1221.5,865.5 1220.6,864.7 1219.7,870.7 1218.8,870.5 1217.9,867.7 1217,866.3 1216.1,865.8 1215.2,865.4 1214.3,867.6 1213.4,866.4 1212.5,870.8 1211.6,868.3 1210.7,868.3 1209.8,868.5 1208.9,865.6 1208,867.7 1207.1,866.4 1206.2,866 1205.3,866.9 1204.4,867.2 1203.5,866.9 1202.6,867.9 1201.7,867.9 1200.8,865.3 1199.9,865.6 1199,866 1198.1,866.3 1197.2,865.4 1196.3,865.6 1195.4,866.3 1194.5,867.4 1193.6,868 1192.7,867.4 1191.8,868.7 1190.9,866.6 1190,865.4 1189.1,866.4 1188.2,866.4 1187.3,866.2 1186.4,867.5 1185.5,867.7 1184.6,865.6 1183.7,865.8 1182.8,867.6 1181.9,867.6 1181,865.1 1180.1,865.1 1179.2,865.5 1178.3,867 1177.4,866.7 1176.5,868.6 1175.6,865.7 1174.7,865.9 1173.8,867.5 1172.9,864.6 1172,865.2 1171.1,869.1 1170.2,865.6 1169.3,865.2 1168.4,865.6 1167.5,866.5 1166.6,866.5 1165.7,867.4 1164.8,866.9 1163.9,865.7 1163,865.9 1162.1,868.1 1161.2,864.1 1160.3,864.8 1159.4,866.5 1158.5,864.6 1157.6,864.1 1156.7,864 1155.8,864.8 1154.9,864.6 1154,866.1 1153.1,864.2 1152.2,864.8 1151.3,865.7 1150.4,866.3 1149.5,864.6 1148.6,865 1147.7,864.9 1146.8,866.2 1145.9,865.9 1145,864.7 1144.1,864.4 1143.2,865.8 1142.3,872.5 1141.4,864.5 1140.5,865.7 1139.6,864.5 1138.7,864.8 1137.8,864.4 1136.9,865.2 1136,866.6 1135.1,865.2 1134.2,869.4 1133.3,864.6 1132.4,866.8 1131.5,864.8 1130.6,865.2 1129.7,869 1128.8,865.3 1127.9,867.4 1127,864.7 1126.1,867.2 1125.2,866 1124.3,867.9 1123.4,869.5 1122.5,865 1121.6,866.1 1120.7,865.3 1119.8,866.5 1118.9,867.5 1118,864.7 1117.1,866.1 1116.2,866.3 1115.3,866.4 1114.4,864.9 1113.5,867.3 1112.6,867.1 1111.7,864.8 1110.8,866.4 1109.9,864.4 1109,865.1 1108.1,865.2 1107.2,865.8 1106.3,865.4 1105.4,866.1 1104.5,864.1 1103.6,864.7 1102.7,864.7 1101.8,865 1100.9,864.9 1100,865.1 1099.1,866.2 1098.2,864.5 1097.3,866.1 1096.4,864.1 1095.5,866.1 1094.6,866.5 1093.7,864.6 1092.8,864.5 1091.9,866.2 1091,866.4 1090.1,867.4 1089.2,864.3 1088.3,864.1 1087.4,865.4 1086.5,864.9 1085.6,865.6 1084.7,864 1083.8,864.3 1082.9,871.8 1082,864.4 1081.1,864.8 1080.2,864.3 1079.3,867.3 1078.4,867.7 1077.5,865.1 1076.6,865.1 1075.7,866 1074.8,866.3 1073.9,865.1 1073,865 1072.1,866.7 1071.2,865.3 1070.3,865.5 1069.4,868 1068.5,866.7 1067.6,867.7 1066.7,865.5 1065.8,866.8 1064.9,869.2 1064,866.3 1063.1,868 1062.2,867 1061.3,865.8 1060.4,866.7 1059.5,868 1058.6,871.5 1057.7,866 1056.8,867.6 1055.9,866.9 1055,875.7 1054.1,867.1 1053.2,867.2 1052.3,867.1 1051.4,868.1 1050.5,869.4 1049.6,866.3 1048.7,867.4 1047.8,867.7 1046.9,868.9 1046,867.1 1045.1,867.9 1044.2,867.2 1043.3,866.5 1042.4,868.1 1041.5,868.2 1040.6,866.1 1039.7,866.7 1038.8,866.5 1037.9,867 1037,867.9 1036.1,868.2 1035.2,866.6 1034.3,865.9 1033.4,865.9 1032.5,868.9 1031.6,866.1 1030.7,866.5 1029.8,867.5 1028.9,866.3 1028,865.8 1027.1,866.1 1026.2,867.3 1025.3,865.9 1024.4,865.8 1023.5,866.5 1022.6,867.5 1021.7,865.8 1020.8,865.9 1019.9,866.6 1019,867.1 1018.1,867.4 1017.2,865.6 1016.3,866.3 1015.4,866.7 1014.5,865.8 1013.6,866.4 1012.7,866.1 1011.8,868 1010.9,867 1010,866.9 1009.1,867.6 1008.2,868.7 1007.3,866.5 1006.4,872.1 1005.5,866.6 1004.6,866.6 1003.7,866.5 1002.8,869.5 1001.9,866.2 1001,867 1000.1,866 999.2,866.2 998.3,869 997.4,866.1 996.5,866.3 995.6,869.2 994.7,866.9 993.8,869 992.9,866.9 992,867.3 991.1,866.9 990.2,866.4 989.3,866.4 988.4,867.1 987.5,870.2 986.6,867.2 985.7,867 984.8,870.7 983.9,869.3 983,866.1 982.1,872.6 981.2,868.2 980.3,866.2 979.4,867.9 978.5,869.3 977.6,865.9 976.7,865.9 975.8,865.8 974.9,865.3 974,866.2 973.1,865.4 972.2,865.6 971.3,866.8 970.4,865.9 969.5,865.9 968.6,867.3 967.7,867.7 966.8,865 965.9,865.8 965,864.5 964.1,865.1 963.2,865.5 962.3,864.3 961.4,865.2 960.5,866.8 959.6,864.9 958.7,864.3 957.8,866.1 956.9,864 956,864.6 955.1,864.6 954.2,865 953.3,865.4 952.4,868.8 951.5,864.1 950.6,866.2 949.7,864.6 948.8,864.8 947.9,864.2 947,863.7 946.1,864 945.2,864.7 944.3,868.9 943.4,866.8 942.5,865.2 941.6,864.8 940.7,864.6 939.8,864 938.9,867.4 938,866 937.1,866.2 936.2,863.8 935.3,865.7 934.4,864.2 933.5,868 932.6,866.6 931.7,866.2 930.8,864.6 929.9,871.2 929,865.3 928.1,867 927.2,866.1 926.3,865.2 925.4,865.6 924.5,866.5 923.6,866.8 922.7,866.2 921.8,865.2 920.9,864.8 920,865.7 919.1,865.5 918.2,866.1 917.3,867.1 916.4,866.6 915.5,866.1 914.6,865.8 913.7,866.4 912.8,865.3 911.9,865 911,866 910.1,867.7 909.2,864.8 908.3,865.2 907.4,866.2 906.5,866.3 905.6,869.1 904.7,868.2 903.8,865.1 902.9,867.5 902,867.5 901.1,865.3 900.2,865.4 899.3,867.6 898.4,869.2 897.5,864.9 896.6,868.1 895.7,864.6 894.8,866.7 893.9,868.1 893,866.1 892.1,864.8 891.2,868.5 890.3,865.5 889.4,865.3 888.5,864.8 887.6,867.5 886.7,865.7 885.8,865.7 884.9,866 884,867.4 883.1,864.9 882.2,866.1 881.3,867.9 880.4,869.8 879.5,865.5 878.6,865.7 877.7,867.3 876.8,864.9 875.9,866 875,865.7 874.1,865.6 873.2,865.4 872.3,867.3 871.4,867.1 870.5,866.6 869.6,866.5 868.7,866.3 867.8,866.1 866.9,866.3 866,867 865.1,867.8 864.2,867.9 863.3,866.3 862.4,867.2 861.5,866.3 860.6,866.3 859.7,868.2 858.8,868.5 857.9,867.6 857,866.2 856.1,867.2 855.2,867.2 854.3,866.8 853.4,866.4 852.5,866.4 851.6,868.9 850.7,866.7 849.8,867 848.9,868.2 848,867.3 847.1,867 846.2,867.3 845.3,869.1 844.4,870.2 843.5,870.9 842.6,867.3 841.7,868.6 840.8,867 839.9,867.4 839,866.4 838.1,869.4 837.2,867.4 836.3,866.4 835.4,866.5 834.5,868 833.6,868.2 832.7,866.9 831.8,867.5 830.9,869.2 830,867.1 829.1,867.3 828.2,866.7 827.3,867.2 826.4,866.5 825.5,866.6 824.6,867.3 823.7,866.3 822.8,867.1 821.9,865.5 821,866.3 820.1,865.8 819.2,866.9 818.3,865.9 817.4,865.6 816.5,871.4 815.6,865.4 814.7,865.2 813.8,865 812.9,866.1 812,866.3 811.1,865.8 810.2,864.9 809.3,866.1 808.4,865.5 807.5,865.7 806.6,867.1 805.7,864.9 804.8,866.4 803.9,865.9 803,866 802.1,865.2 801.2,866.3 800.3,867.3 799.4,867.5 798.5,866.2 797.6,865.3 796.7,868.2 795.8,865.8 794.9,866.7 794,865.5 793.1,866.8 792.2,872 791.3,868.4 790.4,866.4 789.5,865.8 788.6,866.4 787.7,866.4 786.8,866 785.9,865.8 785,867.9 784.1,865.9 783.2,868 782.3,869 781.4,866.9 780.5,866.8 779.6,867.5 778.7,868 777.8,867.3 776.9,867.1 776,866.3 775.1,865.8 774.2,867.9 773.3,871.1 772.4,867.5 771.5,867.6 770.6,867.1 769.7,870 768.8,865.6 767.9,872.4 767,866.9 766.1,867.9 765.2,866.7 764.3,866.8 763.4,871.6 762.5,867.1 761.6,867 760.7,866.1 759.8,865.6 758.9,865.1 758,867.6 757.1,865 756.2,867.4 755.3,871.8 754.4,867.1 753.5,867.8 752.6,866.5 751.7,866.3 750.8,870.1 749.9,865.8 749,865.4 748.1,866.8 747.2,868.4 746.3,867 745.4,870.8 744.5,867.2 743.6,865.3 742.7,866.4 741.8,866.4 740.9,865.8 740,870 739.1,865.3 738.2,866.1 737.3,866.5 736.4,868.5 735.5,866.9 734.6,865.3 733.7,865.5 732.8,866.9 731.9,866 731,867.6 730.1,868.7 729.2,865.9 728.3,868.2 727.4,866 726.5,866.8 725.6,867.8 724.7,868.5 723.8,867.1 722.9,866.1 722,869.2 721.1,868.7 720.2,866.6 719.3,868.6 718.4,868.7 717.5,869.4 716.6,867.2 715.7,871.5 714.8,866.8 713.9,871.9 713,867.6 712.1,869.3 711.2,867.6 710.3,867.3 709.4,869.3 708.5,868 707.6,867.2 706.7,874.1 705.8,868.9 704.9,867 704,868 703.1,866.9 702.2,873.2 701.3,867.6 700.4,867.8 699.5,868 698.6,868.1 697.7,867 696.8,867.7 695.9,867.1 695,868 694.1,867" fill="#000"/>
<line x1="786.2" y1="777" x2="786.2" y2="859" stroke="#fff" stroke-width="1.4"/>
<line x1="791.5" y1="777" x2="791.5" y2="807" stroke="#999" stroke-width="0.8"/>
<line x1="801.4" y1="777" x2="801.4" y2="847.6" stroke="#eee" stroke-width="1"/>
<line x1="768.8" y1="777" x2="768.8" y2="790" stroke="#777" stroke-width="0.6"/>
<line x1="1081.1" y1="777" x2="1081.1" y2="840" stroke="#888" stroke-width="0.8"/>
<line x1="1121.1" y1="777" x2="1121.1" y2="851.2" stroke="#aaa" stroke-width="1"/>
<line x1="1129" y1="777" x2="1129" y2="853.2" stroke="#ddd" stroke-width="1.6"/>
<line x1="1168.9" y1="777" x2="1168.9" y2="856.5" stroke="#fff" stroke-width="3"/>
<line x1="1189.4" y1="777" x2="1189.4" y2="810.6" stroke="#777" stroke-width="0.7"/>
<line x1="1199.5" y1="777" x2="1199.5" y2="848" stroke="#888" stroke-width="0.8"/>
<line x1="1210.2" y1="777" x2="1210.2" y2="815.7" stroke="#777" stroke-width="0.7"/>
<line x1="1230.5" y1="777" x2="1230.5" y2="850" stroke="#bbb" stroke-width="1.2"/>
<line x1="1236" y1="777" x2="1236" y2="852.7" stroke="#eee" stroke-width="1.5"/>
<line x1="1242.1" y1="777" x2="1242.1" y2="854.2" stroke="#eee" stroke-width="1.6"/>
<line x1="1244.9" y1="777" x2="1244.9" y2="851" stroke="#bbb" stroke-width="1"/>
<line x1="1249.2" y1="777" x2="1249.2" y2="819.7" stroke="#777" stroke-width="0.7"/>
<line x1="1267.5" y1="777" x2="1267.5" y2="810.6" stroke="#777" stroke-width="0.6"/>
<line x1="1136.5" y1="777" x2="1136.5" y2="800" stroke="#666" stroke-width="0.6"/>
<line x1="1146.5" y1="777" x2="1146.5" y2="795" stroke="#666" stroke-width="0.6"/>
<line x1="1220.7" y1="777" x2="1220.7" y2="802" stroke="#666" stroke-width="0.6"/>
<line x1="1030.4" y1="777" x2="1030.4" y2="795" stroke="#555" stroke-width="0.6"/>
<text x="42.4" y="964.6" font-size="68">g</text>
<text x="185.6" y="1291" font-size="31.2" font-weight="bold" transform="rotate(-90 185.6 1291)">Hyperpolarization (mV)</text>
<line x1="265.2" y1="988" x2="287.6" y2="988" stroke="#ea1620" stroke-width="2.9"/>
<rect x="271.6" y="983.2" width="9.5" height="9.5" fill="#ea1620" stroke="#ea1620" stroke-width="2"/>
<text x="300.6" y="995" font-size="24.7" font-weight="bold">AgRP-Grb10-OE</text>
<line x1="265.2" y1="1016.2" x2="287.6" y2="1016.2" stroke="#ea1620" stroke-width="2.9"/>
<rect x="272.1" y="1012" width="8.4" height="8.4" fill="#fff" stroke="#ea1620" stroke-width="2.6"/>
<text x="300.6" y="1023.2" font-size="24.6" font-weight="bold">AgRP-Grb10-OE+ETP45658</text>
<line x1="251.7" y1="996.8" x2="251.7" y2="1211.7" stroke="#000" stroke-width="2.6"/>
<line x1="250.4" y1="1210.5" x2="571" y2="1210.5" stroke="#000" stroke-width="2.6"/>
<line x1="245.7" y1="998" x2="251.7" y2="998" stroke="#000" stroke-width="2.4"/>
<text x="239.6" y="1005.2" font-size="27" font-weight="bold" text-anchor="end">5</text>
<line x1="245.7" y1="1051.1" x2="251.7" y2="1051.1" stroke="#000" stroke-width="2.4"/>
<text x="239.6" y="1058.3" font-size="27" font-weight="bold" text-anchor="end">0</text>
<line x1="245.7" y1="1104.2" x2="251.7" y2="1104.2" stroke="#000" stroke-width="2.4"/>
<text x="245.6" y="1111.4" font-size="27" font-weight="bold" text-anchor="end">-5</text>
<line x1="245.7" y1="1157.4" x2="251.7" y2="1157.4" stroke="#000" stroke-width="2.4"/>
<text x="245.6" y="1164.6" font-size="27" font-weight="bold" text-anchor="end">-10</text>
<line x1="245.7" y1="1210.5" x2="251.7" y2="1210.5" stroke="#000" stroke-width="2.4"/>
<text x="245.6" y="1217.7" font-size="27" font-weight="bold" text-anchor="end">-15</text>
<line x1="251.7" y1="1210.5" x2="251.7" y2="1217.5" stroke="#000" stroke-width="2.4"/>
<text x="249.7" y="1241.5" font-size="27" font-weight="bold" text-anchor="middle">0</text>
<line x1="357.6" y1="1210.5" x2="357.6" y2="1217.5" stroke="#000" stroke-width="2.4"/>
<text x="355.6" y="1241.5" font-size="27" font-weight="bold" text-anchor="middle">2</text>
<line x1="463.6" y1="1210.5" x2="463.6" y2="1217.5" stroke="#000" stroke-width="2.4"/>
<text x="461.6" y="1241.5" font-size="27" font-weight="bold" text-anchor="middle">4</text>
<line x1="569.6" y1="1210.5" x2="569.6" y2="1217.5" stroke="#000" stroke-width="2.4"/>
<text x="567.6" y="1241.5" font-size="27" font-weight="bold" text-anchor="middle">6</text>
<text x="414" y="1270.5" font-size="30.6" font-weight="bold" text-anchor="middle">Time (min)</text>
<line x1="251.7" y1="1051.6" x2="571" y2="1051.6" stroke="#000" stroke-width="4.2" stroke-linecap="round" stroke-dasharray="0 5.9"/>
<polyline points="251.7,1051.6 357.6,1052.6 463.6,1062 569.6,1069.4" fill="none" stroke="#ea1620" stroke-width="2.8" stroke-linejoin="miter"/>
<line x1="357.6" y1="1073" x2="357.6" y2="1088.5" stroke="#ea1620" stroke-width="2.2"/>
<line x1="354.1" y1="1073" x2="361.1" y2="1073" stroke="#ea1620" stroke-width="2.2"/>
<line x1="354.1" y1="1088.5" x2="361.1" y2="1088.5" stroke="#ea1620" stroke-width="2.2"/>
<line x1="463.6" y1="1112.5" x2="463.6" y2="1141.8" stroke="#ea1620" stroke-width="2.2"/>
<line x1="459.1" y1="1112.5" x2="468.1" y2="1112.5" stroke="#ea1620" stroke-width="2.2"/>
<line x1="459.1" y1="1141.8" x2="468.1" y2="1141.8" stroke="#ea1620" stroke-width="2.2"/>
<line x1="569.6" y1="1154" x2="569.6" y2="1184" stroke="#ea1620" stroke-width="2.2"/>
<line x1="565.1" y1="1154" x2="574.1" y2="1154" stroke="#ea1620" stroke-width="2.2"/>
<line x1="565.1" y1="1184" x2="574.1" y2="1184" stroke="#ea1620" stroke-width="2.2"/>
<polyline points="251.7,1051.6 357.6,1081 463.6,1127.5 569.6,1169" fill="none" stroke="#ea1620" stroke-width="2.8" stroke-linejoin="miter"/>
<rect x="247.5" y="1047.4" width="8.4" height="8.4" fill="#fff" stroke="#ea1620" stroke-width="2.6"/>
<rect x="353.4" y="1048.4" width="8.4" height="8.4" fill="#fff" stroke="#ea1620" stroke-width="2.6"/>
<rect x="459.4" y="1057.8" width="8.4" height="8.4" fill="#fff" stroke="#ea1620" stroke-width="2.6"/>
<rect x="565.4" y="1065.2" width="8.4" height="8.4" fill="#fff" stroke="#ea1620" stroke-width="2.6"/>
<rect x="246.9" y="1046.8" width="9.5" height="9.5" fill="#ea1620" stroke="#ea1620" stroke-width="2"/>
<rect x="352.9" y="1076.2" width="9.5" height="9.5" fill="#ea1620" stroke="#ea1620" stroke-width="2"/>
<rect x="458.9" y="1122.8" width="9.5" height="9.5" fill="#ea1620" stroke="#ea1620" stroke-width="2"/>
<rect x="564.9" y="1164.2" width="9.5" height="9.5" fill="#ea1620" stroke="#ea1620" stroke-width="2"/>
<line x1="583.8" y1="1074.2" x2="583.8" y2="1168" stroke="#000" stroke-width="4"/>
<text x="588.5" y="1137" font-size="29.1" font-weight="bold">P&lt;0.0001</text>
<text x="712" y="964.9" font-size="68">h</text>
<text x="748.2" y="1232" font-size="32" font-weight="bold" transform="rotate(-90 748.2 1232)">Δ</text>
<text x="748.2" y="1205" font-size="30.8" font-weight="bold" transform="rotate(-90 748.2 1205)">Firing rate (Hz)</text>
<line x1="795" y1="999.3" x2="795" y2="1212.2" stroke="#000" stroke-width="2.6"/>
<line x1="793.7" y1="1211" x2="1112.3" y2="1211" stroke="#000" stroke-width="2.6"/>
<line x1="789" y1="1000.5" x2="795" y2="1000.5" stroke="#000" stroke-width="2.4"/>
<text x="783.5" y="1007.7" font-size="27" font-weight="bold" text-anchor="end">0</text>
<line x1="789" y1="1053.1" x2="795" y2="1053.1" stroke="#000" stroke-width="2.4"/>
<text x="786" y="1060.3" font-size="27" font-weight="bold" text-anchor="end">-1</text>
<line x1="789" y1="1105.7" x2="795" y2="1105.7" stroke="#000" stroke-width="2.4"/>
<text x="786" y="1112.9" font-size="27" font-weight="bold" text-anchor="end">-2</text>
<line x1="789" y1="1158.4" x2="795" y2="1158.4" stroke="#000" stroke-width="2.4"/>
<text x="786" y="1165.6" font-size="27" font-weight="bold" text-anchor="end">-3</text>
<line x1="789" y1="1211" x2="795" y2="1211" stroke="#000" stroke-width="2.4"/>
<text x="786" y="1218.2" font-size="27" font-weight="bold" text-anchor="end">-4</text>
<line x1="795" y1="1211" x2="795" y2="1218" stroke="#000" stroke-width="2.4"/>
<text x="793" y="1245.6" font-size="27" font-weight="bold" text-anchor="middle">0</text>
<line x1="900.3" y1="1211" x2="900.3" y2="1218" stroke="#000" stroke-width="2.4"/>
<text x="898.3" y="1245.6" font-size="27" font-weight="bold" text-anchor="middle">2</text>
<line x1="1005.7" y1="1211" x2="1005.7" y2="1218" stroke="#000" stroke-width="2.4"/>
<text x="1003.7" y="1245.6" font-size="27" font-weight="bold" text-anchor="middle">4</text>
<line x1="1111" y1="1211" x2="1111" y2="1218" stroke="#000" stroke-width="2.4"/>
<text x="1109" y="1245.6" font-size="27" font-weight="bold" text-anchor="middle">6</text>
<text x="953.5" y="1276.7" font-size="30.4" font-weight="bold" text-anchor="middle">Time (min)</text>
<line x1="795" y1="1000.5" x2="1115" y2="1000.5" stroke="#000" stroke-width="4.2" stroke-linecap="round" stroke-dasharray="0 5.9"/>
<line x1="900.3" y1="1006.2" x2="900.3" y2="1024.4" stroke="#ea1620" stroke-width="2.2"/>
<line x1="895.8" y1="1006.2" x2="904.8" y2="1006.2" stroke="#ea1620" stroke-width="2.2"/>
<line x1="895.8" y1="1024.4" x2="904.8" y2="1024.4" stroke="#ea1620" stroke-width="2.2"/>
<line x1="1005.7" y1="1014.7" x2="1005.7" y2="1043.4" stroke="#ea1620" stroke-width="2.2"/>
<line x1="1001.2" y1="1014.7" x2="1010.2" y2="1014.7" stroke="#ea1620" stroke-width="2.2"/>
<line x1="1001.2" y1="1043.4" x2="1010.2" y2="1043.4" stroke="#ea1620" stroke-width="2.2"/>
<line x1="1111" y1="1014" x2="1111" y2="1039.5" stroke="#ea1620" stroke-width="2.2"/>
<line x1="1106.5" y1="1014" x2="1115.5" y2="1014" stroke="#ea1620" stroke-width="2.2"/>
<line x1="1106.5" y1="1039.5" x2="1115.5" y2="1039.5" stroke="#ea1620" stroke-width="2.2"/>
<line x1="900.3" y1="1058.5" x2="900.3" y2="1078" stroke="#ea1620" stroke-width="2.2"/>
<line x1="895.8" y1="1058.5" x2="904.8" y2="1058.5" stroke="#ea1620" stroke-width="2.2"/>
<line x1="895.8" y1="1078" x2="904.8" y2="1078" stroke="#ea1620" stroke-width="2.2"/>
<line x1="1005.7" y1="1089.6" x2="1005.7" y2="1122.5" stroke="#ea1620" stroke-width="2.2"/>
<line x1="1001.2" y1="1089.6" x2="1010.2" y2="1089.6" stroke="#ea1620" stroke-width="2.2"/>
<line x1="1001.2" y1="1122.5" x2="1010.2" y2="1122.5" stroke="#ea1620" stroke-width="2.2"/>
<line x1="1111" y1="1108.9" x2="1111" y2="1142.4" stroke="#ea1620" stroke-width="2.2"/>
<line x1="1106.5" y1="1108.9" x2="1115.5" y2="1108.9" stroke="#ea1620" stroke-width="2.2"/>
<line x1="1106.5" y1="1142.4" x2="1115.5" y2="1142.4" stroke="#ea1620" stroke-width="2.2"/>
<polyline points="795,1000.5 900.3,1015.3 1005.7,1029.2 1111,1026.8" fill="none" stroke="#ea1620" stroke-width="2.8" stroke-linejoin="miter"/>
<polyline points="795,1000.5 900.3,1067.5 1005.7,1105.9 1111,1125.8" fill="none" stroke="#ea1620" stroke-width="2.8" stroke-linejoin="miter"/>
<rect x="895.5" y="1062.8" width="9.5" height="9.5" fill="#ea1620" stroke="#ea1620" stroke-width="2"/>
<rect x="1001" y="1101.2" width="9.5" height="9.5" fill="#ea1620" stroke="#ea1620" stroke-width="2"/>
<rect x="1106.2" y="1121" width="9.5" height="9.5" fill="#ea1620" stroke="#ea1620" stroke-width="2"/>
<rect x="790.8" y="996.3" width="8.4" height="8.4" fill="#fff" stroke="#ea1620" stroke-width="2.6"/>
<rect x="896.1" y="1011.1" width="8.4" height="8.4" fill="#fff" stroke="#ea1620" stroke-width="2.6"/>
<rect x="1001.5" y="1025" width="8.4" height="8.4" fill="#fff" stroke="#ea1620" stroke-width="2.6"/>
<rect x="1106.8" y="1022.6" width="8.4" height="8.4" fill="#fff" stroke="#ea1620" stroke-width="2.6"/>
<line x1="1132.2" y1="1031.9" x2="1132.2" y2="1125.5" stroke="#000" stroke-width="4"/>
<text x="1146.7" y="1093.3" font-size="29.8" font-weight="bold">P=0.0005</text>
<text x="1334.3" y="716.4" font-size="68">i</text>
<polyline points="1368.4,799.1 1403.1,799.1 1403.1,865.6 1727,762.7 1727,797.9 1766.5,797.9" fill="none" stroke="#000" stroke-width="2.4" stroke-linejoin="miter"/>
<text x="1350.4" y="793.1" font-size="24.7" font-weight="bold">-70 mV</text>
<text x="1685" y="750" font-size="24.5" font-weight="bold">-50 mV</text>
<text x="1342" y="889" font-size="24.7" font-weight="bold">-100 mV</text>
<line x1="1589" y1="885.5" x2="1626.2" y2="885.5" stroke="#000" stroke-width="2.7"/>
<text x="1639.4" y="891.5" font-size="24.7" font-weight="bold">Before leptin</text>
<line x1="1589" y1="908.3" x2="1626.2" y2="908.3" stroke="#e0151d" stroke-width="2.7"/>
<text x="1639.4" y="914.7" font-size="24.7" font-weight="bold">After leptin</text>
<text x="1386.6" y="952" font-size="31.3" stroke="#000" stroke-width="0.35">AgRP-Grb10-OE</text>
<polygon points="1391,1003.7 1392.1,1003.6 1393.2,999.8 1394.3,1001.5 1395.4,1003.3 1396.5,1003.6 1397.6,1002.9 1398.7,1004.4 1399.8,1001.2 1400.9,1000.9 1402,1002.4 1403.1,1002.5 1404.2,1002.2 1405.3,993.6 1406.4,1000.1 1407.5,1002 1408.6,997.4 1409.7,991.7 1410.8,992.1 1411.9,999.5 1413,999 1414.1,997.8 1415.2,990.5 1416.3,999.9 1417.4,998.9 1418.5,994.3 1419.6,995.1 1420.7,994.7 1421.8,996.4 1422.9,997.7 1424,997.3 1425.1,996.8 1426.2,997.8 1427.3,996 1428.4,992.2 1429.5,997.7 1430.6,998.2 1431.7,996.9 1432.8,997.2 1433.9,995.4 1435,997.7 1436.1,996.3 1437.2,990.1 1438.3,995.9 1439.4,995.2 1440.5,995.2 1441.6,995.4 1442.7,993.9 1443.8,994.6 1444.9,991.7 1446,994.9 1447.1,989.1 1448.2,992.9 1449.3,992 1450.4,993.9 1451.5,994.1 1452.6,994.7 1453.7,994.2 1454.8,994.9 1455.9,993.6 1457,992.4 1458.1,991.7 1459.2,993.2 1460.3,994 1461.4,986 1462.5,993.8 1463.6,991.5 1464.7,992.5 1465.8,993.6 1466.9,986 1468,994.2 1469.1,990.8 1470.2,994.2 1471.3,993.5 1472.4,992.5 1473.5,991.6 1474.6,986.7 1475.8,986.8 1476.9,991 1478,990.6 1479.1,990.2 1480.2,990.4 1481.3,986.3 1482.4,987.3 1483.5,982.7 1484.6,990.2 1485.7,989.5 1486.8,988.1 1487.9,984.4 1489,989.3 1490.1,990.3 1491.2,991.3 1492.3,990.3 1493.4,989.8 1494.5,987.7 1495.6,991.6 1496.7,985.9 1497.8,991.4 1498.9,989.3 1500,990.8 1501.1,991 1502.2,990 1503.3,988 1504.4,983.6 1505.5,987.3 1506.6,989.4 1507.7,982 1508.8,988.6 1509.9,988.5 1511,987.7 1512.1,987.8 1513.2,988.7 1514.3,987 1515.4,987 1516.5,987.7 1517.6,987.9 1518.7,979.7 1519.8,985.5 1520.9,985.2 1522,984 1523.1,985.8 1524.2,977.7 1525.3,985.2 1526.4,973.5 1527.5,986.3 1528.6,983.3 1529.7,983.3 1530.8,985.1 1531.9,984.3 1533,985.3 1534.1,977.7 1535.2,982.3 1536.3,983.2 1537.4,982.7 1538.5,981.5 1539.6,982.6 1540.7,979.7 1541.8,981.2 1542.9,973.4 1544,981.5 1545.1,976 1546.2,973.2 1547.3,980.2 1548.4,979.4 1549.5,979.6 1550.6,977.7 1551.7,973.8 1552.8,982 1553.9,979.6 1555,979.1 1556.1,980.9 1557.2,974.1 1558.3,973.6 1559.4,980.9 1560.5,980.1 1561.6,973 1562.7,978.8 1563.8,971.6 1564.9,974.4 1566,980.2 1567.1,978.8 1568.2,979.8 1569.3,978.7 1570.4,978.7 1571.5,979.7 1572.6,976.7 1573.7,971.4 1574.8,976.2 1575.9,976.3 1577,977 1578.1,975.5 1579.2,971 1580.3,977.4 1581.4,977 1582.5,977.1 1583.6,973.4 1584.7,974.1 1585.8,974.8 1586.9,970.8 1588,966 1589.1,974.8 1590.2,971 1591.3,972.2 1592.4,974.6 1593.5,973.3 1594.6,973.7 1595.7,974.2 1596.8,975.2 1597.9,974.4 1599,973.4 1600.1,972.4 1601.2,973.6 1602.3,973 1603.4,972.6 1604.5,972.2 1605.6,973.3 1606.7,966.5 1607.8,972 1608.9,973.7 1610,968.6 1611.1,973.7 1612.2,973 1613.3,963.2 1614.4,966.8 1615.5,972.5 1616.6,965.7 1617.7,972.5 1618.8,972 1619.9,971.8 1621,972.3 1622.1,965.3 1623.2,969.1 1624.3,971.7 1625.4,971.3 1626.5,971.8 1627.6,961.4 1628.7,969.8 1629.8,971.5 1630.9,971.9 1632,969.3 1633.1,971.1 1634.2,969.8 1635.3,968.6 1636.4,968.7 1637.5,961.3 1638.6,965.8 1639.7,965.8 1640.8,966.6 1641.9,967.1 1643,966.2 1644.1,965.6 1645.2,963.5 1646.4,966.1 1647.5,965.6 1648.6,966.4 1649.7,966.8 1650.8,963.6 1651.9,963.8 1653,964.4 1654.1,964.2 1655.2,963.4 1656.3,959 1657.4,963.6 1658.5,964.4 1659.6,961.9 1660.7,964.7 1661.8,960.8 1662.9,963.9 1664,955.5 1665.1,963.5 1666.2,954.6 1667.3,961.7 1668.4,953.6 1669.5,957.4 1670.6,957.7 1671.7,955.5 1672.8,955.6 1673.9,953.4 1675,955.8 1676.1,957.8 1677.2,962.6 1678.3,962.9 1679.4,961.4 1680.5,955.2 1681.6,959.8 1682.7,954.1 1683.8,960.1 1684.9,962.8 1686,962.2 1687.1,962.7 1688.2,958.9 1689.3,961.3 1690.4,960.8 1691.5,954 1692.6,959.4 1693.7,962 1694.8,959.4 1695.9,959.3 1697,956.2 1698.1,960.3 1699.2,960 1700.3,958.5 1701.4,958.3 1702.5,957.7 1703.6,959.2 1704.7,951.8 1705.8,957.6 1706.9,956.3 1708,958.6 1709.1,959.3 1710.2,956.2 1711.3,952.5 1712.4,958.4 1713.5,956.9 1714.6,958.5 1715.7,956.1 1716.8,951.4 1717.9,958.5 1719,958.9 1720.1,959.1 1721.2,952 1722.3,955.7 1723.4,958.6 1724.5,957.8 1725.6,959.1 1726.7,959.7 1727.8,956.6 1728.9,957.8 1730,958.1 1730,970.5 1728.9,971.4 1727.8,967.1 1726.7,967.8 1725.6,970 1724.5,964.6 1723.4,968.2 1722.3,965.2 1721.2,967.7 1720.1,966.5 1719,966.1 1717.9,969.8 1716.8,966.7 1715.7,970.2 1714.6,964.8 1713.5,970.8 1712.4,965.8 1711.3,963.9 1710.2,965.2 1709.1,966.4 1708,967.3 1706.9,965.3 1705.8,967.5 1704.7,968.7 1703.6,968 1702.5,970.9 1701.4,972.8 1700.3,965.8 1699.2,965.6 1698.1,971.8 1697,964.6 1695.9,975.4 1694.8,972.7 1693.7,973.1 1692.6,968.2 1691.5,973.5 1690.4,967.3 1689.3,968.3 1688.2,968.4 1687.1,967.4 1686,969.4 1684.9,967.6 1683.8,970.4 1682.7,968 1681.6,969.5 1680.5,969.5 1679.4,971.1 1678.3,977.2 1677.2,974.1 1676.1,969 1675,969 1673.9,969.3 1672.8,967.4 1671.7,973.5 1670.6,969.8 1669.5,973.5 1668.4,969 1667.3,972.7 1666.2,976.1 1665.1,974.7 1664,969.8 1662.9,970.4 1661.8,978.1 1660.7,971 1659.6,969.8 1658.5,970.7 1657.4,970.5 1656.3,971.4 1655.2,974.2 1654.1,972 1653,980 1651.9,973.7 1650.8,972.4 1649.7,971.3 1648.6,971.8 1647.5,972.5 1646.4,972.4 1645.2,972.5 1644.1,973.4 1643,973.1 1641.9,976.8 1640.8,973.8 1639.7,977.6 1638.6,981.7 1637.5,976.3 1636.4,980.1 1635.3,983.5 1634.2,977 1633.1,977.2 1632,976.8 1630.9,979 1629.8,981.2 1628.7,983.2 1627.6,980 1626.5,984.8 1625.4,987.7 1624.3,978.3 1623.2,977.6 1622.1,978.4 1621,979.3 1619.9,978.6 1618.8,981.9 1617.7,979.5 1616.6,978.8 1615.5,977.8 1614.4,985.4 1613.3,978.4 1612.2,979.7 1611.1,980 1610,979.7 1608.9,980.4 1607.8,978.1 1606.7,977.9 1605.6,982 1604.5,979.2 1603.4,980.1 1602.3,981.1 1601.2,980.2 1600.1,979 1599,979.9 1597.9,980.7 1596.8,991.3 1595.7,984.9 1594.6,980.3 1593.5,980.7 1592.4,980.7 1591.3,982.1 1590.2,981.9 1589.1,982.6 1588,988.9 1586.9,980.4 1585.8,987 1584.7,989 1583.6,983.8 1582.5,987.6 1581.4,982.6 1580.3,984.2 1579.2,985.2 1578.1,983.5 1577,982.7 1575.9,985.3 1574.8,984.7 1573.7,983.9 1572.6,993.1 1571.5,984.5 1570.4,986.4 1569.3,984.6 1568.2,986.9 1567.1,990.1 1566,984.7 1564.9,985.7 1563.8,986.4 1562.7,987 1561.6,993.3 1560.5,985.2 1559.4,987.3 1558.3,986.7 1557.2,986.9 1556.1,985.9 1555,987.4 1553.9,988.7 1552.8,986.9 1551.7,987 1550.6,992.7 1549.5,994.5 1548.4,994 1547.3,996.5 1546.2,987.4 1545.1,988.7 1544,992.8 1542.9,991.9 1541.8,995.2 1540.7,989.2 1539.6,987.1 1538.5,991 1537.4,995.3 1536.3,990 1535.2,997.5 1534.1,993 1533,990.3 1531.9,991 1530.8,991.3 1529.7,991.8 1528.6,995.7 1527.5,992.7 1526.4,991 1525.3,996.2 1524.2,993 1523.1,991.9 1522,992 1520.9,999.8 1519.8,996.2 1518.7,1000.4 1517.6,993.2 1516.5,994.7 1515.4,999.6 1514.3,995.1 1513.2,995 1512.1,996.9 1511,997.1 1509.9,998.1 1508.8,996 1507.7,996.8 1506.6,995 1505.5,997.9 1504.4,997 1503.3,1003.2 1502.2,999.3 1501.1,998.9 1500,998.2 1498.9,997.1 1497.8,997.8 1496.7,998.2 1495.6,998.9 1494.5,996.2 1493.4,998.7 1492.3,997.4 1491.2,1001.8 1490.1,997.5 1489,999.2 1487.9,998.5 1486.8,997.2 1485.7,998.5 1484.6,996.6 1483.5,1005.9 1482.4,1004.5 1481.3,998.1 1480.2,1004.7 1479.1,1004.1 1478,1004.5 1476.9,997.4 1475.8,996.8 1474.6,998.1 1473.5,999.3 1472.4,1001.3 1471.3,999.1 1470.2,999.1 1469.1,1001.8 1468,999.7 1466.9,1000.3 1465.8,1000.6 1464.7,999.9 1463.6,1001.8 1462.5,999.8 1461.4,999.2 1460.3,1002.7 1459.2,999.2 1458.1,1000.1 1457,1001.8 1455.9,1000.6 1454.8,1001.3 1453.7,1006.4 1452.6,1008.3 1451.5,1003 1450.4,1004.2 1449.3,1001.1 1448.2,1007.7 1447.1,1002.1 1446,1002.6 1444.9,1009.3 1443.8,1002.6 1442.7,1002 1441.6,1002 1440.5,1003.9 1439.4,1003.4 1438.3,1004.1 1437.2,1007.9 1436.1,1001.5 1435,1003 1433.9,1002.1 1432.8,1004.4 1431.7,1002.6 1430.6,1003 1429.5,1003.2 1428.4,1006.8 1427.3,1003.2 1426.2,1003.7 1425.1,1004.3 1424,1003.2 1422.9,1004.2 1421.8,1003.9 1420.7,1002.3 1419.6,1003.9 1418.5,1003.8 1417.4,1003.3 1416.3,1004.2 1415.2,1006 1414.1,1005.2 1413,1004.9 1411.9,1006.6 1410.8,1006.2 1409.7,1006.7 1408.6,1009.5 1407.5,1008.2 1406.4,1010.2 1405.3,1009 1404.2,1010.8 1403.1,1012.3 1402,1009.4 1400.9,1013.1 1399.8,1016.5 1398.7,1011 1397.6,1009.1 1396.5,1017.4 1395.4,1013.2 1394.3,1009.2 1393.2,1017.4 1392.1,1012.8 1391,1012.6" fill="#000"/>
<polygon points="1391,1026.6 1392.1,1031.4 1393.2,1028.8 1394.3,1031.4 1395.4,1031.2 1396.5,1025.4 1397.6,1031.2 1398.7,1030.9 1399.8,1025.6 1400.9,1029 1402,1028.3 1403.1,1023 1404.2,1027.5 1405.3,1027.5 1406.4,1026.8 1407.5,1022.5 1408.6,1027.1 1409.7,1028.4 1410.8,1027.3 1411.9,1026.7 1413,1020.7 1414.1,1025.3 1415.2,1025.5 1416.3,1024.8 1417.4,1024.2 1418.5,1023.8 1419.6,1022.8 1420.7,1024.1 1421.8,1024.5 1422.9,1024.3 1424,1023.1 1425.1,1021.7 1426.2,1023.7 1427.3,1024.5 1428.4,1023.8 1429.5,1023.1 1430.6,1023.1 1431.7,1021.3 1432.8,1022.7 1434,1021.6 1435.1,1019.9 1436.2,1018.8 1437.3,1018.7 1438.4,1020.1 1439.5,1019.8 1440.6,1017.2 1441.7,1018.1 1442.8,1013.8 1443.9,1016.9 1445,1018.5 1446.1,1016 1447.2,1016.9 1448.3,1011.3 1449.4,1016.3 1450.5,1017.3 1451.6,1017.4 1452.7,1015.5 1453.8,1013.5 1454.9,1015.5 1456,1008.7 1457.1,1013.7 1458.2,1016.9 1459.3,1013 1460.4,1015.8 1461.5,1014.5 1462.6,1012.3 1463.7,1014.5 1464.8,1009.9 1465.9,1012.8 1467,1013.8 1468.1,1007.9 1469.2,1015.9 1470.3,1014.9 1471.4,1012.1 1472.5,1009.1 1473.6,1009.4 1474.7,1005.3 1475.8,1012.3 1476.9,1012.7 1478,1011.6 1479.1,1011.3 1480.2,1007.6 1481.3,1007.1 1482.4,1010.8 1483.5,1009.2 1484.6,1010.8 1485.7,1010.6 1486.8,1009.8 1487.9,1003.8 1489,1007.6 1490.1,1008.4 1491.2,1008.5 1492.3,1008.1 1493.4,1006.8 1494.5,1007.7 1495.6,1008.2 1496.7,1005.3 1497.8,1008.8 1498.9,1006.6 1500,1002.2 1501.1,1007.7 1502.2,1002.8 1503.3,1006.5 1504.4,1006.2 1505.5,1004.5 1506.6,1003.2 1507.7,1003.4 1508.8,1000.3 1509.9,1004.2 1511,1003 1512.1,1003.1 1513.2,1003.6 1514.3,1004.5 1515.4,1003.9 1516.5,1003.3 1517.7,1003.2 1518.8,1002.2 1519.9,1001.7 1521,995.6 1522.1,996.3 1523.2,1002.1 1524.3,1003.2 1525.4,1003.1 1526.5,1001.9 1527.6,1000.9 1528.7,1000.2 1529.8,998.1 1530.9,1000.7 1532,1001.4 1533.1,999.5 1534.2,994.3 1535.3,1000.9 1536.4,999.7 1537.5,998.8 1538.6,996.4 1539.7,992 1540.8,998.4 1541.9,996.5 1543,991.5 1544.1,994.5 1545.2,993.3 1546.3,987.9 1547.4,995.3 1548.5,993.3 1549.6,994.8 1550.7,992.1 1551.8,993.9 1552.9,989.7 1554,993.8 1555.1,992.6 1556.2,992.8 1557.3,983.8 1558.4,990.5 1559.5,991.8 1560.6,985.6 1561.7,990.6 1562.8,985.1 1563.9,986.5 1565,990.6 1566.1,991.6 1567.2,985.4 1568.3,988.2 1569.4,989.9 1570.5,990.3 1571.6,988.9 1572.7,989.3 1573.8,989.8 1574.9,988 1576,990.1 1577.1,988.1 1578.2,987.7 1579.3,986.2 1580.4,981.7 1581.5,980.9 1582.6,983.2 1583.7,984.7 1584.8,987.3 1585.9,980.9 1587,985.3 1588.1,978.9 1589.2,982.3 1590.3,983.8 1591.4,985.2 1592.5,977.5 1593.6,984.6 1594.7,983.9 1595.8,984.5 1596.9,984.2 1598,983.7 1599.1,982.6 1600.2,983.3 1601.3,983.2 1602.5,982.8 1603.6,981.4 1604.7,981.2 1605.8,980.7 1606.9,981.7 1608,980.8 1609.1,974.9 1610.2,979.3 1611.3,980.4 1612.4,977.8 1613.5,979.6 1614.6,978.9 1615.7,979.5 1616.8,979.1 1617.9,974.1 1619,979.1 1620.1,979.3 1621.2,975.9 1622.3,977.9 1623.4,977.3 1624.5,979.8 1625.6,977.5 1626.7,979.1 1627.8,980.5 1628.9,977 1630,977 1631.1,975.7 1632.2,979.9 1633.3,979.7 1634.4,980.5 1635.5,972.9 1636.6,979 1637.7,977.7 1638.8,971 1639.9,977.5 1641,976 1642.1,975.3 1643.2,976.4 1644.3,975.4 1645.4,975.5 1646.5,974.1 1647.6,969.3 1648.7,972.4 1649.8,973.8 1650.9,974.4 1652,972.3 1653.1,973.6 1654.2,972.4 1655.3,969.1 1656.4,971.9 1657.5,968.6 1658.6,971.7 1659.7,969.8 1660.8,971.8 1661.9,971.3 1663,968.5 1664.1,971 1665.2,973.5 1666.3,972.8 1667.4,969.9 1668.5,972.2 1669.6,970.3 1670.7,970.1 1671.8,967.1 1672.9,970.3 1674,964.6 1675.1,968.8 1676.2,968 1677.3,964.2 1678.4,967.4 1679.5,963.8 1680.6,967 1681.7,966.8 1682.8,965.8 1683.9,966.8 1685,963.8 1686.2,962.8 1687.3,967 1688.4,964.8 1689.5,966.1 1690.6,964.8 1691.7,966.4 1692.8,965.4 1693.9,960.8 1695,965.4 1696.1,964.7 1697.2,964.3 1698.3,963.9 1699.4,955.4 1700.5,963.6 1701.6,956.7 1702.7,962.4 1703.8,962 1704.9,960.6 1706,959.1 1707.1,961.1 1708.2,960.4 1709.3,959.9 1710.4,961 1711.5,957.8 1712.6,958 1713.7,959.2 1714.8,957.8 1715.9,951 1717,952.1 1718.1,955.6 1719.2,956.4 1720.3,958.3 1721.4,958.3 1722.5,957.2 1723.6,956.8 1724.7,959.2 1725.8,957.4 1726.9,955.6 1728,956.6 1728,966.1 1726.9,969.7 1725.8,964.2 1724.7,964 1723.6,964.4 1722.5,964.7 1721.4,964.2 1720.3,972.2 1719.2,965.5 1718.1,964.7 1717,971.1 1715.9,970.9 1714.8,965 1713.7,964.4 1712.6,968 1711.5,967.7 1710.4,968.3 1709.3,967.4 1708.2,969.6 1707.1,968.3 1706,970.1 1704.9,968.4 1703.8,968 1702.7,973.6 1701.6,974.3 1700.5,970.1 1699.4,969.8 1698.3,970.7 1697.2,970.6 1696.1,970.7 1695,972.5 1693.9,979.5 1692.8,975.3 1691.7,973.3 1690.6,981.2 1689.5,972.6 1688.4,973.7 1687.3,972.4 1686.2,974.4 1685,975.9 1683.9,981.2 1682.8,976.6 1681.7,977.5 1680.6,976.5 1679.5,974.1 1678.4,976.8 1677.3,985.6 1676.2,975.3 1675.1,979.1 1674,976.4 1672.9,978.7 1671.8,980.4 1670.7,977.2 1669.6,976.5 1668.5,978 1667.4,979.3 1666.3,977.7 1665.2,987 1664.1,985.2 1663,984.1 1661.9,980.2 1660.8,977.8 1659.7,985.1 1658.6,978 1657.5,982.2 1656.4,981.5 1655.3,984.2 1654.2,980.4 1653.1,985.3 1652,978.9 1650.9,979.8 1649.8,983.4 1648.7,985.8 1647.6,981.6 1646.5,985.2 1645.4,982.2 1644.3,982.1 1643.2,983.1 1642.1,987.4 1641,984.5 1639.9,989.9 1638.8,987.3 1637.7,985.2 1636.6,985.4 1635.5,988 1634.4,986.8 1633.3,986.2 1632.2,985.1 1631.1,994.8 1630,984.8 1628.9,987.4 1627.8,987.7 1626.7,988.8 1625.6,985.5 1624.5,986.4 1623.4,988.2 1622.3,985 1621.2,986.4 1620.1,987.3 1619,986.3 1617.9,987.3 1616.8,991.4 1615.7,988.9 1614.6,985.6 1613.5,987.6 1612.4,987.4 1611.3,987.5 1610.2,987.5 1609.1,988.4 1608,988.2 1606.9,986.9 1605.8,988.9 1604.7,996.5 1603.6,987.8 1602.5,989.8 1601.3,997.4 1600.2,990.6 1599.1,997.6 1598,989.6 1596.9,989.2 1595.8,991.4 1594.7,990.8 1593.6,991.2 1592.5,992.6 1591.4,997.1 1590.3,996.5 1589.2,990.3 1588.1,993.1 1587,992.4 1585.9,994.4 1584.8,993.3 1583.7,999.7 1582.6,998.8 1581.5,999.3 1580.4,1000.3 1579.3,993.6 1578.2,995.3 1577.1,996.1 1576,995.9 1574.9,997.3 1573.8,1000.4 1572.7,1000.9 1571.6,997.4 1570.5,997.9 1569.4,996.2 1568.3,997.2 1567.2,996.1 1566.1,1004.7 1565,997 1563.9,999 1562.8,998.2 1561.7,998.1 1560.6,997.3 1559.5,1002.5 1558.4,1001.1 1557.3,1003.6 1556.2,998.3 1555.1,1003.7 1554,999 1552.9,1003.6 1551.8,999.9 1550.7,1000.7 1549.6,1004.7 1548.5,1000.4 1547.4,1000.6 1546.3,1000.5 1545.2,1001.4 1544.1,1001.3 1543,1003 1541.9,1003.9 1540.8,1004.4 1539.7,1006 1538.6,1008.8 1537.5,1007.1 1536.4,1006.3 1535.3,1008.4 1534.2,1010.7 1533.1,1011 1532,1010.1 1530.9,1009.7 1529.8,1007.9 1528.7,1008 1527.6,1012.1 1526.5,1010 1525.4,1007.6 1524.3,1015 1523.2,1010.1 1522.1,1011.2 1521,1015.9 1519.9,1016.5 1518.8,1010.4 1517.7,1010.1 1516.5,1015.3 1515.4,1011.4 1514.3,1010 1513.2,1009.8 1512.1,1012.4 1511,1010.9 1509.9,1019.2 1508.8,1010.1 1507.7,1014.7 1506.6,1013.1 1505.5,1012.1 1504.4,1011.6 1503.3,1021.4 1502.2,1015.7 1501.1,1013.8 1500,1022.8 1498.9,1024.2 1497.8,1013.5 1496.7,1015.1 1495.6,1014.1 1494.5,1016.2 1493.4,1014.8 1492.3,1015.8 1491.2,1016.2 1490.1,1014.9 1489,1020.3 1487.9,1017.2 1486.8,1027.2 1485.7,1037.5 1484.6,1031.6 1483.5,1021.7 1482.4,1019.5 1481.3,1018 1480.2,1017.7 1479.1,1017.8 1478,1018.1 1476.9,1021.3 1475.8,1019.1 1474.7,1021.2 1473.6,1023.2 1472.5,1021.7 1471.4,1022.8 1470.3,1026.4 1469.2,1025.5 1468.1,1023.2 1467,1021.9 1465.9,1024.6 1464.8,1020.7 1463.7,1024.6 1462.6,1030.9 1461.5,1023 1460.4,1023.8 1459.3,1024.7 1458.2,1023.4 1457.1,1023.9 1456,1022 1454.9,1023.2 1453.8,1021.9 1452.7,1021.4 1451.6,1028.6 1450.5,1025.1 1449.4,1023.3 1448.3,1023.2 1447.2,1024.1 1446.1,1023.4 1445,1032.1 1443.9,1025.3 1442.8,1025.6 1441.7,1027.3 1440.6,1027.2 1439.5,1031.2 1438.4,1027.7 1437.3,1027.3 1436.2,1030 1435.1,1029.4 1434,1029 1432.8,1030 1431.7,1033.9 1430.6,1031.3 1429.5,1031.4 1428.4,1034.4 1427.3,1036.7 1426.2,1032.1 1425.1,1031.1 1424,1030.6 1422.9,1031.9 1421.8,1034.5 1420.7,1034.7 1419.6,1033 1418.5,1035.1 1417.4,1033 1416.3,1040.7 1415.2,1035.3 1414.1,1034.3 1413,1033.1 1411.9,1038.2 1410.8,1049.9 1409.7,1061.5 1408.6,1055 1407.5,1043.9 1406.4,1035.7 1405.3,1039.4 1404.2,1036.6 1403.1,1039.6 1402,1038.8 1400.9,1036.4 1399.8,1045.1 1398.7,1035.8 1397.6,1036.1 1396.5,1037.4 1395.4,1042.7 1394.3,1038.8 1393.2,1039.3 1392.1,1039.6 1391,1044.5" fill="#fb0a0a"/>
<text x="1383" y="1074" font-size="31.2" stroke="#000" stroke-width="0.35">AgRP-Grb10-OE +</text>
<text x="1392.3" y="1111" font-size="31" stroke="#000" stroke-width="0.35">ETP45658</text>
<polygon points="1399,1135.9 1400.1,1136.5 1401.2,1135.7 1402.3,1138.7 1403.4,1134.9 1404.5,1136.6 1405.6,1134.7 1406.7,1137.8 1407.8,1137.5 1408.9,1138 1410,1133.2 1411.1,1129.1 1412.2,1137.1 1413.3,1135.4 1414.4,1135.9 1415.5,1134.1 1416.6,1136.6 1417.7,1134.8 1418.8,1134.3 1419.9,1134.4 1421,1133.9 1422.1,1133.8 1423.2,1127.6 1424.3,1133 1425.4,1131.6 1426.5,1126.3 1427.6,1131.9 1428.7,1131.5 1429.8,1132 1430.9,1129.2 1432,1129.4 1433.1,1128.9 1434.2,1130.1 1435.3,1130.7 1436.4,1122.6 1437.5,1129.3 1438.6,1125.9 1439.7,1128.2 1440.8,1128.2 1441.9,1129.9 1443,1129.3 1444.1,1129.8 1445.2,1130.4 1446.3,1125.3 1447.4,1127.6 1448.5,1124.6 1449.6,1127.7 1450.7,1126.1 1451.8,1127.3 1452.9,1119.8 1454,1122.5 1455.1,1124.4 1456.2,1124.9 1457.3,1122.8 1458.4,1125.3 1459.5,1125.3 1460.6,1122.5 1461.7,1121.3 1462.8,1123.5 1463.9,1123.3 1465,1123.5 1466.1,1123.9 1467.2,1121.4 1468.3,1116.1 1469.4,1116.1 1470.5,1121.9 1471.6,1115.7 1472.7,1120.6 1473.8,1122.7 1474.9,1123.1 1476,1123 1477.1,1118.9 1478.2,1123 1479.3,1121.6 1480.4,1123 1481.5,1123 1482.7,1122.7 1483.8,1122.1 1484.9,1122.8 1486,1123.9 1487.1,1116.1 1488.2,1122.7 1489.3,1113.7 1490.4,1122.3 1491.5,1114.7 1492.6,1120.3 1493.7,1117.5 1494.8,1119.3 1495.9,1118.9 1497,1119 1498.1,1116.4 1499.2,1116.5 1500.3,1107.9 1501.4,1114.2 1502.5,1114.7 1503.6,1114.8 1504.7,1116.1 1505.8,1110.9 1506.9,1107.4 1508,1115.9 1509.1,1113.1 1510.2,1113.8 1511.3,1108.9 1512.4,1113.1 1513.5,1112 1514.6,1112.9 1515.7,1113.4 1516.8,1111.2 1517.9,1109.2 1519,1111 1520.1,1111.5 1521.2,1108.8 1522.3,1101 1523.4,1107.6 1524.5,1108.6 1525.6,1107.2 1526.7,1107.4 1527.8,1105.2 1528.9,1105.6 1530,1098.4 1531.1,1099.4 1532.2,1106.8 1533.3,1105.2 1534.4,1102.7 1535.5,1095.8 1536.6,1103.3 1537.7,1100.8 1538.8,1096.4 1539.9,1103.8 1541,1103 1542.1,1098.5 1543.2,1104 1544.3,1103.7 1545.4,1103.7 1546.5,1102.5 1547.6,1104.9 1548.7,1102.2 1549.8,1100.6 1550.9,1099.1 1552,1101.9 1553.1,1100.3 1554.2,1100.2 1555.3,1101.7 1556.4,1101.4 1557.5,1091.8 1558.6,1091.5 1559.7,1095.5 1560.8,1099 1561.9,1099 1563,1098.6 1564.1,1096.4 1565.2,1096.7 1566.3,1095.8 1567.4,1096.8 1568.5,1095.2 1569.6,1095.2 1570.7,1091.9 1571.8,1094.4 1572.9,1094.9 1574,1091.7 1575.1,1093.1 1576.2,1084.1 1577.3,1093.7 1578.4,1093.3 1579.5,1094.4 1580.6,1086.4 1581.7,1093.9 1582.8,1086.1 1583.9,1093.1 1585,1092.9 1586.1,1087.1 1587.2,1087.3 1588.3,1093 1589.4,1091.6 1590.5,1092 1591.6,1084.6 1592.7,1090 1593.8,1087.1 1594.9,1087.4 1596,1090.4 1597.1,1090.1 1598.2,1082.7 1599.3,1089.7 1600.4,1090.8 1601.5,1089.2 1602.6,1088.8 1603.7,1087.3 1604.8,1088.2 1605.9,1089.1 1607,1089.4 1608.1,1086.2 1609.2,1090.9 1610.3,1089.5 1611.4,1087.5 1612.5,1086.9 1613.6,1088.2 1614.7,1089.5 1615.8,1082.9 1616.9,1089.3 1618,1084.2 1619.1,1083.2 1620.2,1089.5 1621.3,1088.6 1622.4,1080.2 1623.5,1089.2 1624.6,1087.1 1625.7,1086.4 1626.8,1082.6 1627.9,1088.1 1629,1087 1630.1,1086.3 1631.2,1084.7 1632.3,1082.8 1633.4,1084 1634.5,1083.5 1635.6,1080.4 1636.7,1071.1 1637.8,1084.3 1638.9,1084.2 1640,1081.7 1641.1,1081 1642.2,1080.7 1643.3,1081.4 1644.4,1081.7 1645.5,1073.5 1646.6,1076.8 1647.7,1080.1 1648.9,1070.6 1650,1074.4 1651.1,1080.3 1652.2,1080.5 1653.3,1078 1654.4,1075.9 1655.5,1079.9 1656.6,1075.4 1657.7,1077 1658.8,1079.4 1659.9,1078.6 1661,1077.8 1662.1,1078.7 1663.2,1077.9 1664.3,1077.5 1665.4,1070.4 1666.5,1075.2 1667.6,1076.3 1668.7,1074.8 1669.8,1076.1 1670.9,1074.6 1672,1069.8 1673.1,1074.3 1674.2,1074.7 1675.3,1074.8 1676.4,1075 1677.5,1072.8 1678.6,1071.2 1679.7,1073.3 1680.8,1074.5 1681.9,1072.3 1683,1074 1684.1,1072.4 1685.2,1074.2 1686.3,1074.6 1687.4,1071.3 1688.5,1071.9 1689.6,1072.8 1690.7,1074.2 1691.8,1067.5 1692.9,1069.5 1694,1072 1695.1,1062 1696.2,1071 1697.3,1071 1698.4,1069.2 1699.5,1068.7 1700.6,1068.3 1701.7,1069.3 1702.8,1065.1 1703.9,1066.8 1705,1058.2 1706.1,1063.5 1707.2,1065.4 1708.3,1056.7 1709.4,1065.6 1710.5,1066.7 1711.6,1065.2 1712.7,1059.3 1713.8,1065.9 1714.9,1066.2 1716,1064.3 1717.1,1065.5 1718.2,1058.4 1719.3,1055.8 1720.4,1062.7 1721.5,1064.9 1722.6,1059.8 1723.7,1057 1724.8,1065.7 1725.9,1064.6 1727,1063.9 1728.1,1062.1 1729.2,1064.8 1730.3,1063.5 1731.4,1064.1 1731.4,1072.8 1730.3,1071.7 1729.2,1072.2 1728.1,1073 1727,1082 1725.9,1074.7 1724.8,1073 1723.7,1075.4 1722.6,1082.2 1721.5,1075.7 1720.4,1072.6 1719.3,1075.4 1718.2,1072.8 1717.1,1073.3 1716,1079.9 1714.9,1074.6 1713.8,1076.3 1712.7,1072.9 1711.6,1074.2 1710.5,1078.4 1709.4,1077.7 1708.3,1075.5 1707.2,1076 1706.1,1075.2 1705,1074.2 1703.9,1082.1 1702.8,1075.7 1701.7,1079 1700.6,1079.3 1699.5,1079.3 1698.4,1079.3 1697.3,1085 1696.2,1080.9 1695.1,1082.9 1694,1080.7 1692.9,1081.2 1691.8,1080.8 1690.7,1089.5 1689.6,1082.6 1688.5,1081.6 1687.4,1083.1 1686.3,1083.4 1685.2,1084.2 1684.1,1083.1 1683,1083.8 1681.9,1083.2 1680.8,1085.4 1679.7,1083.8 1678.6,1085.5 1677.5,1084 1676.4,1083.7 1675.3,1083.4 1674.2,1084.8 1673.1,1084.8 1672,1084.6 1670.9,1088.5 1669.8,1091.9 1668.7,1086.9 1667.6,1084.6 1666.5,1085.3 1665.4,1084.9 1664.3,1085.8 1663.2,1087.1 1662.1,1087.2 1661,1088.5 1659.9,1087.8 1658.8,1089.5 1657.7,1087.5 1656.6,1088.3 1655.5,1089.8 1654.4,1096.7 1653.3,1092.7 1652.2,1090.2 1651.1,1089.6 1650,1088.7 1648.9,1091.3 1647.7,1093 1646.6,1091.4 1645.5,1094.2 1644.4,1089.8 1643.3,1090.6 1642.2,1091.4 1641.1,1092.8 1640,1097.1 1638.9,1092.4 1637.8,1094.9 1636.7,1098.3 1635.6,1092.4 1634.5,1094.7 1633.4,1093.2 1632.3,1094.6 1631.2,1094.7 1630.1,1096 1629,1098.2 1627.9,1095.4 1626.8,1099 1625.7,1100.1 1624.6,1098 1623.5,1100.4 1622.4,1097.4 1621.3,1099 1620.2,1098.2 1619.1,1098.3 1618,1099.2 1616.9,1098.7 1615.8,1104.3 1614.7,1107.1 1613.6,1099.9 1612.5,1097.4 1611.4,1103.3 1610.3,1098.8 1609.2,1098.3 1608.1,1100 1607,1098.4 1605.9,1099.4 1604.8,1097.5 1603.7,1107.2 1602.6,1099.6 1601.5,1099.8 1600.4,1105.4 1599.3,1104.3 1598.2,1098 1597.1,1100.4 1596,1106.6 1594.9,1100.4 1593.8,1105.4 1592.7,1102.1 1591.6,1101.5 1590.5,1102.2 1589.4,1103.6 1588.3,1101.8 1587.2,1103.7 1586.1,1104 1585,1108.9 1583.9,1103 1582.8,1102.3 1581.7,1106.5 1580.6,1103 1579.5,1103.5 1578.4,1102.3 1577.3,1109.4 1576.2,1103.7 1575.1,1104 1574,1108.3 1572.9,1103.2 1571.8,1109.1 1570.7,1105.2 1569.6,1103.5 1568.5,1104 1567.4,1104.5 1566.3,1106.9 1565.2,1113.5 1564.1,1104.6 1563,1108.3 1561.9,1113.6 1560.8,1109.2 1559.7,1108.5 1558.6,1110.8 1557.5,1118.4 1556.4,1110.2 1555.3,1115.6 1554.2,1113.1 1553.1,1119.1 1552,1113.3 1550.9,1114.6 1549.8,1110.7 1548.7,1118.2 1547.6,1117.1 1546.5,1120 1545.4,1113.4 1544.3,1113.8 1543.2,1113.3 1542.1,1114.3 1541,1113.8 1539.9,1119.1 1538.8,1116 1537.7,1114.7 1536.6,1113.4 1535.5,1113.4 1534.4,1120.2 1533.3,1114.7 1532.2,1117.6 1531.1,1121.2 1530,1121.5 1528.9,1114.9 1527.8,1117 1526.7,1116.9 1525.6,1117.4 1524.5,1119.6 1523.4,1122.2 1522.3,1124 1521.2,1118.3 1520.1,1124.5 1519,1126.8 1517.9,1120.9 1516.8,1119.5 1515.7,1124.8 1514.6,1122.4 1513.5,1122.7 1512.4,1122.3 1511.3,1122.4 1510.2,1125.8 1509.1,1126.3 1508,1123.9 1506.9,1129.1 1505.8,1123.5 1504.7,1123.1 1503.6,1124.2 1502.5,1124.2 1501.4,1123.6 1500.3,1135.2 1499.2,1132.1 1498.1,1131.9 1497,1126.2 1495.9,1128.8 1494.8,1128.6 1493.7,1136.7 1492.6,1127.5 1491.5,1128.6 1490.4,1129.6 1489.3,1130.5 1488.2,1130.5 1487.1,1132.5 1486,1131.8 1484.9,1137.4 1483.8,1134.5 1482.7,1135.7 1481.5,1132.2 1480.4,1135.1 1479.3,1131.7 1478.2,1133.8 1477.1,1132.6 1476,1133.2 1474.9,1131.4 1473.8,1137.7 1472.7,1131.9 1471.6,1133.3 1470.5,1135 1469.4,1133.8 1468.3,1132.7 1467.2,1138.6 1466.1,1132 1465,1132.8 1463.9,1139 1462.8,1134.7 1461.7,1133 1460.6,1135.3 1459.5,1134.3 1458.4,1133.9 1457.3,1133.8 1456.2,1135.6 1455.1,1135.7 1454,1137.4 1452.9,1137.2 1451.8,1137.8 1450.7,1137.7 1449.6,1137 1448.5,1139.2 1447.4,1137 1446.3,1137 1445.2,1136.8 1444.1,1137.3 1443,1146.2 1441.9,1140.1 1440.8,1140.9 1439.7,1138.5 1438.6,1139.6 1437.5,1137.4 1436.4,1137.7 1435.3,1144.3 1434.2,1139.2 1433.1,1144.2 1432,1141 1430.9,1146.2 1429.8,1141.1 1428.7,1141 1427.6,1141 1426.5,1141.7 1425.4,1142 1424.3,1142.7 1423.2,1142.1 1422.1,1143.7 1421,1143.3 1419.9,1144.5 1418.8,1151.2 1417.7,1150.9 1416.6,1146.7 1415.5,1151.3 1414.4,1151.3 1413.3,1145.6 1412.2,1144.1 1411.1,1147.3 1410,1148.2 1408.9,1146.2 1407.8,1146.9 1406.7,1150.4 1405.6,1146 1404.5,1147.2 1403.4,1150 1402.3,1147.6 1401.2,1148.2 1400.1,1146.9 1399,1146.2" fill="#000"/>
<polygon points="1399,1144.7 1400.1,1149.2 1401.2,1149.1 1402.3,1147.6 1403.4,1147.6 1404.5,1146.2 1405.6,1146.3 1406.7,1147.1 1407.8,1146.9 1408.9,1146.7 1410,1147.1 1411.1,1144.7 1412.2,1140.6 1413.3,1145 1414.4,1139.1 1415.5,1146.6 1416.6,1136.4 1417.7,1140.1 1418.8,1143.5 1419.9,1139.8 1421,1143.4 1422.1,1142.9 1423.2,1138.7 1424.3,1141.8 1425.4,1142.7 1426.5,1136.6 1427.6,1137.8 1428.7,1139.4 1429.8,1140.8 1430.9,1138.1 1432,1138.9 1433.1,1135.5 1434.2,1137.1 1435.3,1131 1436.4,1138.7 1437.5,1139.6 1438.6,1133.7 1439.7,1140.4 1440.8,1138.6 1441.9,1136.7 1443,1133.9 1444.1,1138.3 1445.2,1139.7 1446.3,1137.1 1447.4,1140.7 1448.5,1133.9 1449.6,1137.7 1450.7,1130.8 1451.8,1137.1 1452.9,1135.7 1454,1135.7 1455.1,1136.4 1456.2,1128.9 1457.3,1133.8 1458.4,1126.8 1459.5,1124.3 1460.6,1132 1461.7,1131.1 1462.8,1131 1463.9,1131.3 1465,1132.7 1466.1,1128.8 1467.2,1130 1468.3,1130.9 1469.4,1129.7 1470.5,1132.5 1471.6,1129.2 1472.7,1132 1473.8,1130.7 1474.9,1126.9 1476,1130.2 1477.1,1124.1 1478.2,1128.5 1479.3,1128.7 1480.4,1129 1481.5,1126.9 1482.7,1124.5 1483.8,1129.1 1484.9,1130.1 1486,1126.6 1487.1,1129.3 1488.2,1128.5 1489.3,1125.6 1490.4,1127.7 1491.5,1127.4 1492.6,1128.2 1493.7,1124.2 1494.8,1124.3 1495.9,1127.4 1497,1126.1 1498.1,1126.4 1499.2,1128.1 1500.3,1128.4 1501.4,1126.8 1502.5,1125.6 1503.6,1125.5 1504.7,1126 1505.8,1126.4 1506.9,1120.8 1508,1121.9 1509.1,1121 1510.2,1124.9 1511.3,1124.8 1512.4,1124 1513.5,1115.9 1514.6,1122.2 1515.7,1120.6 1516.8,1122.9 1517.9,1120.7 1519,1122.1 1520.1,1121.5 1521.2,1119 1522.3,1118 1523.4,1117.1 1524.5,1116.8 1525.6,1109.6 1526.7,1116 1527.8,1111.8 1528.9,1114.5 1530,1111.7 1531.1,1116.2 1532.2,1114.7 1533.3,1114.6 1534.4,1111.6 1535.5,1112.4 1536.6,1113.8 1537.7,1106.6 1538.8,1112.7 1539.9,1114.6 1541,1109.9 1542.1,1113.9 1543.2,1114.6 1544.3,1112.6 1545.4,1112.1 1546.5,1105.9 1547.6,1111.4 1548.7,1111.3 1549.8,1108.8 1550.9,1110.5 1552,1110.1 1553.1,1108.3 1554.2,1110.5 1555.3,1108.6 1556.4,1105.2 1557.5,1106.3 1558.6,1107.6 1559.7,1106.2 1560.8,1104.3 1561.9,1106.2 1563,1107.1 1564.1,1106.5 1565.2,1105.6 1566.3,1101.6 1567.4,1102.6 1568.5,1105.8 1569.6,1100.4 1570.7,1104.6 1571.8,1103.8 1572.9,1100.2 1574,1102.1 1575.1,1103.2 1576.2,1103.2 1577.3,1102 1578.4,1097.7 1579.5,1100.2 1580.6,1097.4 1581.7,1100.4 1582.8,1099.5 1583.9,1095.6 1585,1097.7 1586.1,1098.6 1587.2,1097 1588.3,1093.8 1589.4,1094 1590.5,1097.1 1591.6,1097.5 1592.7,1094.5 1593.8,1097.2 1594.9,1098 1596,1098.2 1597.1,1098.3 1598.2,1096.9 1599.3,1098.2 1600.4,1100.2 1601.5,1097.2 1602.6,1100.4 1603.7,1099.7 1604.8,1100.9 1605.9,1101.6 1607,1099 1608.1,1097.2 1609.2,1099.5 1610.3,1097.9 1611.4,1097.7 1612.5,1099 1613.6,1098.6 1614.7,1093.5 1615.8,1099 1616.9,1098.4 1618,1095.3 1619.1,1096.5 1620.2,1096.8 1621.3,1094.2 1622.4,1097.2 1623.5,1096.1 1624.6,1090.4 1625.7,1096.3 1626.8,1092.4 1627.9,1092.1 1629,1092.5 1630.1,1089.9 1631.2,1094.4 1632.3,1092.3 1633.4,1095 1634.5,1094.6 1635.6,1094.6 1636.7,1094.1 1637.8,1089.3 1638.9,1092.7 1640,1089.9 1641.1,1093 1642.2,1088.5 1643.3,1093.5 1644.4,1085.3 1645.5,1091.2 1646.6,1093.3 1647.7,1089.9 1648.9,1091.6 1650,1088.3 1651.1,1090.4 1652.2,1087.8 1653.3,1091.8 1654.4,1090.6 1655.5,1090 1656.6,1084.9 1657.7,1091.3 1658.8,1088.7 1659.9,1090.9 1661,1090.2 1662.1,1084.8 1663.2,1089.1 1664.3,1089 1665.4,1090.7 1666.5,1088.6 1667.6,1090.7 1668.7,1089.3 1669.8,1087.6 1670.9,1090.1 1672,1077.8 1673.1,1084.1 1674.2,1084 1675.3,1084.1 1676.4,1082.5 1677.5,1083.1 1678.6,1080 1679.7,1083.1 1680.8,1083.3 1681.9,1082.5 1683,1077.8 1684.1,1080.7 1685.2,1076.7 1686.3,1077.9 1687.4,1080.1 1688.5,1077.8 1689.6,1077.7 1690.7,1073.5 1691.8,1077.3 1692.9,1073.7 1694,1079 1695.1,1076.6 1696.2,1077.3 1697.3,1079.1 1698.4,1077.9 1699.5,1078.9 1700.6,1074.9 1701.7,1076.9 1702.8,1078.5 1703.9,1077.7 1705,1078.1 1706.1,1077.9 1707.2,1077.3 1708.3,1075.4 1709.4,1076.2 1710.5,1075.5 1711.6,1075.3 1712.7,1076.1 1713.8,1074.5 1714.9,1074.2 1716,1074.1 1717.1,1074.9 1718.2,1073.6 1719.3,1074.7 1720.4,1070.9 1721.5,1073.3 1722.6,1073.1 1723.7,1073.2 1724.8,1072.2 1725.9,1073.2 1727,1070.1 1728.1,1072.7 1729.2,1071.6 1730.3,1071.3 1731.4,1069.1 1731.4,1084.8 1730.3,1083.2 1729.2,1083.8 1728.1,1084.9 1727,1088 1725.9,1086.3 1724.8,1084.7 1723.7,1085.4 1722.6,1085 1721.5,1084.6 1720.4,1083.7 1719.3,1084.9 1718.2,1086.3 1717.1,1084.3 1716,1090.1 1714.9,1085.4 1713.8,1085.5 1712.7,1086.4 1711.6,1085.6 1710.5,1085 1709.4,1091.9 1708.3,1088.6 1707.2,1087 1706.1,1087.2 1705,1089.2 1703.9,1088.8 1702.8,1089.8 1701.7,1088.1 1700.6,1090.2 1699.5,1089.9 1698.4,1094.1 1697.3,1096 1696.2,1094.3 1695.1,1091.6 1694,1088.5 1692.9,1089.5 1691.8,1090.3 1690.7,1092.3 1689.6,1091.5 1688.5,1090.5 1687.4,1091 1686.3,1090.7 1685.2,1090 1684.1,1095.8 1683,1090.2 1681.9,1093.4 1680.8,1091 1679.7,1093.6 1678.6,1094.5 1677.5,1100.4 1676.4,1097.8 1675.3,1102.6 1674.2,1098 1673.1,1098.3 1672,1097.9 1670.9,1104.6 1669.8,1099.5 1668.7,1107.3 1667.6,1106.4 1666.5,1102.7 1665.4,1106.6 1664.3,1100.5 1663.2,1105.7 1662.1,1104 1661,1101.4 1659.9,1103.1 1658.8,1101 1657.7,1105.6 1656.6,1104.9 1655.5,1101.2 1654.4,1101.8 1653.3,1103.1 1652.2,1102.3 1651.1,1101.1 1650,1103 1648.9,1101.1 1647.7,1102.6 1646.6,1103.6 1645.5,1103.6 1644.4,1105.2 1643.3,1103.9 1642.2,1109.9 1641.1,1103.9 1640,1103.5 1638.9,1112.5 1637.8,1105.7 1636.7,1104.1 1635.6,1105.8 1634.5,1107.7 1633.4,1106.2 1632.3,1104.3 1631.2,1110.9 1630.1,1106.4 1629,1108.8 1627.9,1106.5 1626.8,1105.2 1625.7,1105.3 1624.6,1104.2 1623.5,1107.9 1622.4,1104.7 1621.3,1107.4 1620.2,1115.4 1619.1,1108.1 1618,1106.8 1616.9,1109.6 1615.8,1108.1 1614.7,1109.6 1613.6,1110.6 1612.5,1110.5 1611.4,1115.3 1610.3,1111.5 1609.2,1114.6 1608.1,1111.8 1607,1119.2 1605.9,1111.4 1604.8,1114.7 1603.7,1111.4 1602.6,1112.2 1601.5,1116.4 1600.4,1109.1 1599.3,1111.6 1598.2,1113.4 1597.1,1109.1 1596,1115.5 1594.9,1109.1 1593.8,1107.9 1592.7,1107.2 1591.6,1106.6 1590.5,1107.4 1589.4,1109.7 1588.3,1108.4 1587.2,1109 1586.1,1107.4 1585,1109.3 1583.9,1115.2 1582.8,1114.4 1581.7,1109.6 1580.6,1109.8 1579.5,1114.1 1578.4,1110.2 1577.3,1118.6 1576.2,1120.1 1575.1,1119.3 1574,1113.2 1572.9,1114.3 1571.8,1114.6 1570.7,1114.7 1569.6,1119.8 1568.5,1115.7 1567.4,1119.5 1566.3,1116.6 1565.2,1116.3 1564.1,1116.2 1563,1114.7 1561.9,1117.6 1560.8,1115.9 1559.7,1117.7 1558.6,1121.3 1557.5,1117.1 1556.4,1119.7 1555.3,1122.9 1554.2,1125.3 1553.1,1118.8 1552,1122.3 1550.9,1122 1549.8,1121.8 1548.7,1120.5 1547.6,1125.1 1546.5,1130.7 1545.4,1122.5 1544.3,1133 1543.2,1126.6 1542.1,1125.4 1541,1123.5 1539.9,1126.2 1538.8,1135.7 1537.7,1125.2 1536.6,1125.4 1535.5,1126.6 1534.4,1125.5 1533.3,1123.7 1532.2,1125.1 1531.1,1127.6 1530,1129.3 1528.9,1125.7 1527.8,1128 1526.7,1129.5 1525.6,1127.1 1524.5,1126.3 1523.4,1132.5 1522.3,1129.5 1521.2,1129.8 1520.1,1130 1519,1134.3 1517.9,1131.2 1516.8,1133.7 1515.7,1137.1 1514.6,1134.4 1513.5,1142.5 1512.4,1135 1511.3,1135.9 1510.2,1142.1 1509.1,1138.2 1508,1137.7 1506.9,1141.6 1505.8,1137.1 1504.7,1143.8 1503.6,1144.8 1502.5,1138 1501.4,1139.3 1500.3,1138 1499.2,1142.8 1498.1,1137.2 1497,1137.7 1495.9,1140.6 1494.8,1136.8 1493.7,1139.1 1492.6,1137.2 1491.5,1139.5 1490.4,1140.6 1489.3,1143.7 1488.2,1140.1 1487.1,1141 1486,1141.6 1484.9,1139.6 1483.8,1139.2 1482.7,1139.6 1481.5,1144.8 1480.4,1141 1479.3,1147.9 1478.2,1141.2 1477.1,1140.2 1476,1144.6 1474.9,1145 1473.8,1142 1472.7,1140.3 1471.6,1142.7 1470.5,1141.7 1469.4,1144.6 1468.3,1142.3 1467.2,1145.3 1466.1,1147.2 1465,1142.6 1463.9,1149.4 1462.8,1143.6 1461.7,1143.3 1460.6,1147.8 1459.5,1145.1 1458.4,1145 1457.3,1150.9 1456.2,1147 1455.1,1148 1454,1150 1452.9,1151.3 1451.8,1148.7 1450.7,1149.5 1449.6,1152.2 1448.5,1151.1 1447.4,1152.2 1446.3,1153.9 1445.2,1153.9 1444.1,1154.6 1443,1153.3 1441.9,1150.3 1440.8,1151 1439.7,1150.3 1438.6,1150.2 1437.5,1148.4 1436.4,1150.7 1435.3,1149.4 1434.2,1150.1 1433.1,1151.1 1432,1153.8 1430.9,1153.8 1429.8,1151 1428.7,1155.1 1427.6,1156.7 1426.5,1155.5 1425.4,1152 1424.3,1153.3 1423.2,1151.6 1422.1,1154.5 1421,1154.2 1419.9,1154.7 1418.8,1157.4 1417.7,1154.2 1416.6,1158.1 1415.5,1155.9 1414.4,1162 1413.3,1155.2 1412.2,1159.4 1411.1,1155.9 1410,1156 1408.9,1160.8 1407.8,1160.2 1406.7,1159.4 1405.6,1159.7 1404.5,1159.8 1403.4,1160.2 1402.3,1157.7 1401.2,1161.8 1400.1,1159.5 1399,1161.5" fill="#fb0a0a"/>
<text x="1302.6" y="1161.2" font-size="29.8" stroke="#000" stroke-width="0.35">20 pA</text>
<line x1="1390.2" y1="1137.2" x2="1390.2" y2="1164.3" stroke="#000" stroke-width="3"/>
<line x1="1409.5" y1="1173.9" x2="1442.5" y2="1173.9" stroke="#000" stroke-width="3"/>
<text x="1388.4" y="1203.4" font-size="29.8" stroke="#000" stroke-width="0.35">200 ms</text>
<text x="1822.7" y="716.4" font-size="68">j</text>
<rect x="1811.5" y="764" width="8.5" height="8.5" fill="#fa0a0a" stroke="#fa0a0a" stroke-width="2"/>
<text x="1834" y="774" font-size="24.2" font-weight="bold">AgRP-Grb10-OE</text>
<rect x="1811.8" y="793.9" width="7.9" height="7.9" fill="#fff" stroke="#fa0a0a" stroke-width="2.6"/>
<text x="1834" y="806" font-size="24.4" font-weight="bold">AgRP-Grb10-OE + ETP45658</text>
<text x="1853.1" y="1029.2" font-size="31.9" font-weight="bold" transform="rotate(-90 1853.1 1029.2)">KATP (nS)</text>
<rect x="1931.7" y="937.7" width="46.8" height="128.3" fill="#fff" stroke="#fa0a0a" stroke-width="2.6"/>
<rect x="2002.8" y="1027.7" width="46.4" height="38.3" fill="#fff" stroke="#fa0a0a" stroke-width="2.6"/>
<line x1="1907.7" y1="844.1" x2="1907.7" y2="1067.3" stroke="#000" stroke-width="2.7"/>
<line x1="1901.9" y1="1066" x2="2073.6" y2="1066" stroke="#000" stroke-width="2.7"/>
<line x1="1901.9" y1="845.3" x2="1907.7" y2="845.3" stroke="#000" stroke-width="2.4"/>
<text x="1899.3" y="853.6" font-size="27.3" font-weight="bold" text-anchor="end">0.8</text>
<line x1="1901.9" y1="900.5" x2="1907.7" y2="900.5" stroke="#000" stroke-width="2.4"/>
<text x="1899.3" y="908.8" font-size="27.3" font-weight="bold" text-anchor="end">0.6</text>
<line x1="1901.9" y1="955.7" x2="1907.7" y2="955.7" stroke="#000" stroke-width="2.4"/>
<text x="1899.3" y="964" font-size="27.3" font-weight="bold" text-anchor="end">0.4</text>
<line x1="1901.9" y1="1010.8" x2="1907.7" y2="1010.8" stroke="#000" stroke-width="2.4"/>
<text x="1899.3" y="1019.1" font-size="27.3" font-weight="bold" text-anchor="end">0.2</text>
<line x1="1901.9" y1="1066" x2="1907.7" y2="1066" stroke="#000" stroke-width="2.4"/>
<text x="1899.3" y="1074.3" font-size="27.3" font-weight="bold" text-anchor="end">0.0</text>
<line x1="1954.8" y1="1066" x2="1954.8" y2="1072.5" stroke="#000" stroke-width="2.4"/>
<line x1="2025.9" y1="1066" x2="2025.9" y2="1072.5" stroke="#000" stroke-width="2.4"/>
<text x="1933.3" y="855.6" font-size="29.7" font-weight="bold">P&lt;0.0001</text>
<line x1="1952.4" y1="864.1" x2="2031.7" y2="864.1" stroke="#000" stroke-width="2.7"/>
<line x1="1955.2" y1="923.5" x2="1955.2" y2="953" stroke="#fa0a0a" stroke-width="2.4"/>
<line x1="1944" y1="923.5" x2="1966.4" y2="923.5" stroke="#fa0a0a" stroke-width="2.4"/>
<line x1="1944" y1="953" x2="1966.4" y2="953" stroke="#fa0a0a" stroke-width="2.4"/>
<rect x="1950.4" y="873.1" width="9" height="9" fill="#fa0a0a" stroke="#fa0a0a" stroke-width="2"/>
<rect x="1950.4" y="901.9" width="9" height="9" fill="#fa0a0a" stroke="#fa0a0a" stroke-width="2"/>
<rect x="1937.3" y="910.4" width="9" height="9" fill="#fa0a0a" stroke="#fa0a0a" stroke-width="2"/>
<rect x="1950.4" y="920.7" width="9" height="9" fill="#fa0a0a" stroke="#fa0a0a" stroke-width="2"/>
<rect x="1963.7" y="920.3" width="9" height="9" fill="#fa0a0a" stroke="#fa0a0a" stroke-width="2"/>
<rect x="1943.8" y="969.5" width="9" height="9" fill="#fa0a0a" stroke="#fa0a0a" stroke-width="2"/>
<rect x="1957.3" y="974.1" width="9" height="9" fill="#fa0a0a" stroke="#fa0a0a" stroke-width="2"/>
<rect x="1950.4" y="997.5" width="9" height="9" fill="#fa0a0a" stroke="#fa0a0a" stroke-width="2"/>
<line x1="2025.9" y1="1021" x2="2025.9" y2="1033.5" stroke="#fa0a0a" stroke-width="2.4"/>
<line x1="2012.9" y1="1021" x2="2038.9" y2="1021" stroke="#fa0a0a" stroke-width="2.4"/>
<line x1="2012.9" y1="1033.5" x2="2038.9" y2="1033.5" stroke="#fa0a0a" stroke-width="2.4"/>
<rect x="2021.9" y="981.4" width="8" height="8" fill="#fff" stroke="#fa0a0a" stroke-width="2.6"/>
<rect x="2005.2" y="1007" width="8" height="8" fill="#fff" stroke="#fa0a0a" stroke-width="2.6"/>
<rect x="2013.7" y="1010.4" width="8" height="8" fill="#fff" stroke="#fa0a0a" stroke-width="2.6"/>
<rect x="2038.8" y="1008.7" width="8" height="8" fill="#fff" stroke="#fa0a0a" stroke-width="2.6"/>
<rect x="2021.9" y="1015.5" width="8" height="8" fill="#fff" stroke="#fa0a0a" stroke-width="2.6"/>
<rect x="2029.9" y="1014.7" width="8" height="8" fill="#fff" stroke="#fa0a0a" stroke-width="2.6"/>
<rect x="2003.8" y="1037.7" width="8" height="8" fill="#fff" stroke="#fa0a0a" stroke-width="2.6"/>
<rect x="2009.5" y="1034" width="8" height="8" fill="#fff" stroke="#fa0a0a" stroke-width="2.6"/>
<rect x="2021.9" y="1034.8" width="8" height="8" fill="#fff" stroke="#fa0a0a" stroke-width="2.6"/>
<rect x="2035" y="1031.4" width="8" height="8" fill="#fff" stroke="#fa0a0a" stroke-width="2.6"/>
<rect x="2039" y="1035.1" width="8" height="8" fill="#fff" stroke="#fa0a0a" stroke-width="2.6"/>
<rect x="2015.9" y="1049.3" width="8" height="8" fill="#fff" stroke="#fa0a0a" stroke-width="2.6"/>
<rect x="2027.4" y="1049.3" width="8" height="8" fill="#fff" stroke="#fa0a0a" stroke-width="2.6"/>
</g>
<defs><filter id="soft" x="0" y="0" width="100%" height="100%" filterUnits="userSpaceOnUse"><feGaussianBlur stdDeviation="0.45"/></filter></defs>
</svg>
</body></html>
